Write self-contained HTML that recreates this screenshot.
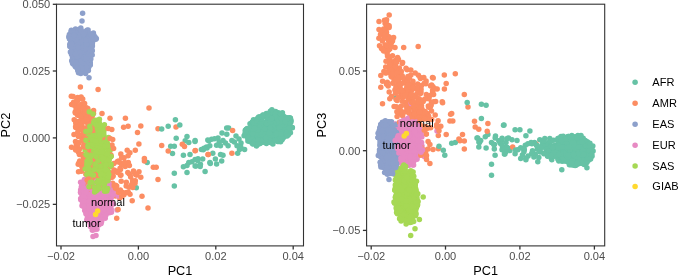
<!DOCTYPE html>
<html><head><meta charset="utf-8"><title>PCA</title>
<style>html,body{margin:0;padding:0;background:#fff}svg{display:block;will-change:transform}</style></head>
<body>
<svg width="685" height="276" viewBox="0 0 685 276">
<style>text{font-family:"Liberation Sans",Arial,sans-serif}.tk{font-size:10.5px;fill:#4d4d4d}.ti{font-size:12.7px;fill:#000}.an{font-size:10.5px;fill:#000}.lg{font-size:10.5px;fill:#000}circle{r:2.75px}.AFR{fill:#66C2A5}.AMR{fill:#FC8D62}.EAS{fill:#8DA0CB}.EUR{fill:#E78AC3}.SAS{fill:#A6D854}.GIAB{fill:#FFD92F}</style>
<rect width="685" height="276" fill="#fff"/>
<g>
<circle class="AFR" cx="257.8" cy="121.3"/>
<circle class="AFR" cx="172.5" cy="153.4"/>
<circle class="AFR" cx="284.9" cy="123.7"/>
<circle class="AFR" cx="287.0" cy="126.0"/>
<circle class="AFR" cx="250.3" cy="138.4"/>
<circle class="AFR" cx="174.3" cy="146.2"/>
<circle class="AFR" cx="275.8" cy="128.7"/>
<circle class="AFR" cx="247.4" cy="134.4"/>
<circle class="AFR" cx="252.8" cy="141.0"/>
<circle class="AFR" cx="271.1" cy="118.8"/>
<circle class="AFR" cx="282.6" cy="136.0"/>
<circle class="AFR" cx="270.1" cy="125.7"/>
<circle class="AFR" cx="265.4" cy="127.7"/>
<circle class="AFR" cx="268.1" cy="137.5"/>
<circle class="AFR" cx="281.2" cy="119.9"/>
<circle class="AFR" cx="268.1" cy="126.4"/>
<circle class="AFR" cx="275.5" cy="136.1"/>
<circle class="AFR" cx="265.4" cy="139.1"/>
<circle class="AFR" cx="278.7" cy="123.9"/>
<circle class="AFR" cx="256.4" cy="145.9"/>
<circle class="AFR" cx="265.8" cy="127.0"/>
<circle class="AFR" cx="212.8" cy="153.3"/>
<circle class="AFR" cx="192.0" cy="161.7"/>
<circle class="AFR" cx="274.1" cy="130.7"/>
<circle class="AFR" cx="276.3" cy="127.1"/>
<circle class="AFR" cx="274.9" cy="137.5"/>
<circle class="AFR" cx="256.6" cy="131.1"/>
<circle class="AFR" cx="256.5" cy="141.6"/>
<circle class="AFR" cx="253.9" cy="129.5"/>
<circle class="AFR" cx="263.9" cy="127.8"/>
<circle class="AFR" cx="257.7" cy="131.3"/>
<circle class="AFR" cx="279.6" cy="133.8"/>
<circle class="AFR" cx="202.7" cy="158.9"/>
<circle class="AFR" cx="260.3" cy="117.8"/>
<circle class="AFR" cx="268.8" cy="132.3"/>
<circle class="AFR" cx="258.9" cy="142.2"/>
<circle class="AFR" cx="250.7" cy="130.1"/>
<circle class="AFR" cx="285.6" cy="124.0"/>
<circle class="AFR" cx="272.7" cy="117.4"/>
<circle class="AFR" cx="282.5" cy="128.7"/>
<circle class="AFR" cx="286.8" cy="132.0"/>
<circle class="AFR" cx="185.2" cy="140.7"/>
<circle class="AFR" cx="255.4" cy="142.3"/>
<circle class="AFR" cx="250.7" cy="138.8"/>
<circle class="AFR" cx="284.7" cy="117.8"/>
<circle class="AFR" cx="252.6" cy="139.9"/>
<circle class="AFR" cx="283.4" cy="137.6"/>
<circle class="AFR" cx="246.6" cy="131.3"/>
<circle class="AFR" cx="269.7" cy="125.1"/>
<circle class="AFR" cx="256.9" cy="128.8"/>
<circle class="AFR" cx="261.5" cy="124.1"/>
<circle class="AFR" cx="245.3" cy="130.2"/>
<circle class="AFR" cx="250.0" cy="123.8"/>
<circle class="AFR" cx="275.0" cy="119.2"/>
<circle class="AFR" cx="271.8" cy="124.5"/>
<circle class="AFR" cx="195.0" cy="141.4"/>
<circle class="AFR" cx="261.1" cy="127.0"/>
<circle class="AFR" cx="287.4" cy="126.6"/>
<circle class="AFR" cx="283.5" cy="117.2"/>
<circle class="AFR" cx="200.4" cy="164.3"/>
<circle class="AFR" cx="266.3" cy="114.6"/>
<circle class="AFR" cx="269.1" cy="122.3"/>
<circle class="AFR" cx="290.8" cy="122.2"/>
<circle class="AFR" cx="136.3" cy="187.8"/>
<circle class="AFR" cx="239.0" cy="139.0"/>
<circle class="AFR" cx="253.5" cy="134.6"/>
<circle class="AFR" cx="190.0" cy="154.5"/>
<circle class="AFR" cx="276.7" cy="135.9"/>
<circle class="AFR" cx="268.9" cy="121.3"/>
<circle class="AFR" cx="284.6" cy="135.2"/>
<circle class="AFR" cx="256.7" cy="135.6"/>
<circle class="AFR" cx="290.4" cy="118.3"/>
<circle class="AFR" cx="273.2" cy="114.3"/>
<circle class="AFR" cx="249.8" cy="141.2"/>
<circle class="AFR" cx="252.0" cy="142.8"/>
<circle class="AFR" cx="260.7" cy="132.8"/>
<circle class="AFR" cx="256.1" cy="132.4"/>
<circle class="AFR" cx="251.6" cy="133.1"/>
<circle class="AFR" cx="267.6" cy="137.5"/>
<circle class="AFR" cx="260.9" cy="138.8"/>
<circle class="AFR" cx="258.5" cy="131.5"/>
<circle class="AFR" cx="215.4" cy="158.9"/>
<circle class="AFR" cx="263.0" cy="115.0"/>
<circle class="AFR" cx="268.3" cy="133.5"/>
<circle class="AFR" cx="266.3" cy="113.6"/>
<circle class="AFR" cx="280.6" cy="141.8"/>
<circle class="AFR" cx="277.7" cy="141.6"/>
<circle class="AFR" cx="263.1" cy="135.0"/>
<circle class="AFR" cx="283.4" cy="129.7"/>
<circle class="AFR" cx="264.5" cy="130.0"/>
<circle class="AFR" cx="290.8" cy="120.8"/>
<circle class="AFR" cx="285.0" cy="124.6"/>
<circle class="AFR" cx="218.0" cy="138.0"/>
<circle class="AFR" cx="262.0" cy="129.4"/>
<circle class="AFR" cx="259.1" cy="130.5"/>
<circle class="AFR" cx="281.3" cy="134.3"/>
<circle class="AFR" cx="279.3" cy="139.0"/>
<circle class="AFR" cx="255.5" cy="134.8"/>
<circle class="AFR" cx="272.1" cy="128.7"/>
<circle class="AFR" cx="272.0" cy="129.2"/>
<circle class="AFR" cx="261.0" cy="129.4"/>
<circle class="AFR" cx="268.2" cy="124.6"/>
<circle class="AFR" cx="216.6" cy="145.2"/>
<circle class="AFR" cx="195.1" cy="159.6"/>
<circle class="AFR" cx="287.6" cy="123.2"/>
<circle class="AFR" cx="187.0" cy="172.6"/>
<circle class="AFR" cx="258.9" cy="135.1"/>
<circle class="AFR" cx="270.9" cy="122.4"/>
<circle class="AFR" cx="260.4" cy="143.0"/>
<circle class="AFR" cx="268.8" cy="138.4"/>
<circle class="AFR" cx="275.6" cy="111.4"/>
<circle class="AFR" cx="255.3" cy="139.3"/>
<circle class="AFR" cx="288.0" cy="127.2"/>
<circle class="AFR" cx="263.8" cy="123.7"/>
<circle class="AFR" cx="256.1" cy="144.5"/>
<circle class="AFR" cx="253.1" cy="124.2"/>
<circle class="AFR" cx="259.1" cy="124.4"/>
<circle class="AFR" cx="286.0" cy="125.8"/>
<circle class="AFR" cx="285.5" cy="130.9"/>
<circle class="AFR" cx="271.1" cy="111.8"/>
<circle class="AFR" cx="266.6" cy="139.8"/>
<circle class="AFR" cx="256.3" cy="132.7"/>
<circle class="AFR" cx="267.6" cy="115.7"/>
<circle class="AFR" cx="278.3" cy="127.5"/>
<circle class="AFR" cx="256.9" cy="142.6"/>
<circle class="AFR" cx="273.1" cy="136.5"/>
<circle class="AFR" cx="286.8" cy="133.2"/>
<circle class="AFR" cx="275.8" cy="128.6"/>
<circle class="AFR" cx="280.2" cy="129.8"/>
<circle class="AFR" cx="277.8" cy="118.0"/>
<circle class="AFR" cx="209.9" cy="162.5"/>
<circle class="AFR" cx="284.7" cy="130.5"/>
<circle class="AFR" cx="255.7" cy="137.8"/>
<circle class="AFR" cx="284.5" cy="126.3"/>
<circle class="AFR" cx="250.8" cy="138.2"/>
<circle class="AFR" cx="228.1" cy="145.7"/>
<circle class="AFR" cx="147.2" cy="162.5"/>
<circle class="AFR" cx="256.7" cy="120.8"/>
<circle class="AFR" cx="288.2" cy="123.0"/>
<circle class="AFR" cx="282.0" cy="139.8"/>
<circle class="AFR" cx="260.9" cy="118.2"/>
<circle class="AFR" cx="255.1" cy="124.4"/>
<circle class="AFR" cx="275.0" cy="138.5"/>
<circle class="AFR" cx="270.7" cy="113.7"/>
<circle class="AFR" cx="247.9" cy="140.9"/>
<circle class="AFR" cx="272.0" cy="124.6"/>
<circle class="AFR" cx="289.6" cy="123.0"/>
<circle class="AFR" cx="195.1" cy="166.0"/>
<circle class="AFR" cx="279.9" cy="133.2"/>
<circle class="AFR" cx="246.3" cy="129.2"/>
<circle class="AFR" cx="288.9" cy="121.2"/>
<circle class="AFR" cx="285.6" cy="127.7"/>
<circle class="AFR" cx="264.3" cy="127.8"/>
<circle class="AFR" cx="281.4" cy="126.5"/>
<circle class="AFR" cx="260.9" cy="124.9"/>
<circle class="AFR" cx="282.1" cy="139.2"/>
<circle class="SAS" cx="93.0" cy="143.1"/>
<circle class="SAS" cx="105.2" cy="153.5"/>
<circle class="SAS" cx="92.3" cy="174.6"/>
<circle class="SAS" cx="108.9" cy="166.7"/>
<circle class="SAS" cx="100.7" cy="153.4"/>
<circle class="SAS" cx="98.0" cy="177.3"/>
<circle class="SAS" cx="105.5" cy="154.2"/>
<circle class="SAS" cx="100.4" cy="146.8"/>
<circle class="SAS" cx="86.3" cy="132.6"/>
<circle class="SAS" cx="90.1" cy="141.4"/>
<circle class="SAS" cx="90.3" cy="161.7"/>
<circle class="SAS" cx="100.9" cy="167.3"/>
<circle class="SAS" cx="88.9" cy="165.0"/>
<circle class="SAS" cx="100.2" cy="171.7"/>
<circle class="SAS" cx="88.6" cy="162.9"/>
<circle class="SAS" cx="104.1" cy="188.7"/>
<circle class="SAS" cx="93.0" cy="134.2"/>
<circle class="SAS" cx="88.5" cy="151.5"/>
<circle class="SAS" cx="107.2" cy="145.4"/>
<circle class="SAS" cx="90.7" cy="146.2"/>
<circle class="SAS" cx="85.3" cy="148.5"/>
<circle class="SAS" cx="92.7" cy="192.3"/>
<circle class="SAS" cx="104.1" cy="169.2"/>
<circle class="SAS" cx="104.7" cy="168.7"/>
<circle class="SAS" cx="107.4" cy="171.0"/>
<circle class="SAS" cx="100.7" cy="156.8"/>
<circle class="SAS" cx="88.0" cy="135.2"/>
<circle class="SAS" cx="108.6" cy="157.2"/>
<circle class="SAS" cx="86.4" cy="158.2"/>
<circle class="SAS" cx="86.7" cy="167.3"/>
<circle class="SAS" cx="90.3" cy="172.2"/>
<circle class="SAS" cx="94.8" cy="147.0"/>
<circle class="SAS" cx="101.5" cy="165.0"/>
<circle class="SAS" cx="97.4" cy="165.2"/>
<circle class="SAS" cx="106.2" cy="137.9"/>
<circle class="SAS" cx="87.8" cy="140.6"/>
<circle class="SAS" cx="85.1" cy="158.2"/>
<circle class="SAS" cx="85.7" cy="133.8"/>
<circle class="SAS" cx="91.2" cy="170.6"/>
<circle class="SAS" cx="88.0" cy="173.2"/>
<circle class="SAS" cx="93.0" cy="175.6"/>
<circle class="SAS" cx="103.8" cy="134.6"/>
<circle class="SAS" cx="97.9" cy="152.1"/>
<circle class="SAS" cx="101.8" cy="169.6"/>
<circle class="SAS" cx="101.4" cy="126.6"/>
<circle class="SAS" cx="108.9" cy="163.6"/>
<circle class="SAS" cx="108.4" cy="164.0"/>
<circle class="SAS" cx="107.2" cy="142.7"/>
<circle class="SAS" cx="100.1" cy="170.5"/>
<circle class="SAS" cx="95.3" cy="151.2"/>
<circle class="SAS" cx="99.1" cy="144.6"/>
<circle class="SAS" cx="96.6" cy="139.6"/>
<circle class="SAS" cx="109.0" cy="159.9"/>
<circle class="SAS" cx="93.7" cy="163.4"/>
<circle class="SAS" cx="98.2" cy="172.8"/>
<circle class="SAS" cx="93.8" cy="178.0"/>
<circle class="SAS" cx="108.9" cy="159.4"/>
<circle class="SAS" cx="91.9" cy="155.1"/>
<circle class="SAS" cx="90.0" cy="172.9"/>
<circle class="SAS" cx="106.7" cy="177.5"/>
<circle class="SAS" cx="96.5" cy="155.6"/>
<circle class="SAS" cx="89.6" cy="166.4"/>
<circle class="SAS" cx="90.4" cy="182.2"/>
<circle class="SAS" cx="102.3" cy="148.6"/>
<circle class="SAS" cx="96.8" cy="176.7"/>
<circle class="SAS" cx="101.4" cy="140.5"/>
<circle class="SAS" cx="102.0" cy="152.4"/>
<circle class="SAS" cx="98.1" cy="158.6"/>
<circle class="SAS" cx="104.6" cy="147.5"/>
<circle class="SAS" cx="105.3" cy="139.8"/>
<circle class="SAS" cx="85.1" cy="132.6"/>
<circle class="SAS" cx="108.7" cy="156.7"/>
<circle class="SAS" cx="108.5" cy="145.6"/>
<circle class="SAS" cx="88.0" cy="179.5"/>
<circle class="SAS" cx="89.0" cy="137.7"/>
<circle class="SAS" cx="88.3" cy="163.0"/>
<circle class="EAS" cx="86.8" cy="39.7"/>
<circle class="EAS" cx="83.3" cy="69.1"/>
<circle class="EAS" cx="85.6" cy="73.5"/>
<circle class="EAS" cx="88.8" cy="39.9"/>
<circle class="EAS" cx="89.0" cy="40.5"/>
<circle class="EAS" cx="91.6" cy="38.6"/>
<circle class="EAS" cx="85.3" cy="71.6"/>
<circle class="EAS" cx="69.4" cy="34.4"/>
<circle class="EAS" cx="76.7" cy="44.9"/>
<circle class="EAS" cx="78.8" cy="59.3"/>
<circle class="EAS" cx="73.1" cy="64.0"/>
<circle class="EAS" cx="83.8" cy="69.0"/>
<circle class="EAS" cx="86.5" cy="35.4"/>
<circle class="EAS" cx="81.8" cy="69.4"/>
<circle class="EAS" cx="85.3" cy="34.9"/>
<circle class="EAS" cx="80.6" cy="30.8"/>
<circle class="EAS" cx="75.5" cy="45.1"/>
<circle class="EAS" cx="73.3" cy="50.4"/>
<circle class="EAS" cx="71.2" cy="31.8"/>
<circle class="EAS" cx="76.8" cy="45.5"/>
<circle class="EAS" cx="81.3" cy="68.1"/>
<circle class="EAS" cx="75.3" cy="46.7"/>
<circle class="EAS" cx="88.4" cy="51.7"/>
<circle class="EAS" cx="86.7" cy="69.2"/>
<circle class="EAS" cx="84.1" cy="60.2"/>
<circle class="EAS" cx="81.7" cy="71.8"/>
<circle class="EAS" cx="81.8" cy="43.9"/>
<circle class="EAS" cx="78.9" cy="52.2"/>
<circle class="EAS" cx="80.3" cy="54.5"/>
<circle class="EAS" cx="79.4" cy="64.3"/>
<circle class="EAS" cx="85.6" cy="51.3"/>
<circle class="EAS" cx="88.7" cy="67.3"/>
<circle class="EAS" cx="72.5" cy="42.9"/>
<circle class="EAS" cx="75.6" cy="56.2"/>
<circle class="EAS" cx="87.4" cy="34.8"/>
<circle class="EAS" cx="89.0" cy="62.0"/>
<circle class="EAS" cx="86.1" cy="31.2"/>
<circle class="EAS" cx="77.9" cy="49.2"/>
<circle class="EAS" cx="79.6" cy="54.1"/>
<circle class="EAS" cx="87.3" cy="60.4"/>
<circle class="EAS" cx="85.3" cy="50.5"/>
<circle class="EAS" cx="75.2" cy="55.0"/>
<circle class="EAS" cx="89.4" cy="37.5"/>
<circle class="EAS" cx="80.3" cy="58.9"/>
<circle class="EAS" cx="72.5" cy="63.1"/>
<circle class="EAS" cx="87.4" cy="36.6"/>
<circle class="EAS" cx="81.9" cy="71.7"/>
<circle class="EAS" cx="76.4" cy="31.1"/>
<circle class="EAS" cx="70.2" cy="37.0"/>
<circle class="EAS" cx="93.7" cy="39.5"/>
<circle class="EAS" cx="86.2" cy="48.7"/>
<circle class="EAS" cx="88.4" cy="46.9"/>
<circle class="EAS" cx="82.5" cy="36.1"/>
<circle class="EAS" cx="69.6" cy="38.3"/>
<circle class="EAS" cx="80.2" cy="67.0"/>
<circle class="EAS" cx="83.2" cy="43.6"/>
<circle class="EAS" cx="84.9" cy="33.7"/>
<circle class="EAS" cx="75.2" cy="50.7"/>
<circle class="EAS" cx="75.5" cy="62.9"/>
<circle class="EAS" cx="87.0" cy="47.2"/>
<circle class="EAS" cx="72.0" cy="36.5"/>
<circle class="EAS" cx="83.7" cy="58.6"/>
<circle class="EAS" cx="72.0" cy="49.0"/>
<circle class="EUR" cx="94.1" cy="211.9"/>
<circle class="EUR" cx="90.8" cy="222.2"/>
<circle class="EUR" cx="99.9" cy="213.6"/>
<circle class="EUR" cx="89.5" cy="204.7"/>
<circle class="EUR" cx="106.7" cy="188.1"/>
<circle class="EUR" cx="92.9" cy="217.4"/>
<circle class="EUR" cx="102.4" cy="217.6"/>
<circle class="EUR" cx="105.2" cy="199.7"/>
<circle class="EUR" cx="103.5" cy="200.7"/>
<circle class="EUR" cx="106.6" cy="200.9"/>
<circle class="EUR" cx="83.6" cy="197.9"/>
<circle class="EUR" cx="90.4" cy="220.0"/>
<circle class="EUR" cx="101.7" cy="196.2"/>
<circle class="EUR" cx="104.1" cy="191.0"/>
<circle class="EUR" cx="101.6" cy="183.3"/>
<circle class="EUR" cx="105.3" cy="185.4"/>
<circle class="EUR" cx="85.4" cy="210.4"/>
<circle class="EUR" cx="101.1" cy="192.5"/>
<circle class="EUR" cx="92.0" cy="198.5"/>
<circle class="EUR" cx="99.1" cy="223.5"/>
<circle class="EUR" cx="98.9" cy="223.0"/>
<circle class="EUR" cx="105.5" cy="196.7"/>
<circle class="EUR" cx="102.9" cy="198.1"/>
<circle class="EUR" cx="102.4" cy="196.5"/>
<circle class="EUR" cx="93.4" cy="187.0"/>
<circle class="EUR" cx="96.8" cy="218.4"/>
<circle class="EUR" cx="101.8" cy="190.4"/>
<circle class="EUR" cx="91.5" cy="198.4"/>
<circle class="EUR" cx="103.7" cy="209.7"/>
<circle class="EUR" cx="104.5" cy="216.4"/>
<circle class="EUR" cx="95.1" cy="227.1"/>
<circle class="EUR" cx="85.3" cy="188.7"/>
<circle class="EUR" cx="93.8" cy="212.4"/>
<circle class="EUR" cx="93.9" cy="229.7"/>
<circle class="EUR" cx="96.1" cy="213.9"/>
<circle class="EUR" cx="94.5" cy="219.9"/>
<circle class="EUR" cx="109.9" cy="195.3"/>
<circle class="EUR" cx="93.5" cy="224.6"/>
<circle class="EUR" cx="84.7" cy="210.4"/>
<circle class="EUR" cx="83.1" cy="206.1"/>
<circle class="EUR" cx="92.2" cy="198.9"/>
<circle class="EUR" cx="92.6" cy="201.0"/>
<circle class="EUR" cx="93.6" cy="208.6"/>
<circle class="EUR" cx="94.3" cy="214.1"/>
<circle class="EUR" cx="88.7" cy="218.4"/>
<circle class="EUR" cx="111.2" cy="209.0"/>
<circle class="EUR" cx="85.3" cy="194.5"/>
<circle class="EUR" cx="92.5" cy="184.9"/>
<circle class="EUR" cx="87.8" cy="204.6"/>
<circle class="EUR" cx="102.2" cy="218.2"/>
<circle class="EUR" cx="96.9" cy="229.2"/>
<circle class="EUR" cx="87.8" cy="204.0"/>
<circle class="EUR" cx="108.2" cy="189.7"/>
<circle class="EUR" cx="89.8" cy="207.9"/>
<circle class="EUR" cx="94.3" cy="214.1"/>
<circle class="EUR" cx="105.7" cy="212.0"/>
<circle class="EUR" cx="93.0" cy="213.0"/>
<circle class="EUR" cx="103.6" cy="182.4"/>
<circle class="EUR" cx="86.8" cy="196.5"/>
<circle class="EUR" cx="86.6" cy="204.7"/>
<circle class="EUR" cx="93.8" cy="182.7"/>
<circle class="EUR" cx="106.9" cy="204.5"/>
<circle class="EUR" cx="100.2" cy="207.2"/>
<circle class="EUR" cx="102.2" cy="197.5"/>
<circle class="EUR" cx="89.0" cy="198.6"/>
<circle class="EUR" cx="99.2" cy="183.6"/>
<circle class="EUR" cx="86.3" cy="195.6"/>
<circle class="EUR" cx="107.2" cy="186.5"/>
<circle class="EUR" cx="99.1" cy="203.1"/>
<circle class="EUR" cx="87.5" cy="181.9"/>
<circle class="EUR" cx="86.1" cy="192.8"/>
<circle class="EUR" cx="90.2" cy="207.1"/>
<circle class="EUR" cx="99.5" cy="217.3"/>
<circle class="EUR" cx="110.3" cy="185.8"/>
<circle class="EUR" cx="103.7" cy="202.2"/>
<circle class="EUR" cx="88.3" cy="199.2"/>
<circle class="EUR" cx="103.5" cy="204.5"/>
<circle class="EUR" cx="98.3" cy="222.5"/>
<circle class="EUR" cx="89.9" cy="186.1"/>
<circle class="EUR" cx="84.4" cy="179.4"/>
<circle class="EUR" cx="90.8" cy="207.6"/>
<circle class="EUR" cx="89.0" cy="208.6"/>
<circle class="EUR" cx="94.8" cy="221.3"/>
<circle class="EUR" cx="91.7" cy="189.6"/>
<circle class="EUR" cx="95.6" cy="214.7"/>
<circle class="EUR" cx="102.8" cy="185.1"/>
<circle class="EUR" cx="92.0" cy="207.0"/>
<circle class="EUR" cx="111.0" cy="204.3"/>
<circle class="EUR" cx="111.4" cy="212.2"/>
<circle class="EUR" cx="110.8" cy="202.8"/>
<circle class="EUR" cx="103.7" cy="178.2"/>
<circle class="EUR" cx="102.2" cy="211.1"/>
<circle class="EUR" cx="107.6" cy="199.8"/>
<circle class="EUR" cx="81.2" cy="193.3"/>
<circle class="EUR" cx="82.2" cy="188.8"/>
<circle class="EUR" cx="82.0" cy="191.1"/>
<circle class="EUR" cx="108.9" cy="205.8"/>
<circle class="EAS" cx="86.3" cy="56.2"/>
<circle class="EAS" cx="80.2" cy="31.9"/>
<circle class="EAS" cx="93.0" cy="37.0"/>
<circle class="EAS" cx="78.6" cy="63.5"/>
<circle class="EAS" cx="93.4" cy="33.0"/>
<circle class="EAS" cx="94.9" cy="36.8"/>
<circle class="EAS" cx="89.7" cy="36.5"/>
<circle class="EAS" cx="74.6" cy="53.5"/>
<circle class="EAS" cx="71.3" cy="30.3"/>
<circle class="EAS" cx="85.2" cy="44.5"/>
<circle class="EAS" cx="85.5" cy="34.5"/>
<circle class="EAS" cx="80.8" cy="57.1"/>
<circle class="EAS" cx="70.9" cy="40.8"/>
<circle class="EAS" cx="89.1" cy="47.7"/>
<circle class="EAS" cx="92.9" cy="37.3"/>
<circle class="EAS" cx="73.9" cy="34.7"/>
<circle class="EAS" cx="78.2" cy="49.0"/>
<circle class="EAS" cx="80.2" cy="51.7"/>
<circle class="EAS" cx="89.9" cy="34.3"/>
<circle class="EAS" cx="89.8" cy="47.9"/>
<circle class="EAS" cx="87.6" cy="65.4"/>
<circle class="EAS" cx="72.9" cy="35.6"/>
<circle class="EAS" cx="74.1" cy="45.6"/>
<circle class="EAS" cx="71.5" cy="54.6"/>
<circle class="EAS" cx="78.3" cy="38.4"/>
<circle class="EAS" cx="80.8" cy="34.4"/>
<circle class="EAS" cx="75.1" cy="66.2"/>
<circle class="EAS" cx="72.5" cy="57.4"/>
<circle class="EAS" cx="80.1" cy="38.5"/>
<circle class="EAS" cx="89.4" cy="57.3"/>
<circle class="EAS" cx="78.7" cy="46.0"/>
<circle class="EAS" cx="92.3" cy="50.8"/>
<circle class="EAS" cx="77.0" cy="34.6"/>
<circle class="EAS" cx="88.5" cy="36.0"/>
<circle class="EAS" cx="79.7" cy="41.4"/>
<circle class="EAS" cx="77.3" cy="50.0"/>
<circle class="EAS" cx="80.3" cy="56.4"/>
<circle class="EAS" cx="84.6" cy="69.1"/>
<circle class="EAS" cx="89.7" cy="39.3"/>
<circle class="EAS" cx="88.3" cy="65.4"/>
<circle class="EAS" cx="87.0" cy="40.4"/>
<circle class="EAS" cx="89.2" cy="35.7"/>
<circle class="EAS" cx="80.3" cy="40.9"/>
<circle class="EAS" cx="90.2" cy="63.2"/>
<circle class="EAS" cx="75.3" cy="42.1"/>
<circle class="EAS" cx="69.8" cy="44.2"/>
<circle class="EAS" cx="83.8" cy="46.0"/>
<circle class="EAS" cx="76.2" cy="40.9"/>
<circle class="EAS" cx="86.8" cy="59.9"/>
<circle class="EAS" cx="86.5" cy="56.3"/>
<circle class="EAS" cx="77.0" cy="30.8"/>
<circle class="EAS" cx="76.4" cy="41.1"/>
<circle class="EAS" cx="85.4" cy="64.3"/>
<circle class="EAS" cx="77.8" cy="70.6"/>
<circle class="EAS" cx="87.1" cy="32.4"/>
<circle class="EAS" cx="88.4" cy="70.6"/>
<circle class="EAS" cx="74.6" cy="64.1"/>
<circle class="EAS" cx="75.3" cy="39.7"/>
<circle class="EAS" cx="75.5" cy="28.9"/>
<circle class="EAS" cx="91.8" cy="36.1"/>
<circle class="EAS" cx="87.8" cy="32.3"/>
<circle class="EAS" cx="71.3" cy="43.3"/>
<circle class="EAS" cx="80.8" cy="73.4"/>
<circle class="EAS" cx="74.1" cy="46.9"/>
<circle class="EAS" cx="76.8" cy="61.8"/>
<circle class="EAS" cx="76.3" cy="34.2"/>
<circle class="EAS" cx="85.8" cy="66.3"/>
<circle class="EAS" cx="87.7" cy="45.7"/>
<circle class="EAS" cx="86.3" cy="64.3"/>
<circle class="EAS" cx="71.6" cy="31.1"/>
<circle class="EAS" cx="80.4" cy="53.0"/>
<circle class="EAS" cx="80.1" cy="64.3"/>
<circle class="EAS" cx="88.7" cy="35.6"/>
<circle class="EAS" cx="71.7" cy="60.7"/>
<circle class="EAS" cx="76.1" cy="57.4"/>
<circle class="EAS" cx="88.6" cy="47.3"/>
<circle class="EAS" cx="77.0" cy="32.0"/>
<circle class="EAS" cx="75.4" cy="63.8"/>
<circle class="EAS" cx="90.2" cy="62.8"/>
<circle class="EAS" cx="75.1" cy="52.8"/>
<circle class="EAS" cx="78.5" cy="29.6"/>
<circle class="EAS" cx="87.0" cy="69.9"/>
<circle class="EAS" cx="83.2" cy="61.6"/>
<circle class="EAS" cx="84.0" cy="66.9"/>
<circle class="EAS" cx="83.5" cy="46.5"/>
<circle class="EAS" cx="79.9" cy="57.0"/>
<circle class="EAS" cx="75.1" cy="59.4"/>
<circle class="EAS" cx="69.8" cy="46.4"/>
<circle class="EAS" cx="86.7" cy="67.0"/>
<circle class="EAS" cx="71.2" cy="35.8"/>
<circle class="EAS" cx="76.5" cy="52.8"/>
<circle class="EAS" cx="88.9" cy="63.1"/>
<circle class="EAS" cx="72.3" cy="40.1"/>
<circle class="EAS" cx="81.7" cy="62.7"/>
<circle class="EAS" cx="81.6" cy="36.6"/>
<circle class="EAS" cx="86.1" cy="51.5"/>
<circle class="EAS" cx="87.5" cy="44.6"/>
<circle class="EAS" cx="78.5" cy="72.7"/>
<circle class="EAS" cx="75.6" cy="32.0"/>
<circle class="EAS" cx="79.0" cy="45.4"/>
<circle class="EAS" cx="75.0" cy="40.2"/>
<circle class="EAS" cx="76.5" cy="49.8"/>
<circle class="EAS" cx="87.8" cy="44.1"/>
<circle class="EAS" cx="79.1" cy="58.7"/>
<circle class="EAS" cx="79.0" cy="53.2"/>
<circle class="EAS" cx="85.2" cy="42.6"/>
<circle class="EAS" cx="85.8" cy="56.1"/>
<circle class="EAS" cx="83.1" cy="50.1"/>
<circle class="EAS" cx="75.6" cy="45.7"/>
<circle class="EAS" cx="85.0" cy="55.7"/>
<circle class="EAS" cx="87.7" cy="41.1"/>
<circle class="EAS" cx="83.1" cy="60.4"/>
<circle class="EAS" cx="81.8" cy="62.4"/>
<circle class="EAS" cx="83.8" cy="43.4"/>
<circle class="EAS" cx="82.8" cy="64.7"/>
<circle class="EAS" cx="79.3" cy="30.2"/>
<circle class="EAS" cx="78.8" cy="64.2"/>
<circle class="EAS" cx="89.0" cy="77.7"/>
<circle class="EAS" cx="93.6" cy="34.8"/>
<circle class="EAS" cx="81.8" cy="40.2"/>
<circle class="EAS" cx="75.6" cy="36.8"/>
<circle class="EAS" cx="72.5" cy="31.8"/>
<circle class="EAS" cx="87.0" cy="30.2"/>
<circle class="EAS" cx="74.4" cy="39.4"/>
<circle class="EAS" cx="69.2" cy="36.5"/>
<circle class="EAS" cx="86.5" cy="66.1"/>
<circle class="EAS" cx="86.7" cy="51.7"/>
<circle class="EAS" cx="91.6" cy="34.8"/>
<circle class="EAS" cx="83.2" cy="39.2"/>
<circle class="EAS" cx="74.6" cy="62.0"/>
<circle class="EAS" cx="79.2" cy="41.6"/>
<circle class="EAS" cx="90.8" cy="59.0"/>
<circle class="AMR" cx="78.4" cy="152.1"/>
<circle class="AMR" cx="81.7" cy="128.2"/>
<circle class="AMR" cx="81.3" cy="104.3"/>
<circle class="AMR" cx="98.0" cy="171.9"/>
<circle class="AMR" cx="84.2" cy="113.0"/>
<circle class="AMR" cx="93.9" cy="171.7"/>
<circle class="AMR" cx="94.5" cy="150.8"/>
<circle class="AMR" cx="89.0" cy="153.0"/>
<circle class="AMR" cx="148.0" cy="208.0"/>
<circle class="AMR" cx="71.3" cy="96.2"/>
<circle class="AMR" cx="85.9" cy="120.5"/>
<circle class="AMR" cx="115.8" cy="171.1"/>
<circle class="AMR" cx="88.2" cy="173.0"/>
<circle class="AMR" cx="129.3" cy="174.0"/>
<circle class="AMR" cx="115.4" cy="196.1"/>
<circle class="AMR" cx="136.8" cy="174.8"/>
<circle class="AMR" cx="118.4" cy="161.0"/>
<circle class="AMR" cx="168.2" cy="150.9"/>
<circle class="AMR" cx="111.6" cy="164.7"/>
<circle class="AMR" cx="126.6" cy="192.5"/>
<circle class="AMR" cx="119.6" cy="198.1"/>
<circle class="AMR" cx="79.1" cy="162.4"/>
<circle class="AMR" cx="120.8" cy="154.0"/>
<circle class="AMR" cx="78.3" cy="121.5"/>
<circle class="AMR" cx="85.1" cy="159.0"/>
<circle class="AMR" cx="90.6" cy="135.2"/>
<circle class="AMR" cx="95.7" cy="158.4"/>
<circle class="AMR" cx="78.3" cy="142.8"/>
<circle class="AMR" cx="74.2" cy="119.7"/>
<circle class="AMR" cx="80.6" cy="97.7"/>
<circle class="AMR" cx="89.4" cy="114.8"/>
<circle class="AMR" cx="88.7" cy="164.0"/>
<circle class="AMR" cx="87.6" cy="132.0"/>
<circle class="AMR" cx="87.4" cy="135.5"/>
<circle class="AMR" cx="91.8" cy="179.7"/>
<circle class="AMR" cx="90.7" cy="171.1"/>
<circle class="AMR" cx="116.3" cy="189.6"/>
<circle class="AMR" cx="82.1" cy="126.3"/>
<circle class="AMR" cx="95.1" cy="141.5"/>
<circle class="AMR" cx="135.3" cy="180.8"/>
<circle class="AMR" cx="85.9" cy="174.2"/>
<circle class="AMR" cx="87.8" cy="174.9"/>
<circle class="AMR" cx="82.2" cy="140.4"/>
<circle class="AMR" cx="86.1" cy="162.1"/>
<circle class="AMR" cx="96.3" cy="150.8"/>
<circle class="AMR" cx="79.3" cy="111.7"/>
<circle class="AMR" cx="112.7" cy="139.5"/>
<circle class="AMR" cx="87.8" cy="119.3"/>
<circle class="AMR" cx="208.0" cy="154.5"/>
<circle class="AMR" cx="94.7" cy="123.3"/>
<circle class="AMR" cx="81.5" cy="171.3"/>
<circle class="AMR" cx="88.4" cy="120.8"/>
<circle class="AMR" cx="129.9" cy="152.7"/>
<circle class="AMR" cx="153.3" cy="167.2"/>
<circle class="AMR" cx="75.2" cy="111.9"/>
<circle class="AMR" cx="73.1" cy="96.5"/>
<circle class="AMR" cx="112.0" cy="204.0"/>
<circle class="AMR" cx="75.0" cy="104.0"/>
<circle class="AMR" cx="119.9" cy="162.5"/>
<circle class="AMR" cx="158.0" cy="128.8"/>
<circle class="AMR" cx="97.4" cy="152.6"/>
<circle class="AMR" cx="89.0" cy="166.4"/>
<circle class="AMR" cx="76.1" cy="108.8"/>
<circle class="AMR" cx="82.7" cy="113.7"/>
<circle class="AMR" cx="121.2" cy="181.3"/>
<circle class="AMR" cx="128.0" cy="163.1"/>
<circle class="AMR" cx="156.2" cy="167.2"/>
<circle class="AMR" cx="90.8" cy="136.2"/>
<circle class="AMR" cx="113.0" cy="186.0"/>
<circle class="AMR" cx="82.7" cy="98.9"/>
<circle class="AMR" cx="130.0" cy="194.2"/>
<circle class="AMR" cx="89.1" cy="168.1"/>
<circle class="AMR" cx="158.0" cy="179.5"/>
<circle class="AMR" cx="75.4" cy="112.9"/>
<circle class="AMR" cx="90.4" cy="170.8"/>
<circle class="AMR" cx="93.6" cy="110.5"/>
<circle class="AMR" cx="111.8" cy="129.5"/>
<circle class="AFR" cx="286.8" cy="122.3"/>
<circle class="AFR" cx="271.8" cy="134.1"/>
<circle class="AFR" cx="259.2" cy="122.5"/>
<circle class="AFR" cx="279.4" cy="124.7"/>
<circle class="AFR" cx="276.4" cy="118.2"/>
<circle class="AFR" cx="257.6" cy="143.3"/>
<circle class="AFR" cx="259.9" cy="130.9"/>
<circle class="AFR" cx="228.6" cy="127.9"/>
<circle class="AFR" cx="275.2" cy="131.6"/>
<circle class="AFR" cx="255.6" cy="125.9"/>
<circle class="AFR" cx="286.6" cy="127.8"/>
<circle class="AFR" cx="258.9" cy="133.1"/>
<circle class="AFR" cx="269.3" cy="135.5"/>
<circle class="AFR" cx="263.2" cy="142.2"/>
<circle class="AFR" cx="287.9" cy="126.6"/>
<circle class="AFR" cx="255.1" cy="121.4"/>
<circle class="AFR" cx="278.1" cy="131.5"/>
<circle class="AFR" cx="259.4" cy="123.5"/>
<circle class="AFR" cx="270.3" cy="140.5"/>
<circle class="AFR" cx="245.9" cy="132.1"/>
<circle class="AFR" cx="276.5" cy="122.6"/>
<circle class="AFR" cx="255.8" cy="125.2"/>
<circle class="AFR" cx="280.3" cy="126.3"/>
<circle class="AFR" cx="289.0" cy="131.2"/>
<circle class="AFR" cx="206.5" cy="147.0"/>
<circle class="AFR" cx="258.5" cy="122.3"/>
<circle class="AFR" cx="234.4" cy="141.9"/>
<circle class="AFR" cx="251.6" cy="122.9"/>
<circle class="AFR" cx="239.5" cy="149.5"/>
<circle class="AFR" cx="278.5" cy="141.5"/>
<circle class="AFR" cx="250.8" cy="127.4"/>
<circle class="AFR" cx="269.9" cy="125.8"/>
<circle class="AFR" cx="288.6" cy="129.4"/>
<circle class="AFR" cx="246.1" cy="130.7"/>
<circle class="AFR" cx="285.1" cy="120.6"/>
<circle class="AFR" cx="273.7" cy="136.1"/>
<circle class="AFR" cx="277.1" cy="126.8"/>
<circle class="AFR" cx="263.5" cy="140.1"/>
<circle class="AFR" cx="259.8" cy="125.7"/>
<circle class="AFR" cx="267.3" cy="118.0"/>
<circle class="AFR" cx="253.1" cy="137.3"/>
<circle class="AFR" cx="254.3" cy="132.9"/>
<circle class="AFR" cx="274.0" cy="125.2"/>
<circle class="AFR" cx="183.4" cy="155.2"/>
<circle class="AFR" cx="269.6" cy="115.9"/>
<circle class="AFR" cx="196.0" cy="166.0"/>
<circle class="AFR" cx="257.1" cy="138.0"/>
<circle class="AFR" cx="290.4" cy="132.7"/>
<circle class="AFR" cx="278.8" cy="135.2"/>
<circle class="AFR" cx="280.0" cy="130.3"/>
<circle class="AFR" cx="208.8" cy="140.7"/>
<circle class="AFR" cx="282.4" cy="112.8"/>
<circle class="AFR" cx="266.8" cy="124.4"/>
<circle class="AFR" cx="272.8" cy="132.9"/>
<circle class="AFR" cx="253.1" cy="124.0"/>
<circle class="AFR" cx="253.5" cy="119.8"/>
<circle class="AFR" cx="247.3" cy="133.6"/>
<circle class="AFR" cx="268.9" cy="122.7"/>
<circle class="AFR" cx="273.3" cy="138.9"/>
<circle class="AFR" cx="278.5" cy="112.8"/>
<circle class="AFR" cx="253.3" cy="136.5"/>
<circle class="AFR" cx="284.5" cy="133.1"/>
<circle class="AFR" cx="250.2" cy="134.7"/>
<circle class="AFR" cx="269.6" cy="113.0"/>
<circle class="AFR" cx="266.4" cy="132.2"/>
<circle class="AFR" cx="275.2" cy="127.4"/>
<circle class="AFR" cx="268.1" cy="133.3"/>
<circle class="AFR" cx="257.9" cy="124.1"/>
<circle class="AFR" cx="244.1" cy="135.7"/>
<circle class="AFR" cx="284.5" cy="128.5"/>
<circle class="AFR" cx="279.6" cy="119.3"/>
<circle class="AFR" cx="276.1" cy="138.4"/>
<circle class="AFR" cx="241.0" cy="143.0"/>
<circle class="EUR" cx="86.7" cy="183.0"/>
<circle class="EUR" cx="110.4" cy="208.7"/>
<circle class="EUR" cx="86.9" cy="211.5"/>
<circle class="EUR" cx="107.4" cy="200.9"/>
<circle class="EUR" cx="104.9" cy="191.0"/>
<circle class="EUR" cx="105.6" cy="202.4"/>
<circle class="EUR" cx="81.3" cy="186.9"/>
<circle class="EUR" cx="97.0" cy="209.1"/>
<circle class="EUR" cx="97.3" cy="204.6"/>
<circle class="EUR" cx="93.1" cy="222.2"/>
<circle class="EUR" cx="98.7" cy="224.9"/>
<circle class="EUR" cx="86.9" cy="210.5"/>
<circle class="EUR" cx="94.1" cy="220.3"/>
<circle class="EUR" cx="103.4" cy="205.8"/>
<circle class="EUR" cx="92.6" cy="207.9"/>
<circle class="EUR" cx="86.2" cy="212.4"/>
<circle class="EUR" cx="81.3" cy="193.6"/>
<circle class="EUR" cx="107.6" cy="187.9"/>
<circle class="EUR" cx="91.8" cy="182.0"/>
<circle class="EUR" cx="82.5" cy="198.7"/>
<circle class="EUR" cx="99.1" cy="177.6"/>
<circle class="EUR" cx="109.7" cy="200.6"/>
<circle class="EUR" cx="90.3" cy="187.8"/>
<circle class="EUR" cx="100.2" cy="223.8"/>
<circle class="EUR" cx="108.1" cy="184.8"/>
<circle class="EUR" cx="85.1" cy="183.4"/>
<circle class="EUR" cx="93.2" cy="185.6"/>
<circle class="EUR" cx="93.3" cy="206.7"/>
<circle class="EUR" cx="106.6" cy="210.1"/>
<circle class="EUR" cx="87.4" cy="217.0"/>
<circle class="EUR" cx="83.3" cy="186.7"/>
<circle class="EUR" cx="97.2" cy="187.9"/>
<circle class="EUR" cx="103.5" cy="194.5"/>
<circle class="EUR" cx="103.4" cy="199.5"/>
<circle class="EUR" cx="101.6" cy="219.6"/>
<circle class="EUR" cx="117.0" cy="210.0"/>
<circle class="EUR" cx="98.0" cy="194.2"/>
<circle class="EUR" cx="100.2" cy="198.6"/>
<circle class="EUR" cx="94.1" cy="203.8"/>
<circle class="EUR" cx="84.9" cy="203.3"/>
<circle class="EUR" cx="107.5" cy="190.3"/>
<circle class="EUR" cx="86.8" cy="203.9"/>
<circle class="EUR" cx="89.9" cy="176.9"/>
<circle class="EUR" cx="100.8" cy="217.5"/>
<circle class="EUR" cx="93.2" cy="184.0"/>
<circle class="EUR" cx="88.4" cy="181.2"/>
<circle class="EUR" cx="98.2" cy="220.3"/>
<circle class="EUR" cx="96.1" cy="217.1"/>
<circle class="EUR" cx="88.9" cy="199.3"/>
<circle class="EUR" cx="102.5" cy="198.2"/>
<circle class="EUR" cx="87.2" cy="206.8"/>
<circle class="EUR" cx="96.5" cy="206.3"/>
<circle class="EUR" cx="99.7" cy="211.4"/>
<circle class="EUR" cx="97.2" cy="189.9"/>
<circle class="EUR" cx="93.1" cy="183.6"/>
<circle class="EUR" cx="94.6" cy="211.7"/>
<circle class="EUR" cx="84.2" cy="196.9"/>
<circle class="EUR" cx="85.8" cy="187.7"/>
<circle class="EUR" cx="81.8" cy="184.4"/>
<circle class="EUR" cx="95.7" cy="180.9"/>
<circle class="EUR" cx="98.6" cy="197.9"/>
<circle class="EUR" cx="95.9" cy="200.5"/>
<circle class="EUR" cx="96.8" cy="212.2"/>
<circle class="EUR" cx="94.6" cy="199.3"/>
<circle class="EUR" cx="108.5" cy="198.6"/>
<circle class="EUR" cx="90.0" cy="216.0"/>
<circle class="EUR" cx="86.7" cy="204.3"/>
<circle class="EUR" cx="101.6" cy="221.5"/>
<circle class="EUR" cx="81.0" cy="199.9"/>
<circle class="EUR" cx="96.3" cy="209.4"/>
<circle class="EUR" cx="90.0" cy="223.1"/>
<circle class="EUR" cx="102.4" cy="195.3"/>
<circle class="EUR" cx="92.9" cy="226.6"/>
<circle class="EUR" cx="93.5" cy="183.6"/>
<circle class="EUR" cx="108.3" cy="193.3"/>
<circle class="EUR" cx="93.1" cy="192.9"/>
<circle class="EUR" cx="99.3" cy="207.5"/>
<circle class="EUR" cx="89.1" cy="220.5"/>
<circle class="EUR" cx="98.4" cy="214.4"/>
<circle class="EUR" cx="86.3" cy="187.6"/>
<circle class="EUR" cx="104.3" cy="212.8"/>
<circle class="EUR" cx="101.2" cy="214.3"/>
<circle class="EUR" cx="83.0" cy="192.2"/>
<circle class="EUR" cx="92.5" cy="211.2"/>
<circle class="EUR" cx="89.5" cy="177.4"/>
<circle class="EUR" cx="95.1" cy="212.4"/>
<circle class="EUR" cx="91.4" cy="194.3"/>
<circle class="EUR" cx="102.9" cy="193.8"/>
<circle class="EUR" cx="106.8" cy="198.7"/>
<circle class="EUR" cx="92.7" cy="214.7"/>
<circle class="EUR" cx="96.1" cy="216.3"/>
<circle class="EUR" cx="89.5" cy="196.1"/>
<circle class="EUR" cx="101.6" cy="212.0"/>
<circle class="EUR" cx="98.4" cy="216.9"/>
<circle class="EUR" cx="87.8" cy="200.8"/>
<circle class="EUR" cx="103.8" cy="209.7"/>
<circle class="EUR" cx="107.7" cy="189.7"/>
<circle class="EUR" cx="111.4" cy="197.2"/>
<circle class="EUR" cx="89.4" cy="211.5"/>
<circle class="EUR" cx="94.9" cy="186.7"/>
<circle class="EUR" cx="82.7" cy="196.7"/>
<circle class="EUR" cx="89.7" cy="206.8"/>
<circle class="EUR" cx="104.1" cy="201.0"/>
<circle class="EUR" cx="85.5" cy="196.1"/>
<circle class="EUR" cx="83.8" cy="194.1"/>
<circle class="EUR" cx="93.3" cy="191.1"/>
<circle class="EUR" cx="91.4" cy="221.6"/>
<circle class="EUR" cx="106.0" cy="214.3"/>
<circle class="EUR" cx="94.1" cy="195.0"/>
<circle class="EUR" cx="90.2" cy="188.2"/>
<circle class="EUR" cx="96.6" cy="204.4"/>
<circle class="EUR" cx="89.3" cy="183.2"/>
<circle class="EUR" cx="103.5" cy="208.2"/>
<circle class="EUR" cx="113.2" cy="204.0"/>
<circle class="EUR" cx="103.7" cy="186.5"/>
<circle class="EUR" cx="96.3" cy="201.0"/>
<circle class="EUR" cx="99.8" cy="216.1"/>
<circle class="EUR" cx="90.9" cy="212.0"/>
<circle class="EUR" cx="96.7" cy="197.9"/>
<circle class="EUR" cx="101.4" cy="194.3"/>
<circle class="EUR" cx="95.0" cy="196.1"/>
<circle class="EUR" cx="87.2" cy="200.3"/>
<circle class="EUR" cx="100.2" cy="213.7"/>
<circle class="EUR" cx="95.8" cy="186.1"/>
<circle class="EUR" cx="112.2" cy="194.1"/>
<circle class="EUR" cx="91.1" cy="213.5"/>
<circle class="EUR" cx="102.8" cy="201.4"/>
<circle class="EUR" cx="95.6" cy="195.1"/>
<circle class="EUR" cx="94.9" cy="192.2"/>
<circle class="EUR" cx="82.9" cy="191.7"/>
<circle class="EUR" cx="109.4" cy="212.8"/>
<circle class="EUR" cx="111.9" cy="193.2"/>
<circle class="EUR" cx="99.8" cy="192.0"/>
<circle class="EUR" cx="95.0" cy="200.2"/>
<circle class="EUR" cx="90.7" cy="184.6"/>
<circle class="EUR" cx="96.5" cy="193.3"/>
<circle class="EUR" cx="85.7" cy="207.9"/>
<circle class="EUR" cx="93.1" cy="217.9"/>
<circle class="EUR" cx="89.0" cy="192.7"/>
<circle class="EUR" cx="84.8" cy="199.2"/>
<circle class="EUR" cx="96.0" cy="235.5"/>
<circle class="EUR" cx="107.9" cy="212.2"/>
<circle class="EUR" cx="92.7" cy="209.7"/>
<circle class="EUR" cx="85.9" cy="197.6"/>
<circle class="EUR" cx="105.3" cy="208.6"/>
<circle class="EUR" cx="89.6" cy="186.4"/>
<circle class="EUR" cx="96.2" cy="209.1"/>
<circle class="EUR" cx="86.8" cy="219.7"/>
<circle class="EUR" cx="95.8" cy="217.0"/>
<circle class="EUR" cx="99.9" cy="189.4"/>
<circle class="EUR" cx="85.0" cy="183.1"/>
<circle class="EUR" cx="82.0" cy="205.8"/>
<circle class="EUR" cx="103.0" cy="195.6"/>
<circle class="EUR" cx="94.0" cy="207.9"/>
<circle class="EUR" cx="93.4" cy="189.6"/>
<circle class="EUR" cx="88.9" cy="186.8"/>
<circle class="EUR" cx="80.5" cy="192.2"/>
<circle class="EUR" cx="107.6" cy="193.6"/>
<circle class="EUR" cx="93.9" cy="209.0"/>
<circle class="EUR" cx="106.1" cy="181.3"/>
<circle class="EUR" cx="92.8" cy="207.9"/>
<circle class="EUR" cx="92.9" cy="228.1"/>
<circle class="EUR" cx="95.9" cy="212.6"/>
<circle class="EUR" cx="104.8" cy="179.1"/>
<circle class="EUR" cx="107.5" cy="187.7"/>
<circle class="EUR" cx="93.2" cy="210.8"/>
<circle class="EUR" cx="95.1" cy="182.9"/>
<circle class="EUR" cx="102.9" cy="192.3"/>
<circle class="EUR" cx="94.8" cy="205.4"/>
<circle class="EUR" cx="103.9" cy="188.3"/>
<circle class="EUR" cx="88.1" cy="199.4"/>
<circle class="EUR" cx="93.8" cy="193.9"/>
<circle class="EUR" cx="93.8" cy="210.9"/>
<circle class="EUR" cx="98.2" cy="182.1"/>
<circle class="EUR" cx="92.0" cy="178.8"/>
<circle class="EUR" cx="108.3" cy="200.9"/>
<circle class="EUR" cx="111.1" cy="200.9"/>
<circle class="EUR" cx="103.1" cy="200.7"/>
<circle class="EUR" cx="92.1" cy="209.8"/>
<circle class="SAS" cx="92.7" cy="133.5"/>
<circle class="SAS" cx="94.1" cy="182.8"/>
<circle class="SAS" cx="92.2" cy="189.6"/>
<circle class="SAS" cx="99.0" cy="151.0"/>
<circle class="SAS" cx="89.4" cy="167.6"/>
<circle class="SAS" cx="108.5" cy="185.1"/>
<circle class="SAS" cx="109.7" cy="150.3"/>
<circle class="SAS" cx="86.4" cy="129.0"/>
<circle class="SAS" cx="94.6" cy="133.0"/>
<circle class="SAS" cx="96.0" cy="141.0"/>
<circle class="SAS" cx="105.7" cy="154.4"/>
<circle class="SAS" cx="88.1" cy="169.4"/>
<circle class="SAS" cx="92.8" cy="180.9"/>
<circle class="SAS" cx="90.6" cy="138.3"/>
<circle class="SAS" cx="108.6" cy="137.4"/>
<circle class="SAS" cx="103.4" cy="176.7"/>
<circle class="SAS" cx="93.5" cy="184.2"/>
<circle class="SAS" cx="101.4" cy="180.5"/>
<circle class="SAS" cx="97.3" cy="161.6"/>
<circle class="SAS" cx="88.0" cy="146.5"/>
<circle class="SAS" cx="92.3" cy="189.9"/>
<circle class="SAS" cx="94.9" cy="125.8"/>
<circle class="SAS" cx="96.5" cy="149.0"/>
<circle class="SAS" cx="107.7" cy="174.3"/>
<circle class="SAS" cx="105.0" cy="162.8"/>
<circle class="SAS" cx="93.5" cy="127.1"/>
<circle class="SAS" cx="104.2" cy="128.9"/>
<circle class="SAS" cx="100.4" cy="137.1"/>
<circle class="SAS" cx="103.5" cy="144.5"/>
<circle class="SAS" cx="95.9" cy="176.9"/>
<circle class="SAS" cx="92.2" cy="151.5"/>
<circle class="SAS" cx="88.8" cy="175.7"/>
<circle class="SAS" cx="95.7" cy="120.5"/>
<circle class="SAS" cx="96.9" cy="125.4"/>
<circle class="SAS" cx="93.7" cy="122.0"/>
<circle class="SAS" cx="89.6" cy="159.0"/>
<circle class="SAS" cx="106.6" cy="168.2"/>
<circle class="SAS" cx="96.6" cy="151.9"/>
<circle class="SAS" cx="91.7" cy="160.4"/>
<circle class="SAS" cx="110.6" cy="157.1"/>
<circle class="SAS" cx="86.6" cy="162.8"/>
<circle class="SAS" cx="93.5" cy="178.7"/>
<circle class="SAS" cx="96.0" cy="158.8"/>
<circle class="SAS" cx="91.9" cy="186.3"/>
<circle class="SAS" cx="107.7" cy="162.3"/>
<circle class="SAS" cx="97.1" cy="191.5"/>
<circle class="SAS" cx="89.1" cy="125.6"/>
<circle class="SAS" cx="106.1" cy="142.0"/>
<circle class="SAS" cx="102.2" cy="170.0"/>
<circle class="SAS" cx="93.2" cy="160.0"/>
<circle class="SAS" cx="92.8" cy="186.8"/>
<circle class="SAS" cx="99.5" cy="129.3"/>
<circle class="SAS" cx="92.9" cy="155.9"/>
<circle class="SAS" cx="109.1" cy="148.0"/>
<circle class="SAS" cx="106.2" cy="141.8"/>
<circle class="SAS" cx="95.6" cy="133.6"/>
<circle class="SAS" cx="94.1" cy="136.2"/>
<circle class="SAS" cx="92.5" cy="174.2"/>
<circle class="SAS" cx="98.1" cy="127.1"/>
<circle class="SAS" cx="105.7" cy="159.6"/>
<circle class="SAS" cx="92.4" cy="171.8"/>
<circle class="SAS" cx="105.1" cy="176.4"/>
<circle class="SAS" cx="103.3" cy="183.2"/>
<circle class="SAS" cx="92.1" cy="129.5"/>
<circle class="SAS" cx="93.8" cy="149.2"/>
<circle class="SAS" cx="88.2" cy="133.0"/>
<circle class="SAS" cx="95.8" cy="164.1"/>
<circle class="SAS" cx="107.4" cy="169.8"/>
<circle class="SAS" cx="94.2" cy="177.7"/>
<circle class="SAS" cx="86.8" cy="165.7"/>
<circle class="SAS" cx="102.1" cy="164.9"/>
<circle class="SAS" cx="99.3" cy="122.7"/>
<circle class="SAS" cx="105.5" cy="178.1"/>
<circle class="SAS" cx="96.2" cy="185.4"/>
<circle class="SAS" cx="86.3" cy="134.6"/>
<circle class="SAS" cx="101.8" cy="147.5"/>
<circle class="SAS" cx="101.4" cy="171.1"/>
<circle class="SAS" cx="91.6" cy="146.2"/>
<circle class="AFR" cx="249.3" cy="135.1"/>
<circle class="AFR" cx="198.0" cy="158.8"/>
<circle class="AFR" cx="277.7" cy="140.9"/>
<circle class="AFR" cx="256.7" cy="138.6"/>
<circle class="AFR" cx="275.8" cy="126.9"/>
<circle class="AFR" cx="270.1" cy="136.5"/>
<circle class="AFR" cx="205.1" cy="171.5"/>
<circle class="AFR" cx="211.6" cy="139.3"/>
<circle class="AFR" cx="254.4" cy="143.5"/>
<circle class="AFR" cx="282.7" cy="131.7"/>
<circle class="AFR" cx="161.7" cy="129.1"/>
<circle class="AFR" cx="279.3" cy="139.7"/>
<circle class="AFR" cx="260.0" cy="130.4"/>
<circle class="AFR" cx="275.2" cy="130.6"/>
<circle class="AFR" cx="276.3" cy="128.2"/>
<circle class="AFR" cx="286.5" cy="132.8"/>
<circle class="AFR" cx="269.0" cy="124.8"/>
<circle class="AFR" cx="250.3" cy="139.5"/>
<circle class="AFR" cx="290.2" cy="126.2"/>
<circle class="AFR" cx="288.3" cy="120.2"/>
<circle class="AFR" cx="289.6" cy="123.5"/>
<circle class="AFR" cx="275.7" cy="139.9"/>
<circle class="AFR" cx="277.7" cy="138.5"/>
<circle class="AFR" cx="281.2" cy="132.5"/>
<circle class="AFR" cx="253.4" cy="131.5"/>
<circle class="AFR" cx="252.4" cy="122.0"/>
<circle class="AFR" cx="266.5" cy="116.5"/>
<circle class="AFR" cx="283.1" cy="115.7"/>
<circle class="AFR" cx="277.0" cy="124.9"/>
<circle class="AFR" cx="270.7" cy="122.9"/>
<circle class="AFR" cx="273.5" cy="123.1"/>
<circle class="AFR" cx="267.4" cy="133.4"/>
<circle class="AFR" cx="275.0" cy="115.9"/>
<circle class="AFR" cx="288.3" cy="120.6"/>
<circle class="AFR" cx="283.5" cy="132.6"/>
<circle class="AFR" cx="282.3" cy="120.0"/>
<circle class="AFR" cx="272.3" cy="123.4"/>
<circle class="AFR" cx="265.1" cy="124.4"/>
<circle class="AFR" cx="274.4" cy="140.4"/>
<circle class="AFR" cx="240.8" cy="147.0"/>
<circle class="AFR" cx="257.5" cy="135.5"/>
<circle class="AFR" cx="286.4" cy="135.3"/>
<circle class="AFR" cx="207.0" cy="148.0"/>
<circle class="AFR" cx="285.7" cy="133.6"/>
<circle class="AFR" cx="237.7" cy="153.3"/>
<circle class="AFR" cx="286.9" cy="118.5"/>
<circle class="AFR" cx="275.8" cy="126.0"/>
<circle class="AFR" cx="269.5" cy="122.1"/>
<circle class="AFR" cx="263.6" cy="131.4"/>
<circle class="AFR" cx="269.6" cy="123.4"/>
<circle class="AFR" cx="278.0" cy="128.5"/>
<circle class="AFR" cx="278.0" cy="127.4"/>
<circle class="AFR" cx="250.4" cy="132.5"/>
<circle class="AFR" cx="263.3" cy="134.5"/>
<circle class="AFR" cx="266.7" cy="139.4"/>
<circle class="AFR" cx="176.2" cy="138.2"/>
<circle class="AFR" cx="247.2" cy="128.5"/>
<circle class="AFR" cx="237.0" cy="145.7"/>
<circle class="AFR" cx="276.3" cy="126.5"/>
<circle class="AFR" cx="278.3" cy="126.0"/>
<circle class="AFR" cx="270.6" cy="142.4"/>
<circle class="AFR" cx="264.1" cy="131.6"/>
<circle class="AFR" cx="290.9" cy="120.6"/>
<circle class="AFR" cx="270.5" cy="133.7"/>
<circle class="AFR" cx="266.4" cy="143.4"/>
<circle class="AFR" cx="276.9" cy="113.7"/>
<circle class="AFR" cx="265.5" cy="138.2"/>
<circle class="AFR" cx="236.0" cy="136.0"/>
<circle class="AFR" cx="287.9" cy="117.8"/>
<circle class="EUR" cx="113.7" cy="190.3"/>
<circle class="EUR" cx="93.9" cy="196.9"/>
<circle class="EUR" cx="95.2" cy="202.9"/>
<circle class="EUR" cx="100.0" cy="203.6"/>
<circle class="EUR" cx="80.7" cy="198.5"/>
<circle class="EUR" cx="94.9" cy="216.9"/>
<circle class="EUR" cx="83.6" cy="184.1"/>
<circle class="EUR" cx="103.0" cy="199.9"/>
<circle class="EUR" cx="104.6" cy="190.4"/>
<circle class="EUR" cx="104.2" cy="191.2"/>
<circle class="EUR" cx="110.1" cy="193.5"/>
<circle class="EUR" cx="93.7" cy="199.5"/>
<circle class="EUR" cx="95.0" cy="218.8"/>
<circle class="EUR" cx="102.2" cy="186.1"/>
<circle class="EUR" cx="109.9" cy="201.4"/>
<circle class="EUR" cx="100.8" cy="199.9"/>
<circle class="EUR" cx="101.1" cy="223.4"/>
<circle class="EUR" cx="92.0" cy="219.0"/>
<circle class="EUR" cx="100.3" cy="200.8"/>
<circle class="EUR" cx="96.4" cy="224.4"/>
<circle class="EUR" cx="88.5" cy="186.1"/>
<circle class="EUR" cx="94.5" cy="221.1"/>
<circle class="EUR" cx="93.5" cy="224.5"/>
<circle class="EUR" cx="93.3" cy="190.9"/>
<circle class="EUR" cx="97.9" cy="214.5"/>
<circle class="EUR" cx="97.4" cy="217.9"/>
<circle class="EUR" cx="95.6" cy="211.3"/>
<circle class="EUR" cx="103.9" cy="195.1"/>
<circle class="EUR" cx="106.3" cy="198.9"/>
<circle class="EUR" cx="87.9" cy="203.4"/>
<circle class="EUR" cx="99.4" cy="218.1"/>
<circle class="EUR" cx="97.1" cy="218.4"/>
<circle class="EUR" cx="104.1" cy="205.7"/>
<circle class="EUR" cx="93.3" cy="220.7"/>
<circle class="EUR" cx="88.1" cy="189.0"/>
<circle class="EUR" cx="99.3" cy="186.3"/>
<circle class="EUR" cx="101.9" cy="212.2"/>
<circle class="EUR" cx="86.8" cy="200.8"/>
<circle class="EUR" cx="96.2" cy="194.1"/>
<circle class="EUR" cx="91.3" cy="224.4"/>
<circle class="EUR" cx="99.3" cy="199.3"/>
<circle class="EUR" cx="104.6" cy="184.5"/>
<circle class="EUR" cx="104.7" cy="215.6"/>
<circle class="EUR" cx="90.0" cy="185.8"/>
<circle class="EUR" cx="101.7" cy="195.4"/>
<circle class="EUR" cx="101.9" cy="192.5"/>
<circle class="EUR" cx="85.4" cy="180.7"/>
<circle class="EUR" cx="98.1" cy="190.5"/>
<circle class="EUR" cx="105.3" cy="214.7"/>
<circle class="EUR" cx="84.9" cy="187.2"/>
<circle class="EUR" cx="92.8" cy="209.9"/>
<circle class="EUR" cx="91.6" cy="227.0"/>
<circle class="EUR" cx="101.4" cy="216.9"/>
<circle class="EUR" cx="88.5" cy="201.5"/>
<circle class="EUR" cx="90.7" cy="218.2"/>
<circle class="EUR" cx="110.0" cy="204.6"/>
<circle class="EUR" cx="92.9" cy="215.2"/>
<circle class="EUR" cx="96.4" cy="177.4"/>
<circle class="EUR" cx="113.1" cy="193.7"/>
<circle class="EUR" cx="98.8" cy="212.8"/>
<circle class="EUR" cx="103.3" cy="186.7"/>
<circle class="EUR" cx="92.8" cy="226.5"/>
<circle class="EUR" cx="100.3" cy="188.8"/>
<circle class="EUR" cx="109.0" cy="194.1"/>
<circle class="EUR" cx="91.2" cy="208.4"/>
<circle class="EUR" cx="91.8" cy="198.3"/>
<circle class="EUR" cx="106.5" cy="180.1"/>
<circle class="EUR" cx="97.1" cy="213.3"/>
<circle class="EUR" cx="108.9" cy="189.8"/>
<circle class="EUR" cx="80.6" cy="189.9"/>
<circle class="EUR" cx="92.5" cy="202.1"/>
<circle class="EUR" cx="85.6" cy="193.2"/>
<circle class="EUR" cx="92.4" cy="196.9"/>
<circle class="EUR" cx="94.7" cy="209.3"/>
<circle class="EUR" cx="80.6" cy="182.3"/>
<circle class="EUR" cx="104.4" cy="201.5"/>
<circle class="EUR" cx="110.4" cy="202.4"/>
<circle class="EUR" cx="107.6" cy="194.3"/>
<circle class="EUR" cx="84.0" cy="193.7"/>
<circle class="EUR" cx="107.0" cy="192.3"/>
<circle class="EUR" cx="109.3" cy="188.9"/>
<circle class="EUR" cx="97.5" cy="184.2"/>
<circle class="EUR" cx="83.0" cy="182.1"/>
<circle class="EUR" cx="86.8" cy="183.3"/>
<circle class="EUR" cx="113.2" cy="194.5"/>
<circle class="EUR" cx="105.2" cy="218.3"/>
<circle class="EUR" cx="88.3" cy="188.3"/>
<circle class="EUR" cx="99.7" cy="207.0"/>
<circle class="EUR" cx="89.8" cy="220.2"/>
<circle class="EUR" cx="118.0" cy="196.0"/>
<circle class="EUR" cx="107.9" cy="203.7"/>
<circle class="EUR" cx="105.3" cy="196.7"/>
<circle class="EUR" cx="103.6" cy="194.3"/>
<circle class="SAS" cx="88.3" cy="162.4"/>
<circle class="SAS" cx="99.1" cy="162.4"/>
<circle class="SAS" cx="102.2" cy="138.1"/>
<circle class="SAS" cx="100.4" cy="168.8"/>
<circle class="SAS" cx="109.1" cy="172.1"/>
<circle class="SAS" cx="108.3" cy="185.8"/>
<circle class="SAS" cx="103.2" cy="184.1"/>
<circle class="SAS" cx="98.8" cy="161.9"/>
<circle class="SAS" cx="91.4" cy="173.6"/>
<circle class="SAS" cx="100.5" cy="181.8"/>
<circle class="SAS" cx="105.4" cy="173.7"/>
<circle class="SAS" cx="96.4" cy="150.3"/>
<circle class="SAS" cx="92.0" cy="125.5"/>
<circle class="SAS" cx="95.5" cy="159.4"/>
<circle class="SAS" cx="111.2" cy="156.3"/>
<circle class="SAS" cx="94.4" cy="161.0"/>
<circle class="SAS" cx="103.3" cy="167.2"/>
<circle class="SAS" cx="96.2" cy="120.3"/>
<circle class="SAS" cx="109.9" cy="150.7"/>
<circle class="SAS" cx="108.0" cy="157.6"/>
<circle class="SAS" cx="100.5" cy="151.1"/>
<circle class="SAS" cx="102.4" cy="130.3"/>
<circle class="SAS" cx="94.0" cy="180.9"/>
<circle class="SAS" cx="97.3" cy="175.8"/>
<circle class="SAS" cx="101.1" cy="130.1"/>
<circle class="SAS" cx="88.2" cy="172.5"/>
<circle class="SAS" cx="96.2" cy="133.5"/>
<circle class="SAS" cx="101.9" cy="132.6"/>
<circle class="SAS" cx="102.8" cy="164.5"/>
<circle class="SAS" cx="98.4" cy="181.8"/>
<circle class="SAS" cx="101.5" cy="139.1"/>
<circle class="SAS" cx="98.8" cy="148.5"/>
<circle class="SAS" cx="85.6" cy="133.0"/>
<circle class="SAS" cx="101.3" cy="140.1"/>
<circle class="SAS" cx="94.7" cy="152.1"/>
<circle class="SAS" cx="95.8" cy="186.2"/>
<circle class="SAS" cx="106.4" cy="187.0"/>
<circle class="SAS" cx="105.4" cy="170.2"/>
<circle class="SAS" cx="103.4" cy="140.6"/>
<circle class="SAS" cx="98.4" cy="137.5"/>
<circle class="SAS" cx="105.0" cy="177.7"/>
<circle class="SAS" cx="88.1" cy="168.0"/>
<circle class="SAS" cx="101.5" cy="127.2"/>
<circle class="SAS" cx="107.1" cy="153.6"/>
<circle class="SAS" cx="97.1" cy="157.9"/>
<circle class="SAS" cx="104.4" cy="124.7"/>
<circle class="SAS" cx="103.5" cy="138.6"/>
<circle class="SAS" cx="94.9" cy="182.0"/>
<circle class="SAS" cx="100.3" cy="180.3"/>
<circle class="SAS" cx="89.4" cy="167.3"/>
<circle class="SAS" cx="87.9" cy="131.0"/>
<circle class="SAS" cx="89.7" cy="174.6"/>
<circle class="SAS" cx="98.2" cy="153.2"/>
<circle class="SAS" cx="100.7" cy="187.7"/>
<circle class="SAS" cx="90.7" cy="145.9"/>
<circle class="SAS" cx="88.4" cy="124.7"/>
<circle class="SAS" cx="104.6" cy="192.6"/>
<circle class="SAS" cx="94.7" cy="124.2"/>
<circle class="SAS" cx="97.0" cy="160.3"/>
<circle class="SAS" cx="100.5" cy="134.2"/>
<circle class="SAS" cx="91.3" cy="126.5"/>
<circle class="SAS" cx="98.5" cy="156.1"/>
<circle class="SAS" cx="99.9" cy="171.8"/>
<circle class="SAS" cx="87.5" cy="158.8"/>
<circle class="SAS" cx="98.7" cy="159.1"/>
<circle class="SAS" cx="93.1" cy="185.6"/>
<circle class="SAS" cx="95.2" cy="179.4"/>
<circle class="SAS" cx="111.2" cy="166.5"/>
<circle class="SAS" cx="85.8" cy="135.2"/>
<circle class="SAS" cx="91.4" cy="130.9"/>
<circle class="SAS" cx="88.6" cy="165.0"/>
<circle class="SAS" cx="87.3" cy="130.7"/>
<circle class="SAS" cx="89.4" cy="163.7"/>
<circle class="SAS" cx="98.2" cy="159.9"/>
<circle class="SAS" cx="104.6" cy="156.8"/>
<circle class="SAS" cx="102.6" cy="179.6"/>
<circle class="SAS" cx="85.1" cy="149.9"/>
<circle class="SAS" cx="86.6" cy="154.6"/>
<circle class="SAS" cx="95.2" cy="125.0"/>
<circle class="SAS" cx="95.2" cy="155.0"/>
<circle class="SAS" cx="108.5" cy="151.1"/>
<circle class="SAS" cx="97.9" cy="150.1"/>
<circle class="SAS" cx="103.9" cy="160.1"/>
<circle class="SAS" cx="91.5" cy="160.3"/>
<circle class="SAS" cx="88.7" cy="181.6"/>
<circle class="SAS" cx="100.6" cy="143.1"/>
<circle class="SAS" cx="105.3" cy="156.0"/>
<circle class="EAS" cx="82.6" cy="13.3"/>
<circle class="EAS" cx="82.9" cy="37.4"/>
<circle class="EAS" cx="75.6" cy="32.7"/>
<circle class="EAS" cx="81.5" cy="40.7"/>
<circle class="EAS" cx="87.5" cy="46.3"/>
<circle class="EAS" cx="73.0" cy="31.6"/>
<circle class="EAS" cx="81.1" cy="64.6"/>
<circle class="EAS" cx="92.5" cy="42.4"/>
<circle class="EAS" cx="88.6" cy="54.6"/>
<circle class="EAS" cx="83.7" cy="49.0"/>
<circle class="EAS" cx="77.5" cy="33.9"/>
<circle class="EAS" cx="80.3" cy="34.2"/>
<circle class="EAS" cx="86.9" cy="39.5"/>
<circle class="EAS" cx="82.9" cy="70.6"/>
<circle class="EAS" cx="96.3" cy="38.5"/>
<circle class="EAS" cx="87.5" cy="53.8"/>
<circle class="EAS" cx="73.2" cy="50.5"/>
<circle class="EAS" cx="75.2" cy="56.5"/>
<circle class="EAS" cx="89.2" cy="44.2"/>
<circle class="EAS" cx="74.5" cy="50.7"/>
<circle class="EAS" cx="91.2" cy="46.8"/>
<circle class="EAS" cx="86.5" cy="51.3"/>
<circle class="EAS" cx="80.8" cy="28.1"/>
<circle class="EAS" cx="73.1" cy="46.4"/>
<circle class="EAS" cx="80.7" cy="65.4"/>
<circle class="EAS" cx="87.7" cy="55.2"/>
<circle class="EAS" cx="70.6" cy="36.8"/>
<circle class="EAS" cx="76.4" cy="45.8"/>
<circle class="EAS" cx="92.4" cy="45.9"/>
<circle class="EAS" cx="90.5" cy="43.4"/>
<circle class="EAS" cx="92.8" cy="38.5"/>
<circle class="EAS" cx="88.4" cy="37.3"/>
<circle class="EAS" cx="87.8" cy="65.3"/>
<circle class="EAS" cx="78.3" cy="58.4"/>
<circle class="EAS" cx="81.6" cy="56.7"/>
<circle class="EAS" cx="85.2" cy="67.8"/>
<circle class="EAS" cx="86.9" cy="54.0"/>
<circle class="EAS" cx="88.1" cy="29.9"/>
<circle class="EAS" cx="73.2" cy="50.8"/>
<circle class="EAS" cx="71.1" cy="32.8"/>
<circle class="EAS" cx="90.3" cy="65.0"/>
<circle class="EAS" cx="85.2" cy="57.4"/>
<circle class="EAS" cx="80.7" cy="56.9"/>
<circle class="EAS" cx="69.2" cy="37.2"/>
<circle class="EAS" cx="74.3" cy="35.0"/>
<circle class="EAS" cx="74.0" cy="49.2"/>
<circle class="EAS" cx="80.7" cy="39.2"/>
<circle class="EAS" cx="86.1" cy="58.1"/>
<circle class="EAS" cx="75.3" cy="59.2"/>
<circle class="EAS" cx="81.5" cy="50.9"/>
<circle class="EAS" cx="77.3" cy="61.7"/>
<circle class="EAS" cx="71.9" cy="46.4"/>
<circle class="EAS" cx="75.7" cy="56.4"/>
<circle class="EAS" cx="85.2" cy="44.0"/>
<circle class="EAS" cx="71.5" cy="52.3"/>
<circle class="EAS" cx="82.0" cy="21.0"/>
<circle class="EAS" cx="85.1" cy="56.5"/>
<circle class="EAS" cx="90.0" cy="60.1"/>
<circle class="EAS" cx="87.8" cy="55.0"/>
<circle class="EAS" cx="84.8" cy="32.4"/>
<circle class="EAS" cx="87.5" cy="60.4"/>
<circle class="EAS" cx="77.1" cy="68.1"/>
<circle class="EAS" cx="81.6" cy="46.1"/>
<circle class="EAS" cx="87.4" cy="54.2"/>
<circle class="EAS" cx="75.2" cy="36.8"/>
<circle class="EAS" cx="69.1" cy="37.1"/>
<circle class="EAS" cx="85.0" cy="51.7"/>
<circle class="EAS" cx="74.5" cy="38.0"/>
<circle class="EAS" cx="83.9" cy="40.9"/>
<circle class="EAS" cx="87.5" cy="64.0"/>
<circle class="EAS" cx="70.1" cy="37.5"/>
<circle class="EAS" cx="82.9" cy="58.5"/>
<circle class="EAS" cx="86.2" cy="48.7"/>
<circle class="EAS" cx="80.4" cy="71.5"/>
<circle class="EAS" cx="88.6" cy="59.8"/>
<circle class="EAS" cx="92.3" cy="45.0"/>
<circle class="EAS" cx="76.0" cy="62.2"/>
<circle class="EAS" cx="79.3" cy="37.8"/>
<circle class="EAS" cx="75.8" cy="66.9"/>
<circle class="EAS" cx="69.6" cy="36.3"/>
<circle class="EAS" cx="78.4" cy="52.6"/>
<circle class="EAS" cx="88.0" cy="39.2"/>
<circle class="EAS" cx="85.5" cy="58.6"/>
<circle class="EAS" cx="76.3" cy="39.9"/>
<circle class="EAS" cx="70.6" cy="42.8"/>
<circle class="EAS" cx="81.3" cy="30.6"/>
<circle class="EAS" cx="81.0" cy="55.0"/>
<circle class="EAS" cx="80.4" cy="47.7"/>
<circle class="EAS" cx="89.2" cy="50.9"/>
<circle class="EAS" cx="84.5" cy="64.5"/>
<circle class="EAS" cx="82.9" cy="45.6"/>
<circle class="EAS" cx="77.1" cy="55.9"/>
<circle class="EAS" cx="69.5" cy="39.1"/>
<circle class="EAS" cx="86.0" cy="49.7"/>
<circle class="EAS" cx="80.9" cy="42.5"/>
<circle class="EAS" cx="91.7" cy="48.7"/>
<circle class="EAS" cx="79.8" cy="49.8"/>
<circle class="EAS" cx="80.5" cy="69.3"/>
<circle class="EAS" cx="72.9" cy="55.8"/>
<circle class="EAS" cx="81.2" cy="61.6"/>
<circle class="EAS" cx="89.6" cy="57.8"/>
<circle class="EAS" cx="76.4" cy="63.8"/>
<circle class="EAS" cx="81.2" cy="48.5"/>
<circle class="EAS" cx="83.7" cy="34.0"/>
<circle class="EAS" cx="88.4" cy="52.9"/>
<circle class="EAS" cx="83.9" cy="57.6"/>
<circle class="EAS" cx="76.9" cy="53.3"/>
<circle class="EAS" cx="90.1" cy="53.4"/>
<circle class="EAS" cx="95.8" cy="39.3"/>
<circle class="EAS" cx="89.4" cy="52.8"/>
<circle class="EAS" cx="79.3" cy="50.9"/>
<circle class="EAS" cx="78.3" cy="44.8"/>
<circle class="EAS" cx="92.2" cy="54.9"/>
<circle class="EAS" cx="71.4" cy="44.1"/>
<circle class="EAS" cx="76.9" cy="56.5"/>
<circle class="EAS" cx="71.8" cy="47.9"/>
<circle class="EAS" cx="90.0" cy="33.9"/>
<circle class="EAS" cx="77.7" cy="47.5"/>
<circle class="EAS" cx="88.7" cy="43.3"/>
<circle class="EAS" cx="86.5" cy="43.9"/>
<circle class="EAS" cx="86.3" cy="56.2"/>
<circle class="EAS" cx="73.4" cy="62.3"/>
<circle class="EAS" cx="73.0" cy="38.0"/>
<circle class="EAS" cx="86.5" cy="67.2"/>
<circle class="EAS" cx="75.0" cy="52.9"/>
<circle class="EAS" cx="88.0" cy="58.2"/>
<circle class="EAS" cx="87.8" cy="56.7"/>
<circle class="EAS" cx="73.7" cy="35.5"/>
<circle class="EAS" cx="86.1" cy="58.7"/>
<circle class="EAS" cx="91.5" cy="34.9"/>
<circle class="EAS" cx="70.4" cy="52.0"/>
<circle class="EAS" cx="75.4" cy="54.3"/>
<circle class="EAS" cx="76.0" cy="63.1"/>
<circle class="EAS" cx="77.2" cy="67.3"/>
<circle class="EAS" cx="82.1" cy="68.6"/>
<circle class="EAS" cx="77.8" cy="69.6"/>
<circle class="EAS" cx="86.1" cy="40.2"/>
<circle class="EAS" cx="89.7" cy="49.7"/>
<circle class="AFR" cx="250.9" cy="137.9"/>
<circle class="AFR" cx="257.2" cy="142.1"/>
<circle class="AFR" cx="266.0" cy="138.3"/>
<circle class="AFR" cx="277.0" cy="122.0"/>
<circle class="AFR" cx="273.4" cy="127.1"/>
<circle class="AFR" cx="281.4" cy="136.1"/>
<circle class="AFR" cx="279.6" cy="116.9"/>
<circle class="AFR" cx="262.2" cy="117.3"/>
<circle class="AFR" cx="282.9" cy="124.6"/>
<circle class="AFR" cx="263.1" cy="138.1"/>
<circle class="AFR" cx="248.2" cy="138.0"/>
<circle class="AFR" cx="266.6" cy="136.7"/>
<circle class="AFR" cx="251.4" cy="127.9"/>
<circle class="AFR" cx="292.3" cy="127.8"/>
<circle class="AFR" cx="273.4" cy="130.3"/>
<circle class="AFR" cx="252.8" cy="144.0"/>
<circle class="AFR" cx="251.7" cy="140.2"/>
<circle class="AFR" cx="255.1" cy="128.8"/>
<circle class="AFR" cx="276.6" cy="127.2"/>
<circle class="AFR" cx="170.7" cy="146.2"/>
<circle class="AFR" cx="268.7" cy="136.9"/>
<circle class="AFR" cx="270.3" cy="111.3"/>
<circle class="AFR" cx="188.8" cy="162.5"/>
<circle class="AFR" cx="277.6" cy="115.8"/>
<circle class="AFR" cx="282.8" cy="124.9"/>
<circle class="AFR" cx="260.1" cy="116.8"/>
<circle class="AFR" cx="249.4" cy="135.5"/>
<circle class="AFR" cx="209.8" cy="145.7"/>
<circle class="AFR" cx="290.3" cy="118.4"/>
<circle class="AFR" cx="289.3" cy="119.3"/>
<circle class="AFR" cx="260.8" cy="123.6"/>
<circle class="AFR" cx="286.4" cy="119.9"/>
<circle class="AFR" cx="261.6" cy="120.7"/>
<circle class="AFR" cx="271.1" cy="142.5"/>
<circle class="AFR" cx="274.7" cy="136.5"/>
<circle class="AFR" cx="231.9" cy="140.6"/>
<circle class="AFR" cx="168.2" cy="126.2"/>
<circle class="AFR" cx="280.1" cy="119.7"/>
<circle class="AFR" cx="285.5" cy="122.5"/>
<circle class="AFR" cx="277.1" cy="132.9"/>
<circle class="AFR" cx="276.8" cy="135.3"/>
<circle class="AFR" cx="188.8" cy="142.5"/>
<circle class="AFR" cx="263.4" cy="122.1"/>
<circle class="AFR" cx="223.0" cy="155.3"/>
<circle class="AFR" cx="252.8" cy="137.2"/>
<circle class="AFR" cx="253.8" cy="125.3"/>
<circle class="AFR" cx="261.4" cy="117.5"/>
<circle class="AFR" cx="256.3" cy="135.8"/>
<circle class="AFR" cx="254.1" cy="121.2"/>
<circle class="AFR" cx="260.7" cy="126.5"/>
<circle class="AFR" cx="251.0" cy="139.0"/>
<circle class="AFR" cx="251.9" cy="134.6"/>
<circle class="AFR" cx="264.7" cy="141.8"/>
<circle class="AFR" cx="263.4" cy="116.8"/>
<circle class="AFR" cx="220.5" cy="154.6"/>
<circle class="AFR" cx="249.7" cy="141.4"/>
<circle class="AFR" cx="272.1" cy="133.3"/>
<circle class="AFR" cx="275.9" cy="118.1"/>
<circle class="AFR" cx="259.1" cy="139.2"/>
<circle class="AFR" cx="261.4" cy="129.7"/>
<circle class="AFR" cx="289.6" cy="129.2"/>
<circle class="AFR" cx="274.4" cy="140.2"/>
<circle class="AFR" cx="252.3" cy="138.5"/>
<circle class="AFR" cx="262.2" cy="128.9"/>
<circle class="AFR" cx="284.9" cy="129.1"/>
<circle class="AFR" cx="275.1" cy="139.0"/>
<circle class="AFR" cx="225.5" cy="143.1"/>
<circle class="AFR" cx="258.0" cy="128.7"/>
<circle class="AFR" cx="274.2" cy="116.9"/>
<circle class="AFR" cx="285.1" cy="120.5"/>
<circle class="AFR" cx="263.1" cy="135.0"/>
<circle class="AFR" cx="282.1" cy="123.6"/>
<circle class="AFR" cx="270.9" cy="140.4"/>
<circle class="AFR" cx="279.7" cy="118.0"/>
<circle class="AFR" cx="264.7" cy="127.4"/>
<circle class="AFR" cx="219.2" cy="141.9"/>
<circle class="AFR" cx="279.0" cy="124.1"/>
<circle class="AFR" cx="284.1" cy="137.1"/>
<circle class="AFR" cx="276.1" cy="130.0"/>
<circle class="AFR" cx="266.2" cy="132.2"/>
<circle class="AFR" cx="245.1" cy="133.5"/>
<circle class="AFR" cx="274.3" cy="139.8"/>
<circle class="AFR" cx="261.5" cy="120.2"/>
<circle class="AFR" cx="226.7" cy="128.0"/>
<circle class="AFR" cx="272.0" cy="142.3"/>
<circle class="AFR" cx="268.1" cy="122.1"/>
<circle class="AFR" cx="279.3" cy="125.6"/>
<circle class="AFR" cx="269.5" cy="132.6"/>
<circle class="AFR" cx="258.6" cy="133.3"/>
<circle class="AFR" cx="276.8" cy="137.1"/>
<circle class="AFR" cx="258.7" cy="127.0"/>
<circle class="AFR" cx="263.0" cy="134.0"/>
<circle class="AFR" cx="259.0" cy="134.3"/>
<circle class="AFR" cx="210.3" cy="163.5"/>
<circle class="AFR" cx="251.3" cy="139.6"/>
<circle class="AFR" cx="279.4" cy="132.4"/>
<circle class="AFR" cx="174.3" cy="186.0"/>
<circle class="AFR" cx="201.4" cy="149.5"/>
<circle class="AFR" cx="279.0" cy="113.9"/>
<circle class="AFR" cx="270.3" cy="139.0"/>
<circle class="AFR" cx="203.3" cy="149.8"/>
<circle class="AFR" cx="277.0" cy="131.7"/>
<circle class="AFR" cx="258.0" cy="120.5"/>
<circle class="AFR" cx="276.1" cy="133.0"/>
<circle class="AFR" cx="254.7" cy="125.5"/>
<circle class="AFR" cx="252.2" cy="139.8"/>
<circle class="AFR" cx="273.9" cy="127.9"/>
<circle class="AFR" cx="281.1" cy="139.3"/>
<circle class="AFR" cx="287.7" cy="127.7"/>
<circle class="AFR" cx="263.9" cy="136.1"/>
<circle class="AFR" cx="195.1" cy="140.6"/>
<circle class="AFR" cx="264.1" cy="127.1"/>
<circle class="AFR" cx="175.4" cy="119.7"/>
<circle class="AFR" cx="187.0" cy="165.4"/>
<circle class="AFR" cx="245.9" cy="132.3"/>
<circle class="AFR" cx="262.0" cy="127.3"/>
<circle class="AFR" cx="253.3" cy="131.6"/>
<circle class="AFR" cx="275.9" cy="124.0"/>
<circle class="AFR" cx="262.9" cy="115.2"/>
<circle class="AFR" cx="280.8" cy="137.2"/>
<circle class="AFR" cx="246.5" cy="129.8"/>
<circle class="AFR" cx="283.9" cy="119.7"/>
<circle class="AFR" cx="252.5" cy="135.4"/>
<circle class="AFR" cx="261.7" cy="134.2"/>
<circle class="AFR" cx="292.3" cy="127.5"/>
<circle class="AFR" cx="257.2" cy="136.7"/>
<circle class="AFR" cx="284.0" cy="121.4"/>
<circle class="AFR" cx="266.5" cy="129.4"/>
<circle class="AFR" cx="275.2" cy="137.8"/>
<circle class="AFR" cx="252.7" cy="122.0"/>
<circle class="AFR" cx="275.1" cy="127.6"/>
<circle class="AFR" cx="289.8" cy="117.7"/>
<circle class="AFR" cx="256.7" cy="121.9"/>
<circle class="AFR" cx="244.6" cy="149.5"/>
<circle class="AFR" cx="254.5" cy="122.9"/>
<circle class="AFR" cx="281.5" cy="122.3"/>
<circle class="AFR" cx="257.0" cy="121.3"/>
<circle class="AFR" cx="260.0" cy="143.6"/>
<circle class="AFR" cx="274.8" cy="117.0"/>
<circle class="AFR" cx="270.8" cy="130.8"/>
<circle class="AFR" cx="266.8" cy="123.8"/>
<circle class="AFR" cx="267.5" cy="137.5"/>
<circle class="AFR" cx="253.9" cy="142.4"/>
<circle class="AFR" cx="276.3" cy="133.9"/>
<circle class="AFR" cx="252.6" cy="139.4"/>
<circle class="AFR" cx="276.4" cy="140.2"/>
<circle class="AFR" cx="272.2" cy="128.9"/>
<circle class="AFR" cx="267.5" cy="120.1"/>
<circle class="AFR" cx="221.7" cy="160.9"/>
<circle class="AFR" cx="284.7" cy="116.9"/>
<circle class="AFR" cx="261.9" cy="121.4"/>
<circle class="AFR" cx="251.8" cy="136.4"/>
<circle class="AFR" cx="260.5" cy="123.8"/>
<circle class="AFR" cx="276.4" cy="117.7"/>
<circle class="AFR" cx="261.7" cy="140.9"/>
<circle class="AFR" cx="214.6" cy="138.8"/>
<circle class="AFR" cx="275.5" cy="117.1"/>
<circle class="AFR" cx="280.0" cy="138.2"/>
<circle class="AFR" cx="259.5" cy="142.1"/>
<circle class="AMR" cx="80.5" cy="108.3"/>
<circle class="AMR" cx="94.4" cy="155.9"/>
<circle class="AMR" cx="79.5" cy="148.9"/>
<circle class="AMR" cx="112.6" cy="183.3"/>
<circle class="AMR" cx="134.7" cy="173.6"/>
<circle class="AMR" cx="232.6" cy="130.5"/>
<circle class="AMR" cx="95.1" cy="146.4"/>
<circle class="AMR" cx="76.1" cy="121.5"/>
<circle class="AMR" cx="98.5" cy="171.1"/>
<circle class="AMR" cx="75.9" cy="123.0"/>
<circle class="AMR" cx="130.7" cy="177.0"/>
<circle class="AMR" cx="128.3" cy="162.5"/>
<circle class="AMR" cx="71.6" cy="104.6"/>
<circle class="AMR" cx="107.0" cy="169.5"/>
<circle class="AMR" cx="76.1" cy="123.6"/>
<circle class="AMR" cx="195.4" cy="150.5"/>
<circle class="AMR" cx="140.8" cy="125.9"/>
<circle class="AMR" cx="77.6" cy="97.4"/>
<circle class="AMR" cx="112.0" cy="145.0"/>
<circle class="AMR" cx="91.4" cy="164.9"/>
<circle class="AMR" cx="94.0" cy="132.9"/>
<circle class="AMR" cx="77.9" cy="150.4"/>
<circle class="AMR" cx="90.0" cy="171.5"/>
<circle class="AMR" cx="93.9" cy="130.9"/>
<circle class="AMR" cx="137.5" cy="132.6"/>
<circle class="AMR" cx="92.2" cy="116.6"/>
<circle class="AMR" cx="83.5" cy="133.7"/>
<circle class="AMR" cx="77.1" cy="98.9"/>
<circle class="AMR" cx="88.7" cy="115.0"/>
<circle class="AMR" cx="75.5" cy="141.4"/>
<circle class="AMR" cx="86.9" cy="110.1"/>
<circle class="AMR" cx="87.9" cy="171.5"/>
<circle class="AMR" cx="125.2" cy="166.4"/>
<circle class="AMR" cx="115.5" cy="188.3"/>
<circle class="AMR" cx="133.0" cy="182.9"/>
<circle class="AMR" cx="83.6" cy="146.8"/>
<circle class="AMR" cx="77.5" cy="114.4"/>
<circle class="AMR" cx="90.8" cy="183.9"/>
<circle class="AMR" cx="95.6" cy="180.0"/>
<circle class="AMR" cx="78.4" cy="148.9"/>
<circle class="AMR" cx="89.1" cy="176.1"/>
<circle class="AMR" cx="80.9" cy="120.8"/>
<circle class="AMR" cx="81.1" cy="96.9"/>
<circle class="AMR" cx="78.9" cy="130.0"/>
<circle class="AMR" cx="87.9" cy="128.1"/>
<circle class="AMR" cx="82.3" cy="103.9"/>
<circle class="AMR" cx="126.2" cy="186.0"/>
<circle class="AMR" cx="91.0" cy="118.2"/>
<circle class="AMR" cx="92.4" cy="165.9"/>
<circle class="AMR" cx="90.7" cy="177.8"/>
<circle class="AMR" cx="81.9" cy="166.8"/>
<circle class="AMR" cx="127.8" cy="172.4"/>
<circle class="AMR" cx="86.7" cy="107.9"/>
<circle class="AMR" cx="80.7" cy="129.1"/>
<circle class="AMR" cx="129.4" cy="165.6"/>
<circle class="AMR" cx="88.4" cy="113.3"/>
<circle class="AMR" cx="78.6" cy="99.0"/>
<circle class="AMR" cx="87.8" cy="108.6"/>
<circle class="AMR" cx="82.3" cy="139.3"/>
<circle class="AMR" cx="87.1" cy="181.3"/>
<circle class="AMR" cx="76.4" cy="144.3"/>
<circle class="AMR" cx="88.1" cy="147.3"/>
<circle class="AMR" cx="92.0" cy="153.2"/>
<circle class="AMR" cx="112.3" cy="172.9"/>
<circle class="AMR" cx="89.9" cy="160.0"/>
<circle class="AMR" cx="94.4" cy="180.7"/>
<circle class="AMR" cx="71.5" cy="147.3"/>
<circle class="AMR" cx="88.6" cy="183.0"/>
<circle class="AMR" cx="129.0" cy="187.2"/>
<circle class="AMR" cx="149.0" cy="108.1"/>
<circle class="AMR" cx="128.1" cy="126.2"/>
<circle class="AMR" cx="93.3" cy="141.2"/>
<circle class="AMR" cx="77.7" cy="115.3"/>
<circle class="AMR" cx="95.4" cy="159.9"/>
<circle class="AMR" cx="124.1" cy="157.8"/>
<circle class="AMR" cx="110.9" cy="154.9"/>
<circle class="AMR" cx="128.1" cy="155.8"/>
<circle class="AMR" cx="79.7" cy="128.4"/>
<circle class="AMR" cx="86.5" cy="121.9"/>
<circle class="AMR" cx="184.5" cy="146.5"/>
<circle class="AMR" cx="84.7" cy="109.4"/>
<circle class="AMR" cx="115.5" cy="185.2"/>
<circle class="AMR" cx="114.0" cy="170.0"/>
<circle class="AMR" cx="92.6" cy="172.0"/>
<circle class="AMR" cx="81.7" cy="118.4"/>
<circle class="AMR" cx="76.5" cy="101.2"/>
<circle class="AMR" cx="98.1" cy="162.2"/>
<circle class="AMR" cx="124.0" cy="194.7"/>
<circle class="AMR" cx="79.4" cy="154.6"/>
<circle class="AMR" cx="81.0" cy="129.5"/>
<circle class="AMR" cx="139.0" cy="171.8"/>
<circle class="AMR" cx="91.2" cy="192.2"/>
<circle class="AMR" cx="74.0" cy="134.6"/>
<circle class="AMR" cx="91.3" cy="188.4"/>
<circle class="AMR" cx="74.0" cy="103.8"/>
<circle class="AMR" cx="121.8" cy="196.4"/>
<circle class="AMR" cx="136.4" cy="174.4"/>
<circle class="AMR" cx="98.1" cy="89.6"/>
<circle class="AMR" cx="73.6" cy="102.3"/>
<circle class="AMR" cx="111.0" cy="176.0"/>
<circle class="AMR" cx="113.9" cy="163.6"/>
<circle class="AMR" cx="85.6" cy="117.3"/>
<circle class="AMR" cx="208.3" cy="154.6"/>
<circle class="AMR" cx="109.4" cy="178.0"/>
<circle class="AMR" cx="138.9" cy="144.0"/>
<circle class="AMR" cx="90.2" cy="151.5"/>
<circle class="AMR" cx="176.0" cy="127.0"/>
<circle class="AMR" cx="125.4" cy="118.3"/>
<circle class="AMR" cx="80.4" cy="87.1"/>
<circle class="AMR" cx="126.3" cy="182.3"/>
<circle class="AMR" cx="118.1" cy="209.5"/>
<circle class="AMR" cx="88.0" cy="185.6"/>
<circle class="AMR" cx="86.8" cy="155.8"/>
<circle class="AMR" cx="92.6" cy="138.8"/>
<circle class="AMR" cx="77.4" cy="145.2"/>
<circle class="AMR" cx="93.0" cy="135.6"/>
<circle class="AMR" cx="133.5" cy="170.9"/>
<circle class="AMR" cx="86.4" cy="117.5"/>
<circle class="AMR" cx="96.3" cy="169.0"/>
<circle class="AMR" cx="127.2" cy="150.3"/>
<circle class="AMR" cx="90.8" cy="172.7"/>
<circle class="AMR" cx="120.7" cy="190.9"/>
<circle class="AMR" cx="96.0" cy="178.3"/>
<circle class="AMR" cx="231.9" cy="153.3"/>
<circle class="AMR" cx="120.1" cy="168.3"/>
<circle class="AMR" cx="92.0" cy="157.1"/>
<circle class="AMR" cx="113.2" cy="176.0"/>
<circle class="AMR" cx="82.4" cy="113.9"/>
<circle class="AMR" cx="109.5" cy="174.0"/>
<circle class="AMR" cx="83.9" cy="163.7"/>
<circle class="AMR" cx="161.7" cy="145.4"/>
<circle class="AMR" cx="93.5" cy="113.4"/>
<circle class="AMR" cx="136.3" cy="175.0"/>
<circle class="AMR" cx="117.6" cy="172.4"/>
<circle class="AMR" cx="118.4" cy="192.3"/>
<circle class="AMR" cx="75.1" cy="148.5"/>
<circle class="AMR" cx="82.0" cy="129.1"/>
<circle class="AMR" cx="85.4" cy="145.6"/>
<circle class="AMR" cx="77.9" cy="112.5"/>
<circle class="AMR" cx="81.9" cy="154.3"/>
<circle class="AMR" cx="95.7" cy="186.6"/>
<circle class="AMR" cx="98.6" cy="170.5"/>
<circle class="AMR" cx="74.1" cy="105.3"/>
<circle class="AMR" cx="182.3" cy="144.3"/>
<circle class="AMR" cx="142.0" cy="196.2"/>
<circle class="AMR" cx="132.2" cy="200.8"/>
<circle class="AMR" cx="79.0" cy="105.8"/>
<circle class="AMR" cx="94.6" cy="146.8"/>
<circle class="AMR" cx="102.0" cy="113.5"/>
<circle class="AMR" cx="86.2" cy="108.1"/>
<circle class="AMR" cx="92.2" cy="190.1"/>
<circle class="AMR" cx="83.9" cy="144.8"/>
<circle class="AMR" cx="89.6" cy="141.0"/>
<circle class="AMR" cx="90.8" cy="153.3"/>
<circle class="AMR" cx="75.7" cy="150.1"/>
<circle class="AMR" cx="84.9" cy="165.4"/>
<circle class="EUR" cx="110.8" cy="210.8"/>
<circle class="EUR" cx="108.7" cy="203.9"/>
<circle class="EUR" cx="106.6" cy="195.0"/>
<circle class="EUR" cx="101.6" cy="205.0"/>
<circle class="EUR" cx="106.6" cy="205.6"/>
<circle class="EUR" cx="105.1" cy="193.1"/>
<circle class="EUR" cx="81.1" cy="199.5"/>
<circle class="EUR" cx="95.7" cy="206.7"/>
<circle class="EUR" cx="93.0" cy="236.5"/>
<circle class="EUR" cx="90.7" cy="206.2"/>
<circle class="EUR" cx="86.4" cy="190.1"/>
<circle class="EUR" cx="105.8" cy="212.4"/>
<circle class="EUR" cx="106.6" cy="191.9"/>
<circle class="EUR" cx="87.6" cy="204.2"/>
<circle class="EUR" cx="107.5" cy="183.0"/>
<circle class="EUR" cx="100.7" cy="211.8"/>
<circle class="EUR" cx="108.9" cy="183.3"/>
<circle class="EUR" cx="90.7" cy="204.1"/>
<circle class="EUR" cx="89.2" cy="185.9"/>
<circle class="EUR" cx="105.4" cy="192.0"/>
<circle class="EUR" cx="107.4" cy="190.7"/>
<circle class="EUR" cx="106.3" cy="203.8"/>
<circle class="EUR" cx="109.3" cy="211.3"/>
<circle class="EUR" cx="93.5" cy="218.9"/>
<circle class="EUR" cx="103.8" cy="212.3"/>
<circle class="EUR" cx="92.3" cy="230.3"/>
<circle class="EUR" cx="82.6" cy="203.4"/>
<circle class="EUR" cx="83.0" cy="182.8"/>
<circle class="EUR" cx="108.8" cy="186.0"/>
<circle class="EUR" cx="98.6" cy="196.2"/>
<circle class="EUR" cx="89.4" cy="201.3"/>
<circle class="EUR" cx="100.9" cy="187.0"/>
<circle class="EUR" cx="92.9" cy="190.5"/>
<circle class="EUR" cx="95.3" cy="209.7"/>
<circle class="EUR" cx="94.4" cy="207.1"/>
<circle class="EUR" cx="107.7" cy="207.7"/>
<circle class="EUR" cx="111.6" cy="202.9"/>
<circle class="EUR" cx="90.4" cy="226.5"/>
<circle class="EUR" cx="91.9" cy="207.7"/>
<circle class="EUR" cx="90.4" cy="196.3"/>
<circle class="EUR" cx="96.6" cy="187.2"/>
<circle class="EUR" cx="83.2" cy="197.3"/>
<circle class="EUR" cx="83.5" cy="195.8"/>
<circle class="EUR" cx="83.0" cy="190.0"/>
<circle class="EUR" cx="88.0" cy="187.0"/>
<circle class="EUR" cx="88.4" cy="205.9"/>
<circle class="EUR" cx="94.9" cy="183.6"/>
<circle class="EUR" cx="92.9" cy="208.7"/>
<circle class="EUR" cx="97.6" cy="216.5"/>
<circle class="EUR" cx="92.0" cy="185.1"/>
<circle class="EUR" cx="98.5" cy="184.6"/>
<circle class="EUR" cx="93.4" cy="216.1"/>
<circle class="EUR" cx="109.9" cy="207.3"/>
<circle class="EUR" cx="108.2" cy="181.9"/>
<circle class="EUR" cx="101.5" cy="190.0"/>
<circle class="EUR" cx="102.6" cy="194.3"/>
<circle class="EUR" cx="84.2" cy="206.5"/>
<circle class="EUR" cx="95.4" cy="195.9"/>
<circle class="EUR" cx="93.8" cy="207.6"/>
<circle class="EUR" cx="92.7" cy="195.7"/>
<circle class="EUR" cx="107.7" cy="194.4"/>
<circle class="EUR" cx="96.4" cy="222.1"/>
<circle class="EUR" cx="109.1" cy="193.0"/>
<circle class="EUR" cx="88.7" cy="208.1"/>
<circle class="EUR" cx="105.7" cy="201.1"/>
<circle class="EUR" cx="106.5" cy="190.4"/>
<circle class="EUR" cx="107.0" cy="190.3"/>
<circle class="EUR" cx="83.6" cy="188.3"/>
<circle class="EUR" cx="103.9" cy="209.8"/>
<circle class="EUR" cx="96.5" cy="194.5"/>
<circle class="EUR" cx="83.5" cy="200.9"/>
<circle class="SAS" cx="84.7" cy="156.1"/>
<circle class="EUR" cx="108.4" cy="183.2"/>
<circle class="SAS" cx="97.7" cy="135.1"/>
<circle class="SAS" cx="93.5" cy="151.8"/>
<circle class="SAS" cx="95.6" cy="124.8"/>
<circle class="EUR" cx="90.1" cy="194.2"/>
<circle class="SAS" cx="90.0" cy="172.1"/>
<circle class="EUR" cx="98.8" cy="191.6"/>
<circle class="EUR" cx="98.9" cy="196.5"/>
<circle class="SAS" cx="86.0" cy="160.3"/>
<circle class="EUR" cx="94.2" cy="193.2"/>
<circle class="EUR" cx="105.7" cy="215.5"/>
<circle class="SAS" cx="94.0" cy="170.7"/>
<circle class="EUR" cx="93.3" cy="207.1"/>
<circle class="SAS" cx="96.0" cy="160.3"/>
<circle class="SAS" cx="88.1" cy="145.2"/>
<circle class="EUR" cx="104.5" cy="189.4"/>
<circle class="SAS" cx="100.8" cy="129.2"/>
<circle class="SAS" cx="99.6" cy="127.1"/>
<circle class="EUR" cx="86.2" cy="192.6"/>
<circle class="SAS" cx="92.7" cy="163.4"/>
<circle class="EUR" cx="85.9" cy="213.8"/>
<circle class="EUR" cx="91.1" cy="189.3"/>
<circle class="EUR" cx="96.2" cy="219.1"/>
<circle class="SAS" cx="90.4" cy="181.9"/>
<circle class="EUR" cx="96.8" cy="181.0"/>
<circle class="SAS" cx="93.4" cy="165.6"/>
<circle class="EUR" cx="108.4" cy="186.3"/>
<circle class="SAS" cx="92.6" cy="186.5"/>
<circle class="SAS" cx="102.9" cy="141.5"/>
<circle class="SAS" cx="90.1" cy="135.3"/>
<circle class="SAS" cx="91.4" cy="171.6"/>
<circle class="SAS" cx="107.8" cy="171.0"/>
<circle class="SAS" cx="107.4" cy="171.6"/>
<circle class="SAS" cx="93.0" cy="125.8"/>
<circle class="SAS" cx="100.0" cy="162.7"/>
<circle class="SAS" cx="89.3" cy="145.0"/>
<circle class="SAS" cx="86.8" cy="174.5"/>
<circle class="SAS" cx="104.0" cy="148.6"/>
<circle class="SAS" cx="92.7" cy="140.7"/>
<circle class="SAS" cx="89.5" cy="164.5"/>
<circle class="SAS" cx="97.2" cy="146.5"/>
<circle class="SAS" cx="104.6" cy="183.6"/>
<circle class="SAS" cx="94.3" cy="155.8"/>
<circle class="SAS" cx="102.7" cy="137.9"/>
<circle class="SAS" cx="100.4" cy="136.3"/>
<circle class="SAS" cx="104.2" cy="182.3"/>
<circle class="SAS" cx="94.0" cy="148.0"/>
<circle class="SAS" cx="88.6" cy="177.2"/>
<circle class="SAS" cx="95.1" cy="135.6"/>
<circle class="SAS" cx="97.3" cy="161.7"/>
<circle class="SAS" cx="106.8" cy="191.0"/>
<circle class="SAS" cx="100.8" cy="150.3"/>
<circle class="SAS" cx="106.7" cy="153.9"/>
<circle class="SAS" cx="93.9" cy="166.7"/>
<circle class="SAS" cx="111.0" cy="164.3"/>
<circle class="SAS" cx="103.3" cy="142.1"/>
<circle class="SAS" cx="103.8" cy="131.7"/>
<circle class="SAS" cx="108.7" cy="159.5"/>
<circle class="SAS" cx="104.1" cy="186.7"/>
<circle class="SAS" cx="94.5" cy="120.8"/>
<circle class="SAS" cx="107.8" cy="180.8"/>
<circle class="SAS" cx="96.4" cy="190.8"/>
<circle class="SAS" cx="94.9" cy="125.9"/>
<circle class="SAS" cx="98.4" cy="178.2"/>
<circle class="SAS" cx="87.9" cy="155.1"/>
<circle class="SAS" cx="103.9" cy="189.0"/>
<circle class="SAS" cx="89.9" cy="127.5"/>
<circle class="SAS" cx="94.2" cy="159.3"/>
<circle class="SAS" cx="96.4" cy="147.0"/>
<circle class="SAS" cx="103.7" cy="155.6"/>
<circle class="SAS" cx="101.2" cy="161.3"/>
<circle class="SAS" cx="93.9" cy="173.8"/>
<circle class="SAS" cx="95.5" cy="188.7"/>
<circle class="SAS" cx="95.0" cy="166.0"/>
<circle class="SAS" cx="105.6" cy="145.4"/>
<circle class="SAS" cx="89.6" cy="180.0"/>
<circle class="SAS" cx="100.0" cy="155.8"/>
<circle class="SAS" cx="106.1" cy="164.8"/>
<circle class="SAS" cx="93.9" cy="163.0"/>
<circle class="SAS" cx="100.1" cy="144.7"/>
<circle class="SAS" cx="85.5" cy="132.8"/>
<circle class="SAS" cx="100.0" cy="125.5"/>
<circle class="SAS" cx="105.5" cy="147.1"/>
<circle class="SAS" cx="88.2" cy="158.5"/>
<circle class="SAS" cx="90.2" cy="161.6"/>
<circle class="SAS" cx="88.7" cy="159.0"/>
<circle class="SAS" cx="106.0" cy="146.7"/>
<circle class="SAS" cx="101.4" cy="140.9"/>
<circle class="SAS" cx="90.1" cy="135.0"/>
<circle class="SAS" cx="85.7" cy="133.7"/>
<circle class="SAS" cx="95.0" cy="148.8"/>
<circle class="SAS" cx="88.7" cy="128.4"/>
<circle class="SAS" cx="94.1" cy="147.6"/>
<circle class="SAS" cx="96.0" cy="154.2"/>
<circle class="SAS" cx="98.2" cy="134.8"/>
<circle class="SAS" cx="94.6" cy="192.1"/>
<circle class="SAS" cx="96.2" cy="159.2"/>
<circle class="SAS" cx="90.6" cy="136.9"/>
<circle class="SAS" cx="96.2" cy="156.7"/>
<circle class="SAS" cx="103.5" cy="130.5"/>
<circle class="SAS" cx="105.4" cy="167.3"/>
<circle class="AMR" cx="75.8" cy="127.6"/>
<circle class="AMR" cx="96.3" cy="157.7"/>
<circle class="AMR" cx="84.6" cy="103.4"/>
<circle class="AMR" cx="85.7" cy="128.5"/>
<circle class="AMR" cx="83.3" cy="157.2"/>
<circle class="AMR" cx="78.2" cy="164.2"/>
<circle class="AMR" cx="94.3" cy="165.3"/>
<circle class="AMR" cx="78.5" cy="171.7"/>
<circle class="AMR" cx="110.0" cy="118.3"/>
<circle class="AMR" cx="96.8" cy="187.5"/>
<circle class="AMR" cx="83.1" cy="108.2"/>
<circle class="AMR" cx="79.4" cy="115.4"/>
<circle class="AMR" cx="135.3" cy="150.3"/>
<circle class="AMR" cx="83.2" cy="122.1"/>
<circle class="AMR" cx="132.8" cy="187.6"/>
<circle class="AMR" cx="116.7" cy="218.2"/>
<circle class="AMR" cx="92.1" cy="172.2"/>
<circle class="AMR" cx="84.2" cy="161.8"/>
<circle class="AMR" cx="135.0" cy="183.2"/>
<circle class="AMR" cx="102.7" cy="137.6"/>
<circle class="AMR" cx="94.8" cy="126.2"/>
<circle class="AMR" cx="132.6" cy="180.8"/>
<circle class="AMR" cx="86.5" cy="119.8"/>
<circle class="AMR" cx="144.4" cy="161.0"/>
<circle class="AMR" cx="122.8" cy="192.6"/>
<circle class="AMR" cx="75.5" cy="102.6"/>
<circle class="AMR" cx="85.0" cy="111.0"/>
<circle class="AMR" cx="92.5" cy="166.0"/>
<circle class="AMR" cx="121.7" cy="164.7"/>
<circle class="AMR" cx="82.3" cy="135.2"/>
<circle class="AMR" cx="87.2" cy="180.0"/>
<circle class="AMR" cx="80.0" cy="125.1"/>
<circle class="AMR" cx="117.2" cy="161.7"/>
<circle class="AMR" cx="140.8" cy="177.2"/>
<circle class="AMR" cx="78.4" cy="136.5"/>
<circle class="AMR" cx="81.2" cy="128.9"/>
<circle class="AMR" cx="77.4" cy="100.8"/>
<circle class="AMR" cx="120.5" cy="175.2"/>
<circle class="AMR" cx="95.0" cy="160.1"/>
<circle class="AMR" cx="85.1" cy="138.2"/>
<circle class="AMR" cx="144.4" cy="158.5"/>
<circle class="AMR" cx="86.7" cy="158.1"/>
<circle class="AMR" cx="79.0" cy="143.0"/>
<circle class="AMR" cx="195.1" cy="150.8"/>
<circle class="AMR" cx="120.3" cy="190.0"/>
<circle class="AMR" cx="79.4" cy="135.0"/>
<circle class="AMR" cx="120.5" cy="169.4"/>
<circle class="AMR" cx="91.8" cy="160.5"/>
<circle class="AMR" cx="96.2" cy="173.0"/>
<circle class="AMR" cx="84.1" cy="132.9"/>
<circle class="AMR" cx="92.7" cy="173.0"/>
<circle class="AMR" cx="82.1" cy="162.8"/>
<circle class="AMR" cx="88.4" cy="131.6"/>
<circle class="AMR" cx="88.6" cy="179.0"/>
<circle class="AMR" cx="112.1" cy="177.3"/>
<circle class="AMR" cx="91.4" cy="154.4"/>
<circle class="AMR" cx="131.7" cy="184.5"/>
<circle class="AMR" cx="93.0" cy="111.7"/>
<circle class="AMR" cx="128.3" cy="192.3"/>
<circle class="AMR" cx="113.6" cy="148.5"/>
<circle class="AMR" cx="108.2" cy="128.6"/>
<circle class="AMR" cx="98.5" cy="163.3"/>
<circle class="AMR" cx="90.5" cy="186.8"/>
<circle class="AMR" cx="77.8" cy="132.1"/>
<circle class="AMR" cx="84.1" cy="157.9"/>
<circle class="AMR" cx="124.5" cy="162.5"/>
<circle class="AMR" cx="88.1" cy="125.2"/>
<circle class="AMR" cx="98.1" cy="175.4"/>
<circle class="AMR" cx="91.1" cy="124.3"/>
<circle class="AMR" cx="98.7" cy="186.2"/>
<circle class="AMR" cx="121.7" cy="157.6"/>
<circle class="AMR" cx="75.6" cy="126.8"/>
<circle class="AMR" cx="116.7" cy="186.0"/>
<circle class="AMR" cx="120.9" cy="174.9"/>
<circle class="AMR" cx="98.9" cy="173.0"/>
<circle class="AMR" cx="93.7" cy="164.1"/>
<circle class="AMR" cx="110.0" cy="138.6"/>
<circle class="AMR" cx="123.6" cy="127.3"/>
<circle class="AMR" cx="80.4" cy="116.2"/>
<circle class="AMR" cx="86.8" cy="147.5"/>
<circle class="AMR" cx="79.7" cy="161.0"/>
<circle class="SAS" cx="95.3" cy="153.2"/>
<circle class="SAS" cx="102.1" cy="156.9"/>
<circle class="SAS" cx="92.3" cy="182.5"/>
<circle class="SAS" cx="86.0" cy="140.3"/>
<circle class="SAS" cx="94.5" cy="187.3"/>
<circle class="SAS" cx="108.3" cy="177.0"/>
<circle class="SAS" cx="85.9" cy="131.6"/>
<circle class="SAS" cx="90.3" cy="161.4"/>
<circle class="SAS" cx="96.1" cy="156.7"/>
<circle class="SAS" cx="90.1" cy="146.2"/>
<circle class="SAS" cx="103.7" cy="169.8"/>
<circle class="SAS" cx="100.2" cy="165.9"/>
<circle class="SAS" cx="95.8" cy="136.4"/>
<circle class="SAS" cx="97.4" cy="128.6"/>
<circle class="SAS" cx="106.1" cy="165.3"/>
<circle class="SAS" cx="102.2" cy="179.0"/>
<circle class="SAS" cx="85.2" cy="169.1"/>
<circle class="SAS" cx="90.0" cy="130.6"/>
<circle class="SAS" cx="102.3" cy="174.9"/>
<circle class="SAS" cx="88.3" cy="145.0"/>
<circle class="SAS" cx="99.0" cy="170.7"/>
<circle class="SAS" cx="110.8" cy="156.2"/>
<circle class="SAS" cx="87.0" cy="161.3"/>
<circle class="SAS" cx="96.5" cy="136.9"/>
<circle class="SAS" cx="89.4" cy="163.4"/>
<circle class="SAS" cx="92.5" cy="142.8"/>
<circle class="SAS" cx="99.3" cy="183.7"/>
<circle class="SAS" cx="89.0" cy="186.8"/>
<circle class="SAS" cx="102.6" cy="182.3"/>
<circle class="SAS" cx="88.5" cy="130.9"/>
<circle class="SAS" cx="100.8" cy="175.1"/>
<circle class="SAS" cx="95.0" cy="188.1"/>
<circle class="SAS" cx="99.4" cy="119.3"/>
<circle class="SAS" cx="97.3" cy="146.1"/>
<circle class="SAS" cx="98.1" cy="160.8"/>
<circle class="SAS" cx="105.3" cy="169.7"/>
<circle class="SAS" cx="88.9" cy="169.8"/>
<circle class="SAS" cx="95.2" cy="165.5"/>
<circle class="SAS" cx="90.3" cy="157.3"/>
<circle class="SAS" cx="106.6" cy="144.6"/>
<circle class="SAS" cx="104.1" cy="152.6"/>
<circle class="SAS" cx="90.2" cy="173.0"/>
<circle class="SAS" cx="93.7" cy="122.7"/>
<circle class="SAS" cx="98.0" cy="128.0"/>
<circle class="SAS" cx="98.1" cy="151.5"/>
<circle class="SAS" cx="89.3" cy="111.7"/>
<circle class="SAS" cx="88.0" cy="146.8"/>
<circle class="SAS" cx="86.8" cy="164.6"/>
<circle class="SAS" cx="86.7" cy="168.6"/>
<circle class="SAS" cx="93.0" cy="114.0"/>
<circle class="SAS" cx="93.1" cy="144.4"/>
<circle class="SAS" cx="101.1" cy="173.7"/>
<circle class="SAS" cx="105.1" cy="146.0"/>
<circle class="SAS" cx="96.0" cy="166.7"/>
<circle class="SAS" cx="100.2" cy="148.8"/>
<circle class="SAS" cx="87.9" cy="156.6"/>
<circle class="SAS" cx="93.4" cy="175.1"/>
<circle class="SAS" cx="98.2" cy="183.7"/>
<circle class="SAS" cx="98.1" cy="131.2"/>
<circle class="SAS" cx="102.7" cy="135.0"/>
<circle class="SAS" cx="101.6" cy="150.7"/>
<circle class="SAS" cx="90.1" cy="173.0"/>
<circle class="SAS" cx="98.6" cy="188.9"/>
<circle class="SAS" cx="99.8" cy="138.9"/>
<circle class="SAS" cx="91.5" cy="154.9"/>
<circle class="SAS" cx="89.0" cy="168.6"/>
<circle class="SAS" cx="107.5" cy="145.4"/>
<circle class="SAS" cx="91.2" cy="138.2"/>
<circle class="SAS" cx="89.8" cy="126.2"/>
<circle class="SAS" cx="94.5" cy="135.6"/>
<circle class="SAS" cx="96.1" cy="143.1"/>
<circle class="SAS" cx="98.4" cy="136.1"/>
<circle class="SAS" cx="107.4" cy="153.8"/>
<circle class="SAS" cx="98.9" cy="187.5"/>
<circle class="SAS" cx="94.3" cy="169.4"/>
<circle class="SAS" cx="107.6" cy="188.4"/>
<circle class="SAS" cx="86.2" cy="154.8"/>
<circle class="SAS" cx="92.2" cy="136.6"/>
<circle class="SAS" cx="98.4" cy="128.0"/>
<circle class="SAS" cx="101.1" cy="183.1"/>
<circle class="SAS" cx="106.3" cy="169.6"/>
<circle class="SAS" cx="103.3" cy="158.5"/>
<circle class="SAS" cx="101.9" cy="151.9"/>
<circle class="SAS" cx="95.4" cy="163.9"/>
<circle class="SAS" cx="97.2" cy="182.0"/>
<circle class="SAS" cx="102.9" cy="133.8"/>
<circle class="SAS" cx="98.6" cy="181.3"/>
<circle class="SAS" cx="96.1" cy="125.1"/>
<circle class="SAS" cx="92.3" cy="140.0"/>
<circle class="SAS" cx="95.5" cy="141.3"/>
<circle class="SAS" cx="108.8" cy="174.4"/>
<circle class="SAS" cx="99.2" cy="134.9"/>
<circle class="SAS" cx="104.6" cy="191.2"/>
<circle class="SAS" cx="90.3" cy="182.4"/>
<circle class="AFR" cx="275.3" cy="115.6"/>
<circle class="AFR" cx="245.5" cy="131.6"/>
<circle class="AFR" cx="270.1" cy="140.6"/>
<circle class="AFR" cx="263.9" cy="132.4"/>
<circle class="AFR" cx="281.4" cy="133.4"/>
<circle class="AFR" cx="207.8" cy="140.1"/>
<circle class="AFR" cx="272.5" cy="116.7"/>
<circle class="AFR" cx="179.8" cy="125.1"/>
<circle class="AFR" cx="258.5" cy="126.2"/>
<circle class="AFR" cx="223.0" cy="140.6"/>
<circle class="AFR" cx="281.5" cy="136.6"/>
<circle class="AFR" cx="256.7" cy="133.5"/>
<circle class="AFR" cx="274.7" cy="140.4"/>
<circle class="AFR" cx="285.1" cy="132.0"/>
<circle class="AFR" cx="286.4" cy="134.1"/>
<circle class="AFR" cx="260.6" cy="125.5"/>
<circle class="AFR" cx="272.7" cy="112.8"/>
<circle class="AFR" cx="220.5" cy="145.7"/>
<circle class="AFR" cx="187.0" cy="136.4"/>
<circle class="AFR" cx="248.2" cy="137.3"/>
<circle class="AFR" cx="271.0" cy="135.0"/>
<circle class="AFR" cx="183.4" cy="166.8"/>
<circle class="AFR" cx="255.9" cy="128.0"/>
<circle class="AFR" cx="216.6" cy="164.0"/>
<circle class="AFR" cx="282.5" cy="117.6"/>
<circle class="AFR" cx="288.4" cy="134.7"/>
<circle class="AFR" cx="268.6" cy="116.7"/>
<circle class="AFR" cx="264.4" cy="129.1"/>
<circle class="AFR" cx="272.9" cy="144.0"/>
<circle class="AFR" cx="258.5" cy="128.6"/>
<circle class="AFR" cx="247.9" cy="138.4"/>
<circle class="AFR" cx="281.1" cy="124.4"/>
<circle class="AFR" cx="254.8" cy="134.2"/>
<circle class="AFR" cx="260.6" cy="131.7"/>
<circle class="AFR" cx="270.9" cy="118.4"/>
<circle class="AFR" cx="265.2" cy="134.0"/>
<circle class="AFR" cx="258.6" cy="117.1"/>
<circle class="AFR" cx="257.4" cy="118.5"/>
<circle class="AFR" cx="288.8" cy="122.9"/>
<circle class="AFR" cx="289.3" cy="127.9"/>
<circle class="AFR" cx="259.3" cy="127.6"/>
<circle class="AFR" cx="279.2" cy="125.6"/>
<circle class="AFR" cx="255.6" cy="134.5"/>
<circle class="AFR" cx="283.1" cy="133.5"/>
<circle class="AFR" cx="268.1" cy="122.0"/>
<circle class="AFR" cx="174.3" cy="173.3"/>
<circle class="AFR" cx="275.3" cy="113.1"/>
<circle class="AFR" cx="278.1" cy="121.6"/>
<circle class="AFR" cx="257.4" cy="130.2"/>
<circle class="AFR" cx="286.6" cy="119.4"/>
<circle class="AFR" cx="282.3" cy="124.2"/>
<circle class="AFR" cx="284.3" cy="124.5"/>
<circle class="AFR" cx="204.0" cy="148.2"/>
<circle class="AFR" cx="269.8" cy="120.6"/>
<circle class="AFR" cx="274.1" cy="123.7"/>
<circle class="AFR" cx="266.8" cy="123.5"/>
<circle class="AFR" cx="266.1" cy="139.3"/>
<circle class="AFR" cx="269.4" cy="133.3"/>
<circle class="AFR" cx="256.3" cy="143.7"/>
<circle class="AFR" cx="272.5" cy="126.5"/>
<circle class="AFR" cx="249.0" cy="140.0"/>
<circle class="AFR" cx="270.6" cy="121.8"/>
<circle class="AFR" cx="252.8" cy="133.7"/>
<circle class="AFR" cx="275.0" cy="116.4"/>
<circle class="AFR" cx="282.2" cy="118.2"/>
<circle class="AFR" cx="264.1" cy="136.5"/>
<circle class="AFR" cx="271.9" cy="109.7"/>
<circle class="AFR" cx="257.9" cy="130.0"/>
<circle class="AFR" cx="281.5" cy="125.8"/>
<circle class="AFR" cx="281.4" cy="131.3"/>
<circle class="AFR" cx="258.0" cy="140.2"/>
<circle class="AFR" cx="275.5" cy="140.6"/>
<circle class="AFR" cx="281.9" cy="121.9"/>
<circle class="AFR" cx="263.2" cy="139.9"/>
<circle class="AFR" cx="226.8" cy="134.3"/>
<circle class="AFR" cx="222.0" cy="133.0"/>
<circle class="AFR" cx="279.4" cy="128.3"/>
<circle class="AFR" cx="252.9" cy="143.4"/>
<circle class="AFR" cx="254.7" cy="128.2"/>
<circle class="AFR" cx="270.3" cy="127.9"/>
<circle class="AFR" cx="197.6" cy="160.4"/>
<circle class="AFR" cx="280.8" cy="132.6"/>
<circle class="AFR" cx="280.9" cy="133.9"/>
<circle class="AFR" cx="287.1" cy="136.0"/>
<circle class="AFR" cx="200.2" cy="166.5"/>
<circle class="AFR" cx="258.2" cy="144.2"/>
<circle class="AFR" cx="285.3" cy="121.7"/>
<circle class="AFR" cx="265.7" cy="138.1"/>
<circle class="AFR" cx="271.8" cy="118.4"/>
<circle class="AFR" cx="281.1" cy="118.7"/>
<circle class="GIAB" cx="97.6" cy="211.0"/>
<circle class="GIAB" cx="95.6" cy="214.4"/>
</g>
<rect x="56.5" y="4.2" width="247.0" height="241.7" fill="none" stroke="#333" stroke-width="1.1"/>
<line x1="61.0" y1="245.9" x2="61.0" y2="249.6" stroke="#333" stroke-width="1.3"/>
<text transform="translate(61.0,260.2) scale(1.055,1)" text-anchor="middle" class="tk">−0.02</text>
<line x1="138.4" y1="245.9" x2="138.4" y2="249.6" stroke="#333" stroke-width="1.3"/>
<text transform="translate(138.4,260.2) scale(1.055,1)" text-anchor="middle" class="tk">0.00</text>
<line x1="215.8" y1="245.9" x2="215.8" y2="249.6" stroke="#333" stroke-width="1.3"/>
<text transform="translate(215.8,260.2) scale(1.055,1)" text-anchor="middle" class="tk">0.02</text>
<line x1="293.2" y1="245.9" x2="293.2" y2="249.6" stroke="#333" stroke-width="1.3"/>
<text transform="translate(293.2,260.2) scale(1.055,1)" text-anchor="middle" class="tk">0.04</text>
<line x1="52.8" y1="4.3" x2="56.5" y2="4.3" stroke="#333" stroke-width="1.3"/>
<text transform="translate(50.2,8.2) scale(1.055,1)" text-anchor="end" class="tk">0.050</text>
<line x1="52.8" y1="71.0" x2="56.5" y2="71.0" stroke="#333" stroke-width="1.3"/>
<text transform="translate(50.2,74.9) scale(1.055,1)" text-anchor="end" class="tk">0.025</text>
<line x1="52.8" y1="137.9" x2="56.5" y2="137.9" stroke="#333" stroke-width="1.3"/>
<text transform="translate(50.2,141.8) scale(1.055,1)" text-anchor="end" class="tk">0.000</text>
<line x1="52.8" y1="204.35" x2="56.5" y2="204.35" stroke="#333" stroke-width="1.3"/>
<text transform="translate(50.2,208.25) scale(1.055,1)" text-anchor="end" class="tk">−0.025</text>
<text x="180.0" y="275.4" text-anchor="middle" class="ti">PC1</text>
<text transform="translate(9.8,125.05) rotate(-90)" text-anchor="middle" class="ti">PC2</text>
<text transform="translate(91.1,206) scale(1.055,1)" text-anchor="start" class="an">normal</text>
<text transform="translate(72.4,227) scale(1.055,1)" text-anchor="start" class="an">tumor</text>
<g>
<circle class="AFR" cx="554.6" cy="145.4"/>
<circle class="AFR" cx="524.3" cy="149.7"/>
<circle class="AFR" cx="567.7" cy="137.1"/>
<circle class="AFR" cx="574.6" cy="153.5"/>
<circle class="AFR" cx="576.6" cy="163.8"/>
<circle class="AFR" cx="491.5" cy="175.2"/>
<circle class="AFR" cx="583.2" cy="149.9"/>
<circle class="AFR" cx="579.3" cy="145.6"/>
<circle class="AFR" cx="551.3" cy="158.4"/>
<circle class="AFR" cx="570.4" cy="163.7"/>
<circle class="AFR" cx="578.5" cy="163.8"/>
<circle class="AFR" cx="592.0" cy="156.3"/>
<circle class="AFR" cx="559.4" cy="148.9"/>
<circle class="AFR" cx="564.6" cy="142.5"/>
<circle class="AFR" cx="576.4" cy="150.4"/>
<circle class="AFR" cx="583.9" cy="160.3"/>
<circle class="AFR" cx="583.5" cy="141.3"/>
<circle class="AFR" cx="531.1" cy="142.4"/>
<circle class="AFR" cx="582.4" cy="141.8"/>
<circle class="AFR" cx="547.1" cy="154.6"/>
<circle class="AFR" cx="566.1" cy="152.8"/>
<circle class="AFR" cx="571.1" cy="145.1"/>
<circle class="AFR" cx="576.9" cy="154.5"/>
<circle class="AFR" cx="571.8" cy="136.9"/>
<circle class="AFR" cx="579.8" cy="159.3"/>
<circle class="AFR" cx="583.1" cy="161.8"/>
<circle class="AFR" cx="575.6" cy="139.9"/>
<circle class="AFR" cx="550.2" cy="147.8"/>
<circle class="AFR" cx="566.2" cy="138.6"/>
<circle class="AFR" cx="585.8" cy="163.4"/>
<circle class="AFR" cx="562.6" cy="154.7"/>
<circle class="AFR" cx="559.3" cy="147.2"/>
<circle class="AFR" cx="546.8" cy="148.0"/>
<circle class="AFR" cx="560.7" cy="156.2"/>
<circle class="AFR" cx="580.3" cy="157.0"/>
<circle class="AFR" cx="587.2" cy="152.5"/>
<circle class="AFR" cx="588.1" cy="146.5"/>
<circle class="AFR" cx="574.3" cy="155.4"/>
<circle class="AFR" cx="590.9" cy="152.1"/>
<circle class="AFR" cx="565.5" cy="144.6"/>
<circle class="AFR" cx="549.0" cy="142.7"/>
<circle class="AFR" cx="575.8" cy="159.4"/>
<circle class="AFR" cx="512.0" cy="139.8"/>
<circle class="AFR" cx="570.0" cy="137.1"/>
<circle class="AFR" cx="571.5" cy="139.3"/>
<circle class="AFR" cx="587.1" cy="143.0"/>
<circle class="AFR" cx="553.3" cy="149.0"/>
<circle class="AFR" cx="582.2" cy="142.8"/>
<circle class="AFR" cx="575.2" cy="155.3"/>
<circle class="AFR" cx="573.9" cy="153.3"/>
<circle class="AFR" cx="582.0" cy="148.9"/>
<circle class="AFR" cx="576.1" cy="137.1"/>
<circle class="AFR" cx="554.3" cy="153.1"/>
<circle class="AFR" cx="573.2" cy="146.0"/>
<circle class="AFR" cx="587.7" cy="157.8"/>
<circle class="AFR" cx="572.9" cy="159.5"/>
<circle class="AFR" cx="571.4" cy="158.8"/>
<circle class="AFR" cx="558.7" cy="143.1"/>
<circle class="AFR" cx="577.4" cy="161.0"/>
<circle class="AFR" cx="568.1" cy="154.8"/>
<circle class="AFR" cx="573.2" cy="143.8"/>
<circle class="AFR" cx="570.9" cy="147.2"/>
<circle class="AFR" cx="481.4" cy="104.2"/>
<circle class="AFR" cx="574.5" cy="165.2"/>
<circle class="AFR" cx="569.1" cy="152.1"/>
<circle class="AFR" cx="569.1" cy="146.6"/>
<circle class="AFR" cx="584.1" cy="143.2"/>
<circle class="AFR" cx="560.2" cy="143.6"/>
<circle class="AFR" cx="572.6" cy="142.7"/>
<circle class="AFR" cx="580.1" cy="145.0"/>
<circle class="AFR" cx="575.2" cy="152.4"/>
<circle class="AFR" cx="559.7" cy="158.9"/>
<circle class="AFR" cx="583.2" cy="155.1"/>
<circle class="AFR" cx="558.9" cy="147.2"/>
<circle class="AFR" cx="575.4" cy="146.5"/>
<circle class="AFR" cx="584.2" cy="164.4"/>
<circle class="AFR" cx="560.8" cy="156.9"/>
<circle class="AFR" cx="503.5" cy="125.2"/>
<circle class="AFR" cx="568.7" cy="146.4"/>
<circle class="AFR" cx="579.7" cy="156.2"/>
<circle class="AFR" cx="575.6" cy="142.9"/>
<circle class="AFR" cx="531.9" cy="153.2"/>
<circle class="AFR" cx="578.0" cy="147.2"/>
<circle class="AFR" cx="589.3" cy="158.6"/>
<circle class="AFR" cx="561.5" cy="152.6"/>
<circle class="AFR" cx="575.9" cy="165.3"/>
<circle class="AFR" cx="549.8" cy="138.6"/>
<circle class="AFR" cx="571.2" cy="160.5"/>
<circle class="AFR" cx="581.8" cy="142.3"/>
<circle class="AFR" cx="584.7" cy="154.4"/>
<circle class="AFR" cx="564.5" cy="137.4"/>
<circle class="AFR" cx="583.2" cy="138.3"/>
<circle class="AFR" cx="585.4" cy="140.8"/>
<circle class="AFR" cx="550.5" cy="153.8"/>
<circle class="AFR" cx="566.1" cy="160.1"/>
<circle class="AFR" cx="500.1" cy="143.2"/>
<circle class="AFR" cx="582.1" cy="163.1"/>
<circle class="AFR" cx="587.1" cy="150.4"/>
<circle class="AFR" cx="495.5" cy="136.0"/>
<circle class="AFR" cx="547.9" cy="151.9"/>
<circle class="AFR" cx="583.2" cy="149.7"/>
<circle class="AFR" cx="581.8" cy="146.5"/>
<circle class="AFR" cx="575.7" cy="141.1"/>
<circle class="AFR" cx="571.3" cy="163.1"/>
<circle class="AFR" cx="549.6" cy="141.8"/>
<circle class="AFR" cx="523.9" cy="151.8"/>
<circle class="AFR" cx="545.7" cy="148.5"/>
<circle class="AFR" cx="585.2" cy="140.8"/>
<circle class="AFR" cx="569.6" cy="147.1"/>
<circle class="AFR" cx="491.5" cy="164.3"/>
<circle class="AFR" cx="525.8" cy="158.3"/>
<circle class="AFR" cx="562.8" cy="140.9"/>
<circle class="AFR" cx="586.7" cy="147.3"/>
<circle class="AFR" cx="502.0" cy="139.8"/>
<circle class="AFR" cx="586.6" cy="161.7"/>
<circle class="AFR" cx="525.9" cy="135.8"/>
<circle class="AFR" cx="581.9" cy="160.3"/>
<circle class="AFR" cx="581.0" cy="135.6"/>
<circle class="AFR" cx="565.5" cy="139.5"/>
<circle class="AFR" cx="520.7" cy="158.5"/>
<circle class="AFR" cx="577.7" cy="140.2"/>
<circle class="AFR" cx="578.0" cy="141.3"/>
<circle class="AFR" cx="538.8" cy="157.5"/>
<circle class="AFR" cx="581.7" cy="143.3"/>
<circle class="AFR" cx="585.3" cy="144.0"/>
<circle class="AFR" cx="559.9" cy="146.4"/>
<circle class="AFR" cx="577.3" cy="163.9"/>
<circle class="AFR" cx="562.6" cy="145.8"/>
<circle class="AFR" cx="562.0" cy="144.8"/>
<circle class="AFR" cx="589.4" cy="151.8"/>
<circle class="AFR" cx="549.0" cy="152.9"/>
<circle class="AFR" cx="570.1" cy="153.6"/>
<circle class="AFR" cx="486.1" cy="105.3"/>
<circle class="AFR" cx="558.7" cy="150.7"/>
<circle class="AFR" cx="578.1" cy="136.2"/>
<circle class="AFR" cx="588.9" cy="159.9"/>
<circle class="AFR" cx="570.6" cy="142.0"/>
<circle class="AFR" cx="527.9" cy="143.8"/>
<circle class="AFR" cx="587.5" cy="150.2"/>
<circle class="AFR" cx="557.9" cy="159.2"/>
<circle class="AFR" cx="480.7" cy="140.6"/>
<circle class="AFR" cx="590.7" cy="148.8"/>
<circle class="AFR" cx="577.4" cy="150.3"/>
<circle class="AFR" cx="551.9" cy="152.1"/>
<circle class="AFR" cx="579.0" cy="156.1"/>
<circle class="AFR" cx="586.7" cy="147.5"/>
<circle class="AFR" cx="551.8" cy="159.7"/>
<circle class="AFR" cx="589.5" cy="155.3"/>
<circle class="AFR" cx="547.7" cy="144.2"/>
<circle class="AFR" cx="572.8" cy="150.2"/>
<circle class="AFR" cx="537.3" cy="149.3"/>
<circle class="SAS" cx="398.7" cy="201.6"/>
<circle class="SAS" cx="413.1" cy="172.1"/>
<circle class="SAS" cx="406.1" cy="224.1"/>
<circle class="SAS" cx="408.9" cy="176.5"/>
<circle class="SAS" cx="407.5" cy="210.2"/>
<circle class="SAS" cx="414.0" cy="210.8"/>
<circle class="SAS" cx="415.2" cy="201.1"/>
<circle class="SAS" cx="405.9" cy="186.1"/>
<circle class="SAS" cx="398.4" cy="200.6"/>
<circle class="SAS" cx="399.9" cy="205.2"/>
<circle class="SAS" cx="412.9" cy="207.0"/>
<circle class="SAS" cx="410.5" cy="207.4"/>
<circle class="SAS" cx="406.1" cy="178.3"/>
<circle class="SAS" cx="407.0" cy="176.3"/>
<circle class="SAS" cx="402.1" cy="192.8"/>
<circle class="SAS" cx="403.9" cy="184.2"/>
<circle class="SAS" cx="410.8" cy="199.4"/>
<circle class="SAS" cx="409.4" cy="188.0"/>
<circle class="SAS" cx="394.0" cy="202.1"/>
<circle class="SAS" cx="401.2" cy="190.1"/>
<circle class="SAS" cx="413.8" cy="210.5"/>
<circle class="SAS" cx="396.8" cy="207.8"/>
<circle class="SAS" cx="414.2" cy="213.3"/>
<circle class="SAS" cx="406.7" cy="203.0"/>
<circle class="SAS" cx="402.5" cy="176.2"/>
<circle class="SAS" cx="408.2" cy="186.4"/>
<circle class="SAS" cx="399.6" cy="218.8"/>
<circle class="SAS" cx="401.0" cy="217.2"/>
<circle class="SAS" cx="410.9" cy="177.8"/>
<circle class="SAS" cx="396.5" cy="208.9"/>
<circle class="SAS" cx="401.6" cy="177.3"/>
<circle class="SAS" cx="406.8" cy="178.5"/>
<circle class="SAS" cx="414.1" cy="213.5"/>
<circle class="SAS" cx="408.4" cy="183.4"/>
<circle class="SAS" cx="408.4" cy="207.7"/>
<circle class="SAS" cx="405.5" cy="186.3"/>
<circle class="SAS" cx="396.2" cy="180.9"/>
<circle class="SAS" cx="400.7" cy="178.5"/>
<circle class="SAS" cx="409.4" cy="174.6"/>
<circle class="SAS" cx="410.6" cy="211.1"/>
<circle class="SAS" cx="412.5" cy="217.2"/>
<circle class="SAS" cx="402.9" cy="185.9"/>
<circle class="SAS" cx="411.1" cy="185.9"/>
<circle class="SAS" cx="402.3" cy="189.2"/>
<circle class="SAS" cx="406.6" cy="185.5"/>
<circle class="SAS" cx="400.0" cy="184.9"/>
<circle class="SAS" cx="404.4" cy="188.8"/>
<circle class="SAS" cx="395.3" cy="197.2"/>
<circle class="SAS" cx="415.8" cy="189.0"/>
<circle class="SAS" cx="409.4" cy="182.2"/>
<circle class="SAS" cx="399.4" cy="182.6"/>
<circle class="SAS" cx="408.2" cy="179.9"/>
<circle class="SAS" cx="408.7" cy="191.7"/>
<circle class="SAS" cx="414.5" cy="203.5"/>
<circle class="SAS" cx="406.3" cy="183.0"/>
<circle class="SAS" cx="402.5" cy="207.6"/>
<circle class="SAS" cx="410.8" cy="190.0"/>
<circle class="SAS" cx="418.1" cy="201.6"/>
<circle class="SAS" cx="404.2" cy="211.2"/>
<circle class="SAS" cx="397.7" cy="211.0"/>
<circle class="SAS" cx="405.4" cy="191.0"/>
<circle class="SAS" cx="401.5" cy="191.5"/>
<circle class="SAS" cx="413.5" cy="212.5"/>
<circle class="SAS" cx="397.1" cy="186.8"/>
<circle class="SAS" cx="406.7" cy="216.8"/>
<circle class="SAS" cx="416.1" cy="206.2"/>
<circle class="SAS" cx="408.4" cy="221.4"/>
<circle class="SAS" cx="401.1" cy="202.4"/>
<circle class="SAS" cx="405.3" cy="201.4"/>
<circle class="SAS" cx="410.8" cy="217.4"/>
<circle class="SAS" cx="407.5" cy="192.3"/>
<circle class="SAS" cx="403.7" cy="196.8"/>
<circle class="SAS" cx="416.5" cy="181.3"/>
<circle class="SAS" cx="410.6" cy="207.2"/>
<circle class="SAS" cx="398.5" cy="190.6"/>
<circle class="SAS" cx="413.8" cy="207.9"/>
<circle class="SAS" cx="406.1" cy="193.2"/>
<circle class="SAS" cx="397.7" cy="168.1"/>
<circle class="EAS" cx="382.7" cy="163.0"/>
<circle class="EAS" cx="396.5" cy="164.4"/>
<circle class="EAS" cx="380.3" cy="131.2"/>
<circle class="EAS" cx="389.0" cy="146.3"/>
<circle class="EAS" cx="383.0" cy="167.2"/>
<circle class="EAS" cx="381.1" cy="130.4"/>
<circle class="EAS" cx="396.9" cy="147.6"/>
<circle class="EAS" cx="381.6" cy="145.3"/>
<circle class="EAS" cx="390.0" cy="149.6"/>
<circle class="EAS" cx="386.7" cy="135.4"/>
<circle class="EAS" cx="381.2" cy="139.2"/>
<circle class="EAS" cx="383.7" cy="148.3"/>
<circle class="EAS" cx="392.9" cy="147.7"/>
<circle class="EAS" cx="394.0" cy="142.4"/>
<circle class="EAS" cx="380.0" cy="152.7"/>
<circle class="EAS" cx="395.6" cy="164.2"/>
<circle class="EAS" cx="383.9" cy="123.1"/>
<circle class="EAS" cx="382.5" cy="166.6"/>
<circle class="EAS" cx="383.6" cy="152.3"/>
<circle class="EAS" cx="383.3" cy="161.8"/>
<circle class="EAS" cx="385.9" cy="167.9"/>
<circle class="EAS" cx="384.0" cy="145.0"/>
<circle class="EAS" cx="386.3" cy="138.2"/>
<circle class="EAS" cx="394.4" cy="138.2"/>
<circle class="EAS" cx="391.5" cy="121.8"/>
<circle class="EAS" cx="384.9" cy="125.8"/>
<circle class="EAS" cx="390.6" cy="148.8"/>
<circle class="EAS" cx="395.5" cy="156.6"/>
<circle class="EAS" cx="378.2" cy="137.6"/>
<circle class="EAS" cx="390.8" cy="170.5"/>
<circle class="EAS" cx="385.5" cy="148.4"/>
<circle class="EAS" cx="385.6" cy="147.1"/>
<circle class="EAS" cx="380.0" cy="136.5"/>
<circle class="EAS" cx="389.4" cy="169.6"/>
<circle class="EAS" cx="387.8" cy="157.1"/>
<circle class="EAS" cx="395.5" cy="144.4"/>
<circle class="EAS" cx="387.6" cy="134.4"/>
<circle class="EAS" cx="381.6" cy="152.8"/>
<circle class="EAS" cx="385.7" cy="168.0"/>
<circle class="EAS" cx="380.8" cy="142.1"/>
<circle class="EAS" cx="383.8" cy="132.9"/>
<circle class="EAS" cx="391.6" cy="157.5"/>
<circle class="EAS" cx="387.2" cy="133.3"/>
<circle class="EAS" cx="378.1" cy="137.6"/>
<circle class="EAS" cx="395.4" cy="160.1"/>
<circle class="EAS" cx="383.2" cy="128.7"/>
<circle class="EAS" cx="391.2" cy="148.8"/>
<circle class="EAS" cx="396.0" cy="134.5"/>
<circle class="EAS" cx="385.4" cy="168.1"/>
<circle class="EAS" cx="394.1" cy="158.1"/>
<circle class="EAS" cx="380.8" cy="124.6"/>
<circle class="EAS" cx="380.9" cy="166.9"/>
<circle class="EAS" cx="393.5" cy="149.7"/>
<circle class="EAS" cx="389.6" cy="166.5"/>
<circle class="EAS" cx="390.3" cy="153.4"/>
<circle class="EAS" cx="382.3" cy="166.5"/>
<circle class="EAS" cx="380.2" cy="162.3"/>
<circle class="EAS" cx="387.2" cy="155.8"/>
<circle class="EAS" cx="389.4" cy="121.9"/>
<circle class="EAS" cx="388.8" cy="151.1"/>
<circle class="EAS" cx="381.9" cy="131.5"/>
<circle class="EUR" cx="410.0" cy="143.2"/>
<circle class="EUR" cx="404.5" cy="121.1"/>
<circle class="EUR" cx="413.3" cy="130.2"/>
<circle class="EUR" cx="404.5" cy="148.2"/>
<circle class="EUR" cx="400.7" cy="133.7"/>
<circle class="EUR" cx="406.0" cy="129.9"/>
<circle class="EUR" cx="399.1" cy="146.6"/>
<circle class="EUR" cx="407.2" cy="159.6"/>
<circle class="EUR" cx="401.6" cy="155.9"/>
<circle class="EUR" cx="402.5" cy="129.1"/>
<circle class="EUR" cx="407.8" cy="160.5"/>
<circle class="EUR" cx="401.8" cy="163.3"/>
<circle class="EUR" cx="405.8" cy="148.5"/>
<circle class="EUR" cx="396.7" cy="146.0"/>
<circle class="EUR" cx="414.2" cy="130.1"/>
<circle class="EUR" cx="397.3" cy="142.6"/>
<circle class="EUR" cx="404.2" cy="138.1"/>
<circle class="EUR" cx="404.4" cy="134.1"/>
<circle class="EUR" cx="417.0" cy="140.0"/>
<circle class="EUR" cx="409.0" cy="153.0"/>
<circle class="EUR" cx="411.0" cy="149.9"/>
<circle class="EUR" cx="413.9" cy="161.1"/>
<circle class="EUR" cx="412.9" cy="149.1"/>
<circle class="EUR" cx="419.4" cy="136.9"/>
<circle class="EUR" cx="401.3" cy="157.0"/>
<circle class="EUR" cx="405.3" cy="154.5"/>
<circle class="EUR" cx="417.6" cy="146.6"/>
<circle class="EUR" cx="410.3" cy="148.3"/>
<circle class="EUR" cx="411.8" cy="161.6"/>
<circle class="EUR" cx="409.8" cy="133.3"/>
<circle class="EUR" cx="415.1" cy="132.6"/>
<circle class="EUR" cx="404.1" cy="163.9"/>
<circle class="EUR" cx="406.9" cy="138.2"/>
<circle class="EUR" cx="413.0" cy="134.6"/>
<circle class="EUR" cx="400.0" cy="144.1"/>
<circle class="EUR" cx="410.9" cy="147.5"/>
<circle class="EUR" cx="404.3" cy="152.0"/>
<circle class="EUR" cx="411.7" cy="147.7"/>
<circle class="EUR" cx="417.8" cy="145.9"/>
<circle class="EUR" cx="420.7" cy="151.4"/>
<circle class="EUR" cx="415.6" cy="121.1"/>
<circle class="EUR" cx="418.6" cy="150.6"/>
<circle class="EUR" cx="418.4" cy="141.5"/>
<circle class="EUR" cx="404.5" cy="129.9"/>
<circle class="EUR" cx="398.9" cy="130.5"/>
<circle class="EUR" cx="414.4" cy="150.0"/>
<circle class="EUR" cx="406.1" cy="138.8"/>
<circle class="EUR" cx="411.3" cy="145.4"/>
<circle class="EUR" cx="403.0" cy="123.4"/>
<circle class="EUR" cx="408.6" cy="151.7"/>
<circle class="EUR" cx="400.6" cy="136.2"/>
<circle class="EUR" cx="417.0" cy="159.2"/>
<circle class="EUR" cx="405.6" cy="155.9"/>
<circle class="EUR" cx="409.3" cy="125.0"/>
<circle class="EUR" cx="409.6" cy="141.9"/>
<circle class="EUR" cx="414.1" cy="147.3"/>
<circle class="EUR" cx="408.3" cy="156.1"/>
<circle class="EUR" cx="418.5" cy="138.8"/>
<circle class="EUR" cx="400.0" cy="146.1"/>
<circle class="EUR" cx="402.9" cy="120.9"/>
<circle class="EUR" cx="409.3" cy="137.3"/>
<circle class="EUR" cx="401.2" cy="128.5"/>
<circle class="EUR" cx="408.6" cy="163.1"/>
<circle class="EUR" cx="403.6" cy="134.9"/>
<circle class="EUR" cx="420.3" cy="133.9"/>
<circle class="EUR" cx="413.6" cy="150.8"/>
<circle class="EUR" cx="410.7" cy="121.6"/>
<circle class="EUR" cx="416.7" cy="152.6"/>
<circle class="EUR" cx="396.8" cy="132.2"/>
<circle class="EUR" cx="408.5" cy="145.7"/>
<circle class="EUR" cx="398.4" cy="132.0"/>
<circle class="EUR" cx="399.4" cy="125.3"/>
<circle class="EUR" cx="399.9" cy="159.6"/>
<circle class="EUR" cx="414.2" cy="150.8"/>
<circle class="EUR" cx="409.6" cy="137.5"/>
<circle class="EUR" cx="400.2" cy="153.1"/>
<circle class="EUR" cx="402.0" cy="123.2"/>
<circle class="EUR" cx="413.6" cy="135.0"/>
<circle class="EUR" cx="403.4" cy="158.1"/>
<circle class="EUR" cx="419.3" cy="150.4"/>
<circle class="EUR" cx="400.8" cy="126.5"/>
<circle class="EUR" cx="409.5" cy="113.6"/>
<circle class="EUR" cx="408.4" cy="162.6"/>
<circle class="EUR" cx="399.5" cy="156.3"/>
<circle class="EUR" cx="400.2" cy="129.6"/>
<circle class="EUR" cx="400.1" cy="123.9"/>
<circle class="EUR" cx="406.2" cy="150.1"/>
<circle class="EUR" cx="395.3" cy="124.5"/>
<circle class="EUR" cx="407.8" cy="158.8"/>
<circle class="EUR" cx="405.8" cy="123.3"/>
<circle class="EUR" cx="401.6" cy="159.0"/>
<circle class="EAS" cx="397.9" cy="137.0"/>
<circle class="EAS" cx="382.3" cy="122.4"/>
<circle class="EAS" cx="384.6" cy="172.4"/>
<circle class="EAS" cx="387.1" cy="131.3"/>
<circle class="EAS" cx="386.7" cy="135.1"/>
<circle class="EAS" cx="390.5" cy="165.6"/>
<circle class="EAS" cx="391.5" cy="156.1"/>
<circle class="EAS" cx="386.2" cy="147.7"/>
<circle class="EAS" cx="386.9" cy="145.7"/>
<circle class="EAS" cx="394.1" cy="137.1"/>
<circle class="EAS" cx="389.0" cy="148.6"/>
<circle class="EAS" cx="396.0" cy="137.9"/>
<circle class="EAS" cx="392.4" cy="163.2"/>
<circle class="EAS" cx="385.1" cy="148.9"/>
<circle class="EAS" cx="379.5" cy="149.8"/>
<circle class="EAS" cx="395.4" cy="132.2"/>
<circle class="EAS" cx="381.1" cy="130.7"/>
<circle class="EAS" cx="381.3" cy="147.7"/>
<circle class="EAS" cx="383.3" cy="157.4"/>
<circle class="EAS" cx="386.1" cy="139.1"/>
<circle class="EAS" cx="386.5" cy="145.8"/>
<circle class="EAS" cx="393.0" cy="168.0"/>
<circle class="EAS" cx="380.1" cy="143.4"/>
<circle class="EAS" cx="386.9" cy="135.1"/>
<circle class="EAS" cx="381.1" cy="146.5"/>
<circle class="EAS" cx="387.3" cy="160.4"/>
<circle class="EAS" cx="392.8" cy="135.4"/>
<circle class="EAS" cx="394.5" cy="134.2"/>
<circle class="EAS" cx="394.0" cy="135.6"/>
<circle class="EAS" cx="395.0" cy="128.4"/>
<circle class="EAS" cx="393.4" cy="166.1"/>
<circle class="EAS" cx="379.1" cy="130.9"/>
<circle class="EAS" cx="391.2" cy="129.9"/>
<circle class="EAS" cx="387.3" cy="122.5"/>
<circle class="EAS" cx="378.3" cy="137.4"/>
<circle class="EAS" cx="383.9" cy="166.5"/>
<circle class="EAS" cx="387.3" cy="174.2"/>
<circle class="EAS" cx="380.7" cy="124.8"/>
<circle class="EAS" cx="391.7" cy="168.9"/>
<circle class="EAS" cx="381.7" cy="133.8"/>
<circle class="EAS" cx="386.9" cy="145.6"/>
<circle class="EAS" cx="390.6" cy="128.2"/>
<circle class="EAS" cx="392.5" cy="129.6"/>
<circle class="EAS" cx="378.8" cy="155.4"/>
<circle class="EAS" cx="380.4" cy="128.3"/>
<circle class="EAS" cx="380.6" cy="128.9"/>
<circle class="EAS" cx="392.4" cy="161.2"/>
<circle class="EAS" cx="394.4" cy="124.4"/>
<circle class="EAS" cx="383.8" cy="130.8"/>
<circle class="EAS" cx="382.7" cy="146.5"/>
<circle class="EAS" cx="393.7" cy="166.5"/>
<circle class="EAS" cx="385.7" cy="164.4"/>
<circle class="EAS" cx="395.0" cy="143.0"/>
<circle class="EAS" cx="385.9" cy="135.0"/>
<circle class="EAS" cx="392.7" cy="143.9"/>
<circle class="EAS" cx="386.0" cy="158.9"/>
<circle class="EAS" cx="396.1" cy="152.3"/>
<circle class="EAS" cx="382.7" cy="147.3"/>
<circle class="EAS" cx="393.6" cy="164.3"/>
<circle class="EAS" cx="385.6" cy="130.4"/>
<circle class="EAS" cx="389.6" cy="128.8"/>
<circle class="EAS" cx="389.5" cy="142.5"/>
<circle class="EAS" cx="380.3" cy="128.1"/>
<circle class="EAS" cx="389.4" cy="157.5"/>
<circle class="EAS" cx="382.7" cy="122.2"/>
<circle class="EAS" cx="393.3" cy="152.7"/>
<circle class="EAS" cx="389.9" cy="142.6"/>
<circle class="EAS" cx="382.0" cy="141.4"/>
<circle class="EAS" cx="389.6" cy="170.4"/>
<circle class="EAS" cx="391.1" cy="143.0"/>
<circle class="EAS" cx="398.4" cy="155.2"/>
<circle class="EAS" cx="387.5" cy="130.5"/>
<circle class="EAS" cx="395.5" cy="133.2"/>
<circle class="EAS" cx="389.1" cy="124.7"/>
<circle class="EAS" cx="393.0" cy="146.3"/>
<circle class="EAS" cx="393.4" cy="147.5"/>
<circle class="EAS" cx="390.8" cy="129.5"/>
<circle class="EAS" cx="396.1" cy="169.0"/>
<circle class="EAS" cx="386.3" cy="126.3"/>
<circle class="EAS" cx="395.1" cy="145.3"/>
<circle class="EAS" cx="390.3" cy="168.9"/>
<circle class="EAS" cx="389.4" cy="164.6"/>
<circle class="EAS" cx="396.4" cy="154.0"/>
<circle class="EAS" cx="386.1" cy="127.6"/>
<circle class="EAS" cx="390.0" cy="172.1"/>
<circle class="EAS" cx="380.5" cy="156.6"/>
<circle class="EAS" cx="387.4" cy="124.5"/>
<circle class="EAS" cx="380.6" cy="164.9"/>
<circle class="EAS" cx="381.5" cy="157.3"/>
<circle class="EAS" cx="392.9" cy="157.2"/>
<circle class="EAS" cx="394.4" cy="151.4"/>
<circle class="EAS" cx="392.5" cy="156.0"/>
<circle class="EAS" cx="387.7" cy="150.3"/>
<circle class="EAS" cx="389.9" cy="146.9"/>
<circle class="EAS" cx="389.1" cy="152.8"/>
<circle class="EAS" cx="382.1" cy="161.0"/>
<circle class="EAS" cx="397.1" cy="144.8"/>
<circle class="EAS" cx="395.1" cy="145.0"/>
<circle class="EAS" cx="392.1" cy="133.2"/>
<circle class="EAS" cx="392.1" cy="135.0"/>
<circle class="EAS" cx="383.3" cy="142.9"/>
<circle class="EAS" cx="384.4" cy="134.2"/>
<circle class="EAS" cx="389.1" cy="133.5"/>
<circle class="EAS" cx="387.0" cy="147.8"/>
<circle class="EAS" cx="379.8" cy="130.6"/>
<circle class="EAS" cx="389.4" cy="130.4"/>
<circle class="EAS" cx="388.5" cy="125.1"/>
<circle class="EAS" cx="393.0" cy="138.9"/>
<circle class="EAS" cx="391.4" cy="139.6"/>
<circle class="EAS" cx="389.7" cy="127.5"/>
<circle class="EAS" cx="393.2" cy="142.9"/>
<circle class="EAS" cx="393.2" cy="150.3"/>
<circle class="EAS" cx="381.3" cy="140.3"/>
<circle class="EAS" cx="386.0" cy="146.9"/>
<circle class="EAS" cx="381.7" cy="124.3"/>
<circle class="EAS" cx="390.3" cy="124.4"/>
<circle class="EAS" cx="390.4" cy="126.9"/>
<circle class="EAS" cx="396.1" cy="159.8"/>
<circle class="EAS" cx="394.1" cy="157.3"/>
<circle class="EAS" cx="384.9" cy="135.7"/>
<circle class="EAS" cx="386.4" cy="148.0"/>
<circle class="EAS" cx="388.8" cy="126.6"/>
<circle class="EAS" cx="395.7" cy="126.0"/>
<circle class="EAS" cx="387.9" cy="164.6"/>
<circle class="EAS" cx="388.3" cy="128.3"/>
<circle class="EAS" cx="388.9" cy="142.4"/>
<circle class="EAS" cx="393.9" cy="167.5"/>
<circle class="EAS" cx="385.3" cy="120.8"/>
<circle class="EAS" cx="391.9" cy="137.2"/>
<circle class="EAS" cx="387.2" cy="138.8"/>
<circle class="EAS" cx="388.9" cy="133.1"/>
<circle class="EAS" cx="390.5" cy="137.0"/>
<circle class="EAS" cx="384.7" cy="166.1"/>
<circle class="EAS" cx="397.5" cy="138.5"/>
<circle class="EAS" cx="389.7" cy="166.7"/>
<circle class="EAS" cx="379.9" cy="145.6"/>
<circle class="EAS" cx="395.8" cy="144.1"/>
<circle class="EAS" cx="387.6" cy="164.5"/>
<circle class="EAS" cx="383.3" cy="130.6"/>
<circle class="EAS" cx="395.1" cy="126.9"/>
<circle class="EAS" cx="388.7" cy="126.3"/>
<circle class="EAS" cx="394.2" cy="125.3"/>
<circle class="EAS" cx="390.0" cy="173.5"/>
<circle class="EAS" cx="388.5" cy="121.8"/>
<circle class="EAS" cx="389.6" cy="166.0"/>
<circle class="EAS" cx="394.0" cy="150.4"/>
<circle class="EAS" cx="398.9" cy="144.1"/>
<circle class="EAS" cx="380.8" cy="131.7"/>
<circle class="AMR" cx="415.2" cy="72.9"/>
<circle class="AMR" cx="406.9" cy="86.2"/>
<circle class="AMR" cx="385.0" cy="45.0"/>
<circle class="AMR" cx="406.8" cy="90.9"/>
<circle class="AMR" cx="417.3" cy="110.5"/>
<circle class="AMR" cx="412.4" cy="98.1"/>
<circle class="AMR" cx="389.8" cy="66.6"/>
<circle class="AMR" cx="415.8" cy="112.9"/>
<circle class="AMR" cx="429.9" cy="163.6"/>
<circle class="AMR" cx="394.1" cy="106.4"/>
<circle class="AMR" cx="408.4" cy="96.1"/>
<circle class="AMR" cx="438.3" cy="148.8"/>
<circle class="AMR" cx="430.3" cy="106.6"/>
<circle class="AMR" cx="410.2" cy="105.3"/>
<circle class="AMR" cx="404.1" cy="82.7"/>
<circle class="AMR" cx="387.4" cy="72.0"/>
<circle class="AMR" cx="409.7" cy="87.4"/>
<circle class="AMR" cx="416.8" cy="97.4"/>
<circle class="AMR" cx="399.0" cy="73.4"/>
<circle class="AMR" cx="389.3" cy="43.2"/>
<circle class="AMR" cx="412.4" cy="98.1"/>
<circle class="AMR" cx="412.5" cy="88.7"/>
<circle class="AMR" cx="387.5" cy="55.9"/>
<circle class="AMR" cx="416.5" cy="88.3"/>
<circle class="AMR" cx="421.3" cy="125.8"/>
<circle class="AMR" cx="404.4" cy="119.9"/>
<circle class="AMR" cx="464.3" cy="148.9"/>
<circle class="AMR" cx="408.5" cy="98.9"/>
<circle class="AMR" cx="442.2" cy="101.8"/>
<circle class="AMR" cx="386.9" cy="28.6"/>
<circle class="AMR" cx="422.1" cy="117.1"/>
<circle class="AMR" cx="416.3" cy="116.6"/>
<circle class="AMR" cx="414.7" cy="105.2"/>
<circle class="AMR" cx="421.8" cy="100.3"/>
<circle class="AMR" cx="393.9" cy="68.7"/>
<circle class="AMR" cx="404.3" cy="82.0"/>
<circle class="AMR" cx="460.0" cy="140.8"/>
<circle class="AMR" cx="444.3" cy="75.0"/>
<circle class="AMR" cx="402.6" cy="115.7"/>
<circle class="AMR" cx="405.8" cy="125.3"/>
<circle class="AMR" cx="410.8" cy="106.4"/>
<circle class="AMR" cx="446.2" cy="83.6"/>
<circle class="AMR" cx="427.3" cy="113.6"/>
<circle class="AMR" cx="402.6" cy="121.4"/>
<circle class="AMR" cx="407.6" cy="93.1"/>
<circle class="AMR" cx="401.9" cy="92.6"/>
<circle class="AMR" cx="410.5" cy="105.4"/>
<circle class="AMR" cx="406.7" cy="88.9"/>
<circle class="AMR" cx="402.5" cy="92.9"/>
<circle class="AMR" cx="451.7" cy="113.6"/>
<circle class="AMR" cx="418.9" cy="91.5"/>
<circle class="AMR" cx="397.1" cy="100.5"/>
<circle class="AMR" cx="389.0" cy="57.6"/>
<circle class="AMR" cx="432.5" cy="77.4"/>
<circle class="AMR" cx="378.9" cy="38.3"/>
<circle class="AMR" cx="438.1" cy="120.7"/>
<circle class="AMR" cx="413.3" cy="107.7"/>
<circle class="AMR" cx="397.4" cy="89.7"/>
<circle class="AMR" cx="386.4" cy="27.4"/>
<circle class="AMR" cx="427.6" cy="128.3"/>
<circle class="AMR" cx="389.4" cy="48.6"/>
<circle class="AMR" cx="390.2" cy="44.9"/>
<circle class="AMR" cx="399.6" cy="109.3"/>
<circle class="AMR" cx="395.6" cy="60.2"/>
<circle class="AMR" cx="412.1" cy="89.8"/>
<circle class="AMR" cx="399.4" cy="87.7"/>
<circle class="AMR" cx="391.4" cy="63.9"/>
<circle class="AMR" cx="425.5" cy="126.5"/>
<circle class="AMR" cx="383.5" cy="48.5"/>
<circle class="AMR" cx="387.9" cy="47.8"/>
<circle class="AMR" cx="426.5" cy="155.4"/>
<circle class="AMR" cx="408.5" cy="83.4"/>
<circle class="AMR" cx="400.0" cy="87.4"/>
<circle class="AMR" cx="399.4" cy="67.9"/>
<circle class="AMR" cx="433.0" cy="149.6"/>
<circle class="AMR" cx="407.8" cy="103.7"/>
<circle class="AMR" cx="438.3" cy="135.4"/>
<circle class="AMR" cx="421.9" cy="109.0"/>
<circle class="AMR" cx="426.0" cy="133.9"/>
<circle class="AMR" cx="535.9" cy="143.8"/>
<circle class="AMR" cx="413.3" cy="94.9"/>
<circle class="AMR" cx="395.0" cy="47.6"/>
<circle class="AMR" cx="425.9" cy="117.1"/>
<circle class="AMR" cx="428.1" cy="141.5"/>
<circle class="AMR" cx="408.7" cy="109.6"/>
<circle class="AMR" cx="395.3" cy="64.8"/>
<circle class="AMR" cx="388.3" cy="39.9"/>
<circle class="AMR" cx="409.0" cy="113.1"/>
<circle class="AMR" cx="407.8" cy="109.8"/>
<circle class="AMR" cx="468.0" cy="107.1"/>
<circle class="AMR" cx="420.2" cy="91.1"/>
<circle class="AMR" cx="418.2" cy="46.6"/>
<circle class="AMR" cx="403.1" cy="95.7"/>
<circle class="AMR" cx="398.4" cy="84.9"/>
<circle class="AMR" cx="431.5" cy="110.9"/>
<circle class="AMR" cx="417.7" cy="84.1"/>
<circle class="AMR" cx="391.0" cy="68.5"/>
<circle class="AMR" cx="409.3" cy="104.3"/>
<circle class="AMR" cx="401.1" cy="95.7"/>
<circle class="AFR" cx="578.5" cy="149.7"/>
<circle class="AFR" cx="577.3" cy="137.2"/>
<circle class="AFR" cx="588.5" cy="149.3"/>
<circle class="AFR" cx="529.9" cy="131.0"/>
<circle class="AFR" cx="506.0" cy="142.6"/>
<circle class="AFR" cx="579.5" cy="156.9"/>
<circle class="AFR" cx="508.5" cy="137.9"/>
<circle class="AFR" cx="574.5" cy="152.3"/>
<circle class="AFR" cx="586.6" cy="155.2"/>
<circle class="AFR" cx="561.5" cy="151.8"/>
<circle class="AFR" cx="558.3" cy="139.4"/>
<circle class="AFR" cx="559.3" cy="147.6"/>
<circle class="AFR" cx="510.0" cy="150.6"/>
<circle class="AFR" cx="588.6" cy="155.0"/>
<circle class="AFR" cx="508.2" cy="148.3"/>
<circle class="AFR" cx="585.6" cy="155.1"/>
<circle class="AFR" cx="567.8" cy="140.0"/>
<circle class="AFR" cx="570.0" cy="138.2"/>
<circle class="AFR" cx="562.3" cy="151.8"/>
<circle class="AFR" cx="583.8" cy="145.3"/>
<circle class="AFR" cx="576.9" cy="144.0"/>
<circle class="AFR" cx="583.1" cy="160.8"/>
<circle class="AFR" cx="574.9" cy="152.9"/>
<circle class="AFR" cx="550.0" cy="143.0"/>
<circle class="AFR" cx="566.3" cy="137.8"/>
<circle class="AFR" cx="559.5" cy="156.3"/>
<circle class="AFR" cx="586.6" cy="149.3"/>
<circle class="AFR" cx="560.9" cy="155.6"/>
<circle class="AFR" cx="590.1" cy="149.7"/>
<circle class="AFR" cx="583.4" cy="148.6"/>
<circle class="AFR" cx="570.2" cy="143.9"/>
<circle class="AFR" cx="547.8" cy="155.7"/>
<circle class="AFR" cx="569.4" cy="142.0"/>
<circle class="AFR" cx="535.3" cy="154.3"/>
<circle class="AFR" cx="568.7" cy="159.5"/>
<circle class="AFR" cx="576.0" cy="149.5"/>
<circle class="AFR" cx="546.2" cy="143.9"/>
<circle class="AFR" cx="575.6" cy="151.0"/>
<circle class="AFR" cx="559.7" cy="138.9"/>
<circle class="AFR" cx="582.4" cy="156.8"/>
<circle class="AFR" cx="586.1" cy="157.1"/>
<circle class="AFR" cx="507.2" cy="138.6"/>
<circle class="AFR" cx="573.7" cy="151.2"/>
<circle class="AFR" cx="581.7" cy="163.0"/>
<circle class="AFR" cx="561.0" cy="136.5"/>
<circle class="AFR" cx="566.3" cy="140.1"/>
<circle class="AFR" cx="572.7" cy="146.7"/>
<circle class="AFR" cx="592.8" cy="145.9"/>
<circle class="AFR" cx="575.4" cy="141.9"/>
<circle class="AFR" cx="566.7" cy="146.0"/>
<circle class="AFR" cx="517.0" cy="140.6"/>
<circle class="AFR" cx="582.1" cy="139.3"/>
<circle class="AFR" cx="581.5" cy="147.8"/>
<circle class="AFR" cx="559.7" cy="154.9"/>
<circle class="AFR" cx="562.3" cy="139.4"/>
<circle class="AFR" cx="558.4" cy="139.9"/>
<circle class="AFR" cx="585.9" cy="153.9"/>
<circle class="AFR" cx="584.8" cy="141.2"/>
<circle class="AFR" cx="568.5" cy="161.4"/>
<circle class="AFR" cx="566.6" cy="160.6"/>
<circle class="AFR" cx="587.8" cy="142.8"/>
<circle class="AFR" cx="575.1" cy="165.4"/>
<circle class="AFR" cx="494.4" cy="144.4"/>
<circle class="AFR" cx="568.8" cy="158.8"/>
<circle class="AFR" cx="588.4" cy="150.8"/>
<circle class="AFR" cx="577.9" cy="157.2"/>
<circle class="AFR" cx="553.1" cy="152.9"/>
<circle class="AFR" cx="562.7" cy="144.8"/>
<circle class="AFR" cx="567.9" cy="141.8"/>
<circle class="AFR" cx="563.0" cy="140.0"/>
<circle class="AFR" cx="591.8" cy="149.7"/>
<circle class="AFR" cx="582.0" cy="144.0"/>
<circle class="AFR" cx="534.5" cy="142.4"/>
<circle class="AFR" cx="477.0" cy="138.1"/>
<circle class="AFR" cx="585.9" cy="156.4"/>
<circle class="AFR" cx="562.2" cy="153.5"/>
<circle class="EUR" cx="397.3" cy="147.4"/>
<circle class="EUR" cx="409.5" cy="125.0"/>
<circle class="EUR" cx="408.6" cy="128.8"/>
<circle class="EUR" cx="401.2" cy="129.0"/>
<circle class="EUR" cx="409.7" cy="129.2"/>
<circle class="EUR" cx="413.2" cy="133.1"/>
<circle class="EUR" cx="402.6" cy="141.7"/>
<circle class="EUR" cx="404.8" cy="163.9"/>
<circle class="EUR" cx="410.1" cy="144.7"/>
<circle class="EUR" cx="403.6" cy="122.7"/>
<circle class="EUR" cx="401.9" cy="163.8"/>
<circle class="EUR" cx="409.9" cy="130.2"/>
<circle class="EUR" cx="417.1" cy="123.1"/>
<circle class="EUR" cx="418.4" cy="128.9"/>
<circle class="EUR" cx="409.6" cy="152.5"/>
<circle class="EUR" cx="397.0" cy="137.4"/>
<circle class="EUR" cx="409.6" cy="162.3"/>
<circle class="EUR" cx="399.3" cy="147.0"/>
<circle class="EUR" cx="418.0" cy="135.4"/>
<circle class="EUR" cx="396.6" cy="152.1"/>
<circle class="EUR" cx="401.6" cy="144.2"/>
<circle class="EUR" cx="406.6" cy="140.6"/>
<circle class="EUR" cx="399.9" cy="131.0"/>
<circle class="EUR" cx="405.0" cy="125.6"/>
<circle class="EUR" cx="398.3" cy="150.4"/>
<circle class="EUR" cx="406.6" cy="131.4"/>
<circle class="EUR" cx="409.6" cy="156.6"/>
<circle class="EUR" cx="412.6" cy="159.5"/>
<circle class="EUR" cx="411.9" cy="142.0"/>
<circle class="EUR" cx="417.6" cy="136.8"/>
<circle class="EUR" cx="405.6" cy="146.7"/>
<circle class="EUR" cx="418.7" cy="137.4"/>
<circle class="EUR" cx="403.1" cy="129.6"/>
<circle class="EUR" cx="397.4" cy="148.1"/>
<circle class="EUR" cx="403.9" cy="149.6"/>
<circle class="EUR" cx="408.2" cy="122.5"/>
<circle class="EUR" cx="395.9" cy="139.2"/>
<circle class="EUR" cx="409.8" cy="135.2"/>
<circle class="EUR" cx="406.7" cy="141.8"/>
<circle class="EUR" cx="411.9" cy="160.9"/>
<circle class="EUR" cx="402.1" cy="125.0"/>
<circle class="EUR" cx="405.6" cy="148.6"/>
<circle class="EUR" cx="408.4" cy="152.9"/>
<circle class="EUR" cx="416.0" cy="122.1"/>
<circle class="EUR" cx="397.8" cy="138.3"/>
<circle class="EUR" cx="397.3" cy="128.9"/>
<circle class="EUR" cx="414.0" cy="124.5"/>
<circle class="EUR" cx="416.7" cy="157.0"/>
<circle class="EUR" cx="416.2" cy="129.4"/>
<circle class="EUR" cx="421.8" cy="137.0"/>
<circle class="EUR" cx="414.7" cy="142.3"/>
<circle class="EUR" cx="398.1" cy="148.4"/>
<circle class="EUR" cx="410.4" cy="160.8"/>
<circle class="EUR" cx="414.9" cy="130.6"/>
<circle class="EUR" cx="409.5" cy="141.3"/>
<circle class="EUR" cx="411.0" cy="138.9"/>
<circle class="EUR" cx="409.2" cy="165.2"/>
<circle class="EUR" cx="408.0" cy="130.7"/>
<circle class="EUR" cx="407.6" cy="152.2"/>
<circle class="EUR" cx="409.9" cy="137.2"/>
<circle class="EUR" cx="416.2" cy="153.1"/>
<circle class="EUR" cx="405.6" cy="159.8"/>
<circle class="EUR" cx="414.0" cy="143.2"/>
<circle class="EUR" cx="415.7" cy="147.1"/>
<circle class="EUR" cx="407.2" cy="128.0"/>
<circle class="EUR" cx="401.1" cy="128.2"/>
<circle class="EUR" cx="418.6" cy="151.9"/>
<circle class="EUR" cx="418.9" cy="147.9"/>
<circle class="EUR" cx="399.2" cy="126.4"/>
<circle class="EUR" cx="406.1" cy="135.2"/>
<circle class="EUR" cx="414.1" cy="126.2"/>
<circle class="EUR" cx="415.0" cy="133.4"/>
<circle class="EUR" cx="397.1" cy="145.4"/>
<circle class="EUR" cx="400.3" cy="146.2"/>
<circle class="EUR" cx="403.1" cy="125.2"/>
<circle class="EUR" cx="407.5" cy="141.1"/>
<circle class="EUR" cx="400.3" cy="160.2"/>
<circle class="EUR" cx="410.3" cy="121.4"/>
<circle class="EUR" cx="396.5" cy="137.6"/>
<circle class="EUR" cx="413.9" cy="146.3"/>
<circle class="EUR" cx="409.9" cy="127.8"/>
<circle class="EUR" cx="407.1" cy="136.8"/>
<circle class="EUR" cx="409.4" cy="139.9"/>
<circle class="EUR" cx="398.4" cy="140.7"/>
<circle class="EUR" cx="408.3" cy="129.4"/>
<circle class="EUR" cx="400.0" cy="140.6"/>
<circle class="EUR" cx="417.3" cy="156.7"/>
<circle class="EUR" cx="417.3" cy="147.0"/>
<circle class="EUR" cx="407.2" cy="165.2"/>
<circle class="EUR" cx="419.9" cy="150.2"/>
<circle class="EUR" cx="411.3" cy="160.3"/>
<circle class="EUR" cx="414.1" cy="143.9"/>
<circle class="EUR" cx="414.4" cy="154.5"/>
<circle class="EUR" cx="406.3" cy="135.7"/>
<circle class="EUR" cx="399.9" cy="122.7"/>
<circle class="EUR" cx="405.2" cy="151.5"/>
<circle class="EUR" cx="410.3" cy="152.2"/>
<circle class="EUR" cx="400.1" cy="152.7"/>
<circle class="EUR" cx="399.0" cy="149.3"/>
<circle class="EUR" cx="407.8" cy="143.3"/>
<circle class="EUR" cx="409.0" cy="135.2"/>
<circle class="EUR" cx="437.0" cy="131.0"/>
<circle class="EUR" cx="406.4" cy="132.0"/>
<circle class="EUR" cx="412.3" cy="156.7"/>
<circle class="EUR" cx="409.2" cy="134.0"/>
<circle class="EUR" cx="411.6" cy="152.8"/>
<circle class="EUR" cx="416.9" cy="145.9"/>
<circle class="EUR" cx="415.0" cy="145.8"/>
<circle class="EUR" cx="399.6" cy="155.6"/>
<circle class="EUR" cx="415.1" cy="139.1"/>
<circle class="EUR" cx="408.0" cy="125.7"/>
<circle class="EUR" cx="413.8" cy="145.1"/>
<circle class="EUR" cx="399.8" cy="142.3"/>
<circle class="EUR" cx="406.7" cy="146.0"/>
<circle class="EUR" cx="415.7" cy="143.6"/>
<circle class="EUR" cx="403.1" cy="136.8"/>
<circle class="EUR" cx="415.0" cy="130.8"/>
<circle class="EUR" cx="407.0" cy="146.2"/>
<circle class="EUR" cx="406.4" cy="129.7"/>
<circle class="EUR" cx="412.9" cy="165.0"/>
<circle class="EUR" cx="404.7" cy="146.1"/>
<circle class="EUR" cx="399.0" cy="151.0"/>
<circle class="EUR" cx="412.7" cy="152.5"/>
<circle class="EUR" cx="399.5" cy="124.3"/>
<circle class="EUR" cx="416.9" cy="127.8"/>
<circle class="EUR" cx="399.2" cy="151.6"/>
<circle class="EUR" cx="397.6" cy="137.9"/>
<circle class="EUR" cx="413.6" cy="165.0"/>
<circle class="EUR" cx="412.1" cy="122.9"/>
<circle class="EUR" cx="415.2" cy="132.8"/>
<circle class="EUR" cx="398.3" cy="135.2"/>
<circle class="EUR" cx="408.2" cy="158.2"/>
<circle class="EUR" cx="410.6" cy="161.2"/>
<circle class="EUR" cx="409.3" cy="135.0"/>
<circle class="EUR" cx="401.5" cy="124.9"/>
<circle class="EUR" cx="409.9" cy="147.9"/>
<circle class="EUR" cx="410.6" cy="124.0"/>
<circle class="EUR" cx="410.2" cy="123.8"/>
<circle class="EUR" cx="402.8" cy="137.2"/>
<circle class="EUR" cx="406.5" cy="162.2"/>
<circle class="EUR" cx="401.5" cy="160.1"/>
<circle class="EUR" cx="405.1" cy="145.6"/>
<circle class="EUR" cx="408.8" cy="129.4"/>
<circle class="EUR" cx="415.0" cy="137.9"/>
<circle class="EUR" cx="414.0" cy="139.4"/>
<circle class="EUR" cx="403.6" cy="146.6"/>
<circle class="EUR" cx="399.7" cy="130.8"/>
<circle class="EUR" cx="414.0" cy="126.4"/>
<circle class="EUR" cx="402.6" cy="124.9"/>
<circle class="EUR" cx="416.9" cy="152.5"/>
<circle class="EUR" cx="415.0" cy="133.7"/>
<circle class="EUR" cx="416.2" cy="130.7"/>
<circle class="EUR" cx="395.5" cy="134.0"/>
<circle class="EUR" cx="400.0" cy="135.9"/>
<circle class="EUR" cx="403.6" cy="132.5"/>
<circle class="EUR" cx="409.8" cy="126.9"/>
<circle class="EUR" cx="414.1" cy="158.5"/>
<circle class="EUR" cx="395.6" cy="136.2"/>
<circle class="EUR" cx="419.3" cy="151.8"/>
<circle class="EUR" cx="411.3" cy="126.5"/>
<circle class="EUR" cx="416.3" cy="140.8"/>
<circle class="EUR" cx="407.3" cy="130.1"/>
<circle class="EUR" cx="412.3" cy="138.6"/>
<circle class="EUR" cx="411.4" cy="118.1"/>
<circle class="EUR" cx="410.8" cy="123.2"/>
<circle class="EUR" cx="418.0" cy="150.4"/>
<circle class="EUR" cx="401.2" cy="130.4"/>
<circle class="EUR" cx="411.2" cy="141.9"/>
<circle class="EUR" cx="415.5" cy="152.6"/>
<circle class="EUR" cx="397.4" cy="126.9"/>
<circle class="EUR" cx="424.3" cy="156.4"/>
<circle class="EUR" cx="403.3" cy="154.2"/>
<circle class="SAS" cx="400.3" cy="195.8"/>
<circle class="SAS" cx="401.1" cy="217.5"/>
<circle class="SAS" cx="408.3" cy="203.5"/>
<circle class="SAS" cx="407.3" cy="210.1"/>
<circle class="SAS" cx="409.9" cy="181.7"/>
<circle class="SAS" cx="415.0" cy="209.1"/>
<circle class="SAS" cx="409.4" cy="179.5"/>
<circle class="SAS" cx="411.0" cy="190.1"/>
<circle class="SAS" cx="410.2" cy="205.6"/>
<circle class="SAS" cx="397.3" cy="207.0"/>
<circle class="SAS" cx="408.0" cy="199.6"/>
<circle class="SAS" cx="408.7" cy="205.1"/>
<circle class="SAS" cx="416.4" cy="207.7"/>
<circle class="SAS" cx="413.2" cy="189.6"/>
<circle class="SAS" cx="414.9" cy="192.8"/>
<circle class="SAS" cx="400.0" cy="185.5"/>
<circle class="SAS" cx="405.4" cy="179.6"/>
<circle class="SAS" cx="400.3" cy="193.2"/>
<circle class="SAS" cx="411.6" cy="214.0"/>
<circle class="SAS" cx="416.1" cy="207.0"/>
<circle class="SAS" cx="411.2" cy="173.4"/>
<circle class="SAS" cx="414.5" cy="188.0"/>
<circle class="SAS" cx="407.5" cy="201.7"/>
<circle class="SAS" cx="410.2" cy="203.6"/>
<circle class="SAS" cx="405.7" cy="203.3"/>
<circle class="SAS" cx="406.0" cy="218.6"/>
<circle class="SAS" cx="402.1" cy="172.4"/>
<circle class="SAS" cx="406.7" cy="213.8"/>
<circle class="SAS" cx="406.7" cy="175.5"/>
<circle class="SAS" cx="404.4" cy="215.8"/>
<circle class="SAS" cx="409.8" cy="216.4"/>
<circle class="SAS" cx="415.7" cy="210.6"/>
<circle class="SAS" cx="408.0" cy="208.3"/>
<circle class="SAS" cx="403.6" cy="189.8"/>
<circle class="SAS" cx="407.3" cy="215.8"/>
<circle class="SAS" cx="395.9" cy="201.6"/>
<circle class="SAS" cx="408.5" cy="186.3"/>
<circle class="SAS" cx="395.9" cy="175.8"/>
<circle class="SAS" cx="395.7" cy="190.2"/>
<circle class="SAS" cx="400.3" cy="193.4"/>
<circle class="SAS" cx="396.8" cy="199.7"/>
<circle class="SAS" cx="398.1" cy="179.0"/>
<circle class="SAS" cx="412.3" cy="206.6"/>
<circle class="SAS" cx="398.0" cy="179.0"/>
<circle class="SAS" cx="400.6" cy="199.0"/>
<circle class="SAS" cx="413.8" cy="176.3"/>
<circle class="SAS" cx="414.9" cy="211.5"/>
<circle class="SAS" cx="408.9" cy="210.6"/>
<circle class="SAS" cx="414.5" cy="196.4"/>
<circle class="SAS" cx="410.0" cy="187.8"/>
<circle class="SAS" cx="400.2" cy="185.9"/>
<circle class="SAS" cx="410.3" cy="211.6"/>
<circle class="SAS" cx="401.2" cy="182.9"/>
<circle class="SAS" cx="413.4" cy="213.4"/>
<circle class="SAS" cx="397.5" cy="175.0"/>
<circle class="SAS" cx="410.7" cy="235.4"/>
<circle class="SAS" cx="402.6" cy="175.2"/>
<circle class="SAS" cx="414.6" cy="187.9"/>
<circle class="SAS" cx="415.2" cy="186.0"/>
<circle class="SAS" cx="406.4" cy="178.5"/>
<circle class="SAS" cx="410.5" cy="215.1"/>
<circle class="SAS" cx="411.8" cy="203.1"/>
<circle class="SAS" cx="409.2" cy="199.4"/>
<circle class="SAS" cx="415.3" cy="184.8"/>
<circle class="SAS" cx="400.0" cy="184.2"/>
<circle class="SAS" cx="398.7" cy="169.4"/>
<circle class="SAS" cx="408.0" cy="202.6"/>
<circle class="SAS" cx="406.8" cy="199.0"/>
<circle class="SAS" cx="410.0" cy="222.5"/>
<circle class="SAS" cx="402.1" cy="219.0"/>
<circle class="SAS" cx="399.1" cy="199.4"/>
<circle class="SAS" cx="417.6" cy="204.6"/>
<circle class="SAS" cx="415.6" cy="215.7"/>
<circle class="SAS" cx="402.5" cy="172.5"/>
<circle class="SAS" cx="408.9" cy="197.9"/>
<circle class="SAS" cx="405.6" cy="187.0"/>
<circle class="SAS" cx="408.5" cy="196.6"/>
<circle class="SAS" cx="414.8" cy="198.6"/>
<circle class="SAS" cx="405.6" cy="176.3"/>
<circle class="SAS" cx="406.5" cy="219.8"/>
<circle class="SAS" cx="400.4" cy="180.1"/>
<circle class="SAS" cx="417.1" cy="199.9"/>
<circle class="AFR" cx="589.4" cy="158.2"/>
<circle class="AFR" cx="576.4" cy="157.8"/>
<circle class="AFR" cx="579.0" cy="146.3"/>
<circle class="AFR" cx="495.2" cy="138.0"/>
<circle class="AFR" cx="589.3" cy="154.4"/>
<circle class="AFR" cx="589.3" cy="146.3"/>
<circle class="AFR" cx="578.0" cy="141.0"/>
<circle class="AFR" cx="580.6" cy="147.7"/>
<circle class="AFR" cx="564.6" cy="152.2"/>
<circle class="AFR" cx="581.4" cy="145.2"/>
<circle class="AFR" cx="554.2" cy="149.4"/>
<circle class="AFR" cx="560.5" cy="141.1"/>
<circle class="AFR" cx="558.9" cy="138.2"/>
<circle class="AFR" cx="576.3" cy="148.9"/>
<circle class="AFR" cx="528.1" cy="156.0"/>
<circle class="AFR" cx="561.7" cy="157.4"/>
<circle class="AFR" cx="502.1" cy="138.2"/>
<circle class="AFR" cx="559.1" cy="141.8"/>
<circle class="AFR" cx="585.3" cy="162.0"/>
<circle class="AFR" cx="582.7" cy="159.1"/>
<circle class="AFR" cx="587.3" cy="153.5"/>
<circle class="AFR" cx="577.2" cy="158.8"/>
<circle class="AFR" cx="561.8" cy="169.7"/>
<circle class="AFR" cx="578.4" cy="140.2"/>
<circle class="AFR" cx="590.6" cy="149.3"/>
<circle class="AFR" cx="561.1" cy="150.6"/>
<circle class="AFR" cx="571.9" cy="138.8"/>
<circle class="AFR" cx="578.7" cy="141.2"/>
<circle class="AFR" cx="575.5" cy="155.6"/>
<circle class="AFR" cx="554.3" cy="156.2"/>
<circle class="AFR" cx="566.9" cy="144.4"/>
<circle class="AFR" cx="580.3" cy="145.1"/>
<circle class="AFR" cx="568.8" cy="148.9"/>
<circle class="AFR" cx="578.8" cy="153.2"/>
<circle class="AFR" cx="586.1" cy="155.9"/>
<circle class="AFR" cx="581.1" cy="151.4"/>
<circle class="AFR" cx="580.8" cy="162.2"/>
<circle class="AFR" cx="555.8" cy="155.4"/>
<circle class="AFR" cx="561.8" cy="149.9"/>
<circle class="AFR" cx="566.9" cy="142.4"/>
<circle class="AFR" cx="582.6" cy="155.5"/>
<circle class="AFR" cx="566.7" cy="139.0"/>
<circle class="AFR" cx="559.3" cy="157.5"/>
<circle class="AFR" cx="583.9" cy="145.2"/>
<circle class="AFR" cx="581.7" cy="149.8"/>
<circle class="AFR" cx="561.2" cy="154.5"/>
<circle class="AFR" cx="487.9" cy="134.4"/>
<circle class="AFR" cx="507.8" cy="149.1"/>
<circle class="AFR" cx="577.9" cy="151.6"/>
<circle class="AFR" cx="567.7" cy="161.5"/>
<circle class="AFR" cx="561.8" cy="159.0"/>
<circle class="AFR" cx="558.8" cy="160.9"/>
<circle class="AFR" cx="579.7" cy="156.6"/>
<circle class="AFR" cx="591.0" cy="152.3"/>
<circle class="AFR" cx="565.8" cy="151.7"/>
<circle class="AFR" cx="504.9" cy="153.9"/>
<circle class="AFR" cx="584.1" cy="152.9"/>
<circle class="AFR" cx="584.8" cy="143.5"/>
<circle class="AFR" cx="550.3" cy="150.9"/>
<circle class="AFR" cx="560.1" cy="146.8"/>
<circle class="AFR" cx="574.1" cy="153.4"/>
<circle class="AFR" cx="574.7" cy="144.9"/>
<circle class="AFR" cx="557.9" cy="141.3"/>
<circle class="AFR" cx="552.8" cy="148.0"/>
<circle class="AFR" cx="581.7" cy="159.4"/>
<circle class="AFR" cx="562.5" cy="154.2"/>
<circle class="AFR" cx="515.1" cy="129.8"/>
<circle class="AFR" cx="481.4" cy="118.5"/>
<circle class="AFR" cx="498.8" cy="140.8"/>
<circle class="AFR" cx="586.8" cy="145.2"/>
<circle class="AFR" cx="588.3" cy="149.2"/>
<circle class="AFR" cx="586.0" cy="163.1"/>
<circle class="AFR" cx="589.9" cy="153.9"/>
<circle class="AFR" cx="571.0" cy="154.1"/>
<circle class="AFR" cx="571.0" cy="151.7"/>
<circle class="AFR" cx="577.4" cy="150.9"/>
<circle class="AFR" cx="555.9" cy="151.3"/>
<circle class="AFR" cx="515.1" cy="153.7"/>
<circle class="AFR" cx="564.8" cy="141.3"/>
<circle class="AFR" cx="568.1" cy="136.6"/>
<circle class="AFR" cx="491.5" cy="142.6"/>
<circle class="AFR" cx="494.3" cy="149.1"/>
<circle class="AFR" cx="580.9" cy="141.1"/>
<circle class="EUR" cx="400.2" cy="140.7"/>
<circle class="EUR" cx="420.1" cy="131.6"/>
<circle class="EUR" cx="400.0" cy="142.8"/>
<circle class="EUR" cx="409.0" cy="155.2"/>
<circle class="EUR" cx="415.9" cy="140.1"/>
<circle class="EUR" cx="417.2" cy="133.6"/>
<circle class="EUR" cx="405.0" cy="159.3"/>
<circle class="EUR" cx="413.5" cy="157.5"/>
<circle class="EUR" cx="399.2" cy="159.1"/>
<circle class="EUR" cx="412.2" cy="146.6"/>
<circle class="EUR" cx="410.8" cy="149.1"/>
<circle class="EUR" cx="418.1" cy="129.2"/>
<circle class="EUR" cx="401.6" cy="140.9"/>
<circle class="EUR" cx="414.7" cy="124.4"/>
<circle class="EUR" cx="396.5" cy="135.3"/>
<circle class="EUR" cx="405.6" cy="130.9"/>
<circle class="EUR" cx="405.6" cy="125.1"/>
<circle class="EUR" cx="395.9" cy="139.4"/>
<circle class="EUR" cx="417.2" cy="133.8"/>
<circle class="EUR" cx="403.3" cy="156.3"/>
<circle class="EUR" cx="403.9" cy="120.3"/>
<circle class="EUR" cx="394.0" cy="136.1"/>
<circle class="EUR" cx="402.4" cy="163.8"/>
<circle class="EUR" cx="408.2" cy="132.7"/>
<circle class="EUR" cx="416.1" cy="135.7"/>
<circle class="EUR" cx="398.4" cy="151.7"/>
<circle class="EUR" cx="417.7" cy="133.9"/>
<circle class="EUR" cx="409.5" cy="152.7"/>
<circle class="EUR" cx="399.7" cy="131.8"/>
<circle class="EUR" cx="396.7" cy="152.2"/>
<circle class="EUR" cx="401.1" cy="149.8"/>
<circle class="EUR" cx="407.7" cy="118.5"/>
<circle class="EUR" cx="406.8" cy="143.0"/>
<circle class="EUR" cx="404.6" cy="158.4"/>
<circle class="EUR" cx="407.9" cy="119.6"/>
<circle class="EUR" cx="403.6" cy="130.8"/>
<circle class="EUR" cx="418.1" cy="147.0"/>
<circle class="EUR" cx="414.7" cy="132.9"/>
<circle class="EUR" cx="415.1" cy="129.0"/>
<circle class="EUR" cx="412.4" cy="136.7"/>
<circle class="EUR" cx="413.3" cy="152.2"/>
<circle class="EUR" cx="404.6" cy="131.2"/>
<circle class="EUR" cx="411.7" cy="128.7"/>
<circle class="EUR" cx="405.0" cy="124.4"/>
<circle class="EUR" cx="412.4" cy="133.3"/>
<circle class="EUR" cx="411.4" cy="148.9"/>
<circle class="EUR" cx="418.4" cy="151.7"/>
<circle class="EUR" cx="412.6" cy="158.1"/>
<circle class="EUR" cx="409.5" cy="151.0"/>
<circle class="EUR" cx="396.7" cy="141.0"/>
<circle class="EUR" cx="414.0" cy="130.4"/>
<circle class="EUR" cx="404.1" cy="140.1"/>
<circle class="EUR" cx="398.5" cy="146.9"/>
<circle class="EUR" cx="415.7" cy="126.4"/>
<circle class="EUR" cx="398.7" cy="131.2"/>
<circle class="EUR" cx="411.4" cy="140.9"/>
<circle class="EUR" cx="414.6" cy="130.2"/>
<circle class="EUR" cx="419.2" cy="136.9"/>
<circle class="EUR" cx="415.3" cy="131.2"/>
<circle class="EUR" cx="407.1" cy="139.1"/>
<circle class="EUR" cx="398.4" cy="152.8"/>
<circle class="EUR" cx="395.3" cy="123.9"/>
<circle class="EUR" cx="419.4" cy="145.9"/>
<circle class="EUR" cx="418.0" cy="150.8"/>
<circle class="EUR" cx="414.8" cy="134.0"/>
<circle class="EUR" cx="402.9" cy="123.1"/>
<circle class="EUR" cx="402.8" cy="133.0"/>
<circle class="EUR" cx="422.0" cy="146.1"/>
<circle class="EUR" cx="418.7" cy="135.9"/>
<circle class="EUR" cx="417.4" cy="150.0"/>
<circle class="EUR" cx="404.3" cy="144.4"/>
<circle class="EUR" cx="407.2" cy="136.0"/>
<circle class="EUR" cx="413.0" cy="139.9"/>
<circle class="EUR" cx="415.5" cy="129.4"/>
<circle class="EUR" cx="403.6" cy="121.2"/>
<circle class="EUR" cx="399.4" cy="154.6"/>
<circle class="EUR" cx="409.5" cy="143.9"/>
<circle class="EUR" cx="411.1" cy="155.7"/>
<circle class="EUR" cx="398.3" cy="137.9"/>
<circle class="EUR" cx="405.7" cy="148.8"/>
<circle class="EUR" cx="401.5" cy="123.9"/>
<circle class="EUR" cx="409.6" cy="128.3"/>
<circle class="EUR" cx="404.6" cy="155.0"/>
<circle class="EUR" cx="402.9" cy="147.0"/>
<circle class="EUR" cx="405.1" cy="158.5"/>
<circle class="EUR" cx="412.6" cy="119.2"/>
<circle class="EUR" cx="397.7" cy="129.1"/>
<circle class="EUR" cx="408.5" cy="143.9"/>
<circle class="EUR" cx="405.9" cy="153.9"/>
<circle class="EUR" cx="399.2" cy="129.9"/>
<circle class="SAS" cx="404.8" cy="173.4"/>
<circle class="SAS" cx="405.6" cy="186.2"/>
<circle class="SAS" cx="403.4" cy="191.7"/>
<circle class="SAS" cx="398.9" cy="199.7"/>
<circle class="SAS" cx="403.9" cy="201.6"/>
<circle class="SAS" cx="410.2" cy="185.0"/>
<circle class="SAS" cx="404.8" cy="200.1"/>
<circle class="SAS" cx="396.9" cy="192.3"/>
<circle class="SAS" cx="403.0" cy="179.9"/>
<circle class="SAS" cx="404.3" cy="166.5"/>
<circle class="SAS" cx="412.1" cy="182.2"/>
<circle class="SAS" cx="404.8" cy="210.0"/>
<circle class="SAS" cx="396.3" cy="169.8"/>
<circle class="SAS" cx="396.7" cy="170.0"/>
<circle class="SAS" cx="400.1" cy="183.1"/>
<circle class="SAS" cx="398.5" cy="200.2"/>
<circle class="SAS" cx="405.7" cy="213.2"/>
<circle class="SAS" cx="405.2" cy="169.9"/>
<circle class="SAS" cx="397.7" cy="191.2"/>
<circle class="SAS" cx="397.4" cy="199.4"/>
<circle class="SAS" cx="397.1" cy="193.9"/>
<circle class="SAS" cx="406.4" cy="216.3"/>
<circle class="SAS" cx="408.5" cy="201.3"/>
<circle class="SAS" cx="409.8" cy="178.4"/>
<circle class="SAS" cx="414.0" cy="180.5"/>
<circle class="SAS" cx="401.7" cy="174.1"/>
<circle class="SAS" cx="413.8" cy="200.0"/>
<circle class="SAS" cx="410.8" cy="192.9"/>
<circle class="SAS" cx="408.6" cy="182.4"/>
<circle class="SAS" cx="397.6" cy="175.5"/>
<circle class="SAS" cx="413.7" cy="221.6"/>
<circle class="SAS" cx="416.7" cy="193.6"/>
<circle class="SAS" cx="400.3" cy="192.1"/>
<circle class="SAS" cx="407.2" cy="199.3"/>
<circle class="SAS" cx="404.5" cy="173.7"/>
<circle class="SAS" cx="398.7" cy="199.9"/>
<circle class="SAS" cx="396.1" cy="200.4"/>
<circle class="SAS" cx="410.0" cy="217.7"/>
<circle class="SAS" cx="397.4" cy="202.3"/>
<circle class="SAS" cx="403.8" cy="213.3"/>
<circle class="SAS" cx="406.8" cy="173.6"/>
<circle class="SAS" cx="400.4" cy="210.7"/>
<circle class="SAS" cx="397.7" cy="171.2"/>
<circle class="SAS" cx="398.5" cy="171.9"/>
<circle class="SAS" cx="409.9" cy="197.6"/>
<circle class="SAS" cx="395.9" cy="171.5"/>
<circle class="SAS" cx="417.4" cy="205.5"/>
<circle class="SAS" cx="409.0" cy="196.0"/>
<circle class="SAS" cx="403.7" cy="182.3"/>
<circle class="SAS" cx="409.6" cy="175.0"/>
<circle class="SAS" cx="407.5" cy="193.7"/>
<circle class="SAS" cx="412.3" cy="193.7"/>
<circle class="SAS" cx="409.9" cy="203.3"/>
<circle class="SAS" cx="413.1" cy="211.4"/>
<circle class="SAS" cx="410.9" cy="200.6"/>
<circle class="SAS" cx="403.8" cy="200.3"/>
<circle class="SAS" cx="415.0" cy="228.7"/>
<circle class="SAS" cx="415.3" cy="192.9"/>
<circle class="SAS" cx="408.3" cy="208.7"/>
<circle class="SAS" cx="400.1" cy="188.0"/>
<circle class="SAS" cx="408.6" cy="217.5"/>
<circle class="SAS" cx="423.2" cy="197.1"/>
<circle class="SAS" cx="415.2" cy="197.7"/>
<circle class="SAS" cx="408.1" cy="204.1"/>
<circle class="SAS" cx="397.0" cy="195.3"/>
<circle class="SAS" cx="396.3" cy="194.6"/>
<circle class="SAS" cx="399.9" cy="174.7"/>
<circle class="SAS" cx="404.8" cy="189.7"/>
<circle class="SAS" cx="416.9" cy="197.4"/>
<circle class="SAS" cx="401.1" cy="221.0"/>
<circle class="SAS" cx="412.3" cy="201.8"/>
<circle class="SAS" cx="402.8" cy="166.9"/>
<circle class="SAS" cx="399.5" cy="202.8"/>
<circle class="SAS" cx="412.1" cy="179.2"/>
<circle class="SAS" cx="398.5" cy="203.0"/>
<circle class="SAS" cx="409.2" cy="185.4"/>
<circle class="SAS" cx="412.7" cy="206.4"/>
<circle class="SAS" cx="408.1" cy="207.0"/>
<circle class="SAS" cx="405.6" cy="184.8"/>
<circle class="SAS" cx="412.7" cy="183.9"/>
<circle class="SAS" cx="404.4" cy="198.7"/>
<circle class="SAS" cx="395.7" cy="190.0"/>
<circle class="SAS" cx="412.8" cy="183.4"/>
<circle class="SAS" cx="411.0" cy="219.1"/>
<circle class="SAS" cx="411.8" cy="214.6"/>
<circle class="SAS" cx="412.9" cy="195.9"/>
<circle class="SAS" cx="411.1" cy="222.2"/>
<circle class="SAS" cx="404.7" cy="176.9"/>
<circle class="SAS" cx="398.3" cy="186.1"/>
<circle class="SAS" cx="401.1" cy="195.4"/>
<circle class="SAS" cx="417.8" cy="193.8"/>
<circle class="SAS" cx="408.9" cy="177.2"/>
<circle class="SAS" cx="407.5" cy="208.2"/>
<circle class="EAS" cx="382.2" cy="124.6"/>
<circle class="EAS" cx="394.5" cy="146.2"/>
<circle class="EAS" cx="384.2" cy="137.0"/>
<circle class="EAS" cx="386.1" cy="140.1"/>
<circle class="EAS" cx="388.5" cy="129.9"/>
<circle class="EAS" cx="390.4" cy="145.6"/>
<circle class="EAS" cx="383.5" cy="134.8"/>
<circle class="EAS" cx="388.4" cy="125.3"/>
<circle class="EAS" cx="395.5" cy="156.9"/>
<circle class="EAS" cx="388.2" cy="139.7"/>
<circle class="EAS" cx="391.3" cy="131.9"/>
<circle class="EAS" cx="390.3" cy="160.6"/>
<circle class="EAS" cx="394.4" cy="164.7"/>
<circle class="EAS" cx="390.8" cy="123.6"/>
<circle class="EAS" cx="380.2" cy="140.1"/>
<circle class="EAS" cx="380.2" cy="141.4"/>
<circle class="EAS" cx="386.9" cy="139.2"/>
<circle class="EAS" cx="398.2" cy="143.0"/>
<circle class="EAS" cx="389.4" cy="146.7"/>
<circle class="EAS" cx="383.6" cy="139.3"/>
<circle class="EAS" cx="383.7" cy="130.8"/>
<circle class="EAS" cx="396.8" cy="154.2"/>
<circle class="EAS" cx="386.8" cy="168.3"/>
<circle class="EAS" cx="394.1" cy="132.8"/>
<circle class="EAS" cx="379.9" cy="127.5"/>
<circle class="EAS" cx="383.9" cy="148.4"/>
<circle class="EAS" cx="393.6" cy="144.5"/>
<circle class="EAS" cx="396.0" cy="143.4"/>
<circle class="EAS" cx="392.2" cy="153.9"/>
<circle class="EAS" cx="379.5" cy="152.1"/>
<circle class="EAS" cx="381.6" cy="138.3"/>
<circle class="EAS" cx="393.6" cy="135.2"/>
<circle class="EAS" cx="394.8" cy="158.4"/>
<circle class="EAS" cx="391.7" cy="148.6"/>
<circle class="EAS" cx="396.0" cy="140.7"/>
<circle class="EAS" cx="386.9" cy="150.0"/>
<circle class="EAS" cx="395.6" cy="159.3"/>
<circle class="EAS" cx="380.2" cy="128.6"/>
<circle class="EAS" cx="384.0" cy="142.5"/>
<circle class="EAS" cx="393.2" cy="164.6"/>
<circle class="EAS" cx="396.5" cy="132.4"/>
<circle class="EAS" cx="389.2" cy="152.5"/>
<circle class="EAS" cx="391.4" cy="147.4"/>
<circle class="EAS" cx="392.2" cy="138.8"/>
<circle class="EAS" cx="391.3" cy="137.6"/>
<circle class="EAS" cx="381.0" cy="131.4"/>
<circle class="EAS" cx="395.7" cy="165.8"/>
<circle class="EAS" cx="394.2" cy="150.0"/>
<circle class="EAS" cx="383.5" cy="132.4"/>
<circle class="EAS" cx="397.5" cy="142.8"/>
<circle class="EAS" cx="395.2" cy="147.5"/>
<circle class="EAS" cx="389.8" cy="148.4"/>
<circle class="EAS" cx="392.6" cy="125.7"/>
<circle class="EAS" cx="386.7" cy="153.7"/>
<circle class="EAS" cx="382.8" cy="160.7"/>
<circle class="EAS" cx="394.6" cy="151.6"/>
<circle class="EAS" cx="392.9" cy="146.1"/>
<circle class="EAS" cx="382.3" cy="161.1"/>
<circle class="EAS" cx="387.6" cy="154.7"/>
<circle class="EAS" cx="385.5" cy="155.2"/>
<circle class="EAS" cx="387.3" cy="140.8"/>
<circle class="EAS" cx="383.9" cy="149.1"/>
<circle class="EAS" cx="395.8" cy="150.8"/>
<circle class="EAS" cx="394.1" cy="130.1"/>
<circle class="EAS" cx="379.6" cy="132.0"/>
<circle class="EAS" cx="378.1" cy="133.2"/>
<circle class="EAS" cx="394.3" cy="130.4"/>
<circle class="EAS" cx="393.7" cy="164.0"/>
<circle class="EAS" cx="386.4" cy="135.8"/>
<circle class="EAS" cx="396.8" cy="147.7"/>
<circle class="EAS" cx="395.7" cy="167.5"/>
<circle class="EAS" cx="392.9" cy="158.0"/>
<circle class="EAS" cx="391.7" cy="126.5"/>
<circle class="EAS" cx="396.4" cy="124.5"/>
<circle class="EAS" cx="387.8" cy="150.3"/>
<circle class="EAS" cx="389.8" cy="147.7"/>
<circle class="EAS" cx="383.4" cy="124.9"/>
<circle class="EAS" cx="394.3" cy="151.6"/>
<circle class="EAS" cx="392.7" cy="173.7"/>
<circle class="EAS" cx="397.9" cy="153.6"/>
<circle class="EAS" cx="381.2" cy="146.7"/>
<circle class="EAS" cx="381.0" cy="152.8"/>
<circle class="EAS" cx="387.4" cy="138.0"/>
<circle class="EAS" cx="387.3" cy="140.2"/>
<circle class="EAS" cx="394.6" cy="167.7"/>
<circle class="EAS" cx="386.5" cy="136.1"/>
<circle class="EAS" cx="395.9" cy="142.8"/>
<circle class="EAS" cx="396.6" cy="163.7"/>
<circle class="EAS" cx="388.3" cy="161.7"/>
<circle class="EAS" cx="383.8" cy="136.6"/>
<circle class="EAS" cx="391.7" cy="172.0"/>
<circle class="EAS" cx="384.8" cy="149.8"/>
<circle class="EAS" cx="388.7" cy="156.1"/>
<circle class="EAS" cx="392.0" cy="171.2"/>
<circle class="EAS" cx="395.0" cy="152.9"/>
<circle class="EAS" cx="387.4" cy="138.3"/>
<circle class="EAS" cx="395.8" cy="162.5"/>
<circle class="EAS" cx="382.5" cy="151.9"/>
<circle class="EAS" cx="386.6" cy="157.5"/>
<circle class="EAS" cx="390.7" cy="134.2"/>
<circle class="EAS" cx="390.9" cy="122.5"/>
<circle class="EAS" cx="378.3" cy="155.6"/>
<circle class="EAS" cx="389.0" cy="179.6"/>
<circle class="EAS" cx="385.8" cy="125.1"/>
<circle class="EAS" cx="390.4" cy="149.0"/>
<circle class="EAS" cx="392.9" cy="163.3"/>
<circle class="EAS" cx="380.5" cy="162.4"/>
<circle class="EAS" cx="383.2" cy="130.0"/>
<circle class="EAS" cx="394.1" cy="153.7"/>
<circle class="EAS" cx="381.8" cy="130.2"/>
<circle class="EAS" cx="387.1" cy="144.1"/>
<circle class="EAS" cx="392.9" cy="135.1"/>
<circle class="EAS" cx="385.5" cy="172.2"/>
<circle class="EAS" cx="390.7" cy="130.2"/>
<circle class="EAS" cx="384.7" cy="144.9"/>
<circle class="EAS" cx="383.0" cy="147.7"/>
<circle class="EAS" cx="393.4" cy="125.6"/>
<circle class="EAS" cx="393.1" cy="138.4"/>
<circle class="EAS" cx="386.2" cy="142.6"/>
<circle class="EAS" cx="388.3" cy="138.2"/>
<circle class="EAS" cx="386.6" cy="169.6"/>
<circle class="EAS" cx="387.1" cy="167.7"/>
<circle class="AFR" cx="570.6" cy="158.8"/>
<circle class="AFR" cx="444.8" cy="155.2"/>
<circle class="AFR" cx="467.2" cy="102.4"/>
<circle class="AFR" cx="579.4" cy="138.4"/>
<circle class="AFR" cx="570.1" cy="164.6"/>
<circle class="AFR" cx="564.7" cy="156.0"/>
<circle class="AFR" cx="570.1" cy="159.9"/>
<circle class="AFR" cx="561.6" cy="160.1"/>
<circle class="AFR" cx="565.2" cy="161.0"/>
<circle class="AFR" cx="495.1" cy="155.3"/>
<circle class="AFR" cx="571.3" cy="161.7"/>
<circle class="AFR" cx="567.2" cy="138.3"/>
<circle class="AFR" cx="559.5" cy="152.5"/>
<circle class="AFR" cx="562.2" cy="154.9"/>
<circle class="AFR" cx="581.2" cy="147.8"/>
<circle class="AFR" cx="574.7" cy="162.5"/>
<circle class="AFR" cx="570.8" cy="141.4"/>
<circle class="AFR" cx="586.6" cy="153.7"/>
<circle class="AFR" cx="576.8" cy="145.5"/>
<circle class="AFR" cx="556.8" cy="156.2"/>
<circle class="AFR" cx="580.2" cy="157.3"/>
<circle class="AFR" cx="541.8" cy="145.6"/>
<circle class="AFR" cx="588.8" cy="149.0"/>
<circle class="AFR" cx="503.3" cy="147.9"/>
<circle class="AFR" cx="443.3" cy="150.2"/>
<circle class="AFR" cx="571.8" cy="135.6"/>
<circle class="AFR" cx="500.4" cy="142.0"/>
<circle class="AFR" cx="537.8" cy="161.7"/>
<circle class="AFR" cx="570.2" cy="139.3"/>
<circle class="AFR" cx="504.4" cy="154.1"/>
<circle class="AFR" cx="590.6" cy="153.0"/>
<circle class="AFR" cx="572.3" cy="145.8"/>
<circle class="AFR" cx="562.9" cy="150.5"/>
<circle class="AFR" cx="525.9" cy="159.7"/>
<circle class="AFR" cx="568.6" cy="136.5"/>
<circle class="AFR" cx="522.4" cy="155.1"/>
<circle class="AFR" cx="568.7" cy="142.0"/>
<circle class="AFR" cx="581.2" cy="161.2"/>
<circle class="AFR" cx="542.7" cy="145.3"/>
<circle class="AFR" cx="439.0" cy="146.2"/>
<circle class="AFR" cx="562.5" cy="137.1"/>
<circle class="AFR" cx="519.9" cy="129.8"/>
<circle class="AFR" cx="587.1" cy="162.0"/>
<circle class="AFR" cx="564.2" cy="137.7"/>
<circle class="AFR" cx="571.9" cy="137.2"/>
<circle class="AFR" cx="581.6" cy="162.0"/>
<circle class="AFR" cx="564.2" cy="146.3"/>
<circle class="AFR" cx="590.3" cy="147.2"/>
<circle class="AFR" cx="506.0" cy="151.8"/>
<circle class="AFR" cx="547.0" cy="150.9"/>
<circle class="AFR" cx="576.2" cy="141.7"/>
<circle class="AFR" cx="584.4" cy="152.7"/>
<circle class="AFR" cx="561.9" cy="155.2"/>
<circle class="AFR" cx="574.4" cy="154.5"/>
<circle class="AFR" cx="493.8" cy="144.4"/>
<circle class="AFR" cx="562.6" cy="160.0"/>
<circle class="AFR" cx="548.1" cy="154.1"/>
<circle class="AFR" cx="567.2" cy="138.0"/>
<circle class="AFR" cx="536.5" cy="145.3"/>
<circle class="AFR" cx="551.5" cy="150.6"/>
<circle class="AFR" cx="570.1" cy="153.2"/>
<circle class="AFR" cx="573.9" cy="142.0"/>
<circle class="AFR" cx="590.6" cy="159.0"/>
<circle class="AFR" cx="544.9" cy="153.0"/>
<circle class="AFR" cx="568.4" cy="145.1"/>
<circle class="AFR" cx="578.6" cy="155.4"/>
<circle class="AFR" cx="577.4" cy="148.9"/>
<circle class="AFR" cx="574.6" cy="154.0"/>
<circle class="AFR" cx="570.6" cy="158.0"/>
<circle class="AFR" cx="586.1" cy="143.8"/>
<circle class="AFR" cx="539.8" cy="151.8"/>
<circle class="AFR" cx="574.5" cy="160.1"/>
<circle class="AFR" cx="590.3" cy="157.2"/>
<circle class="AFR" cx="574.0" cy="142.6"/>
<circle class="AFR" cx="531.9" cy="143.8"/>
<circle class="AFR" cx="568.6" cy="137.6"/>
<circle class="AFR" cx="561.6" cy="147.8"/>
<circle class="AFR" cx="540.3" cy="151.7"/>
<circle class="AFR" cx="593.1" cy="150.9"/>
<circle class="AFR" cx="525.3" cy="145.2"/>
<circle class="AFR" cx="574.8" cy="158.8"/>
<circle class="AFR" cx="584.6" cy="162.2"/>
<circle class="AFR" cx="556.8" cy="154.2"/>
<circle class="AFR" cx="572.8" cy="162.0"/>
<circle class="AFR" cx="581.6" cy="152.7"/>
<circle class="AFR" cx="569.7" cy="138.4"/>
<circle class="AFR" cx="571.2" cy="149.8"/>
<circle class="AFR" cx="574.7" cy="137.1"/>
<circle class="AFR" cx="589.9" cy="155.3"/>
<circle class="AFR" cx="584.2" cy="140.8"/>
<circle class="AFR" cx="477.7" cy="138.0"/>
<circle class="AFR" cx="572.6" cy="150.4"/>
<circle class="AFR" cx="572.5" cy="162.4"/>
<circle class="AFR" cx="560.4" cy="146.5"/>
<circle class="AFR" cx="559.0" cy="145.6"/>
<circle class="AFR" cx="548.7" cy="151.1"/>
<circle class="AFR" cx="560.8" cy="140.9"/>
<circle class="AFR" cx="588.2" cy="155.5"/>
<circle class="AFR" cx="587.3" cy="149.6"/>
<circle class="AFR" cx="585.8" cy="145.6"/>
<circle class="AFR" cx="570.4" cy="149.7"/>
<circle class="AFR" cx="570.7" cy="161.5"/>
<circle class="AFR" cx="589.8" cy="151.6"/>
<circle class="AFR" cx="557.9" cy="138.5"/>
<circle class="AFR" cx="520.7" cy="147.8"/>
<circle class="AFR" cx="572.8" cy="146.5"/>
<circle class="AFR" cx="582.7" cy="159.9"/>
<circle class="AFR" cx="585.8" cy="151.3"/>
<circle class="AFR" cx="543.8" cy="141.0"/>
<circle class="AFR" cx="573.7" cy="150.5"/>
<circle class="AFR" cx="587.3" cy="141.7"/>
<circle class="AFR" cx="582.5" cy="163.4"/>
<circle class="AFR" cx="586.6" cy="144.5"/>
<circle class="AFR" cx="577.9" cy="139.8"/>
<circle class="AFR" cx="395.9" cy="97.7"/>
<circle class="AFR" cx="569.0" cy="146.5"/>
<circle class="AFR" cx="550.9" cy="140.9"/>
<circle class="AFR" cx="571.2" cy="163.0"/>
<circle class="AFR" cx="552.5" cy="147.7"/>
<circle class="AFR" cx="577.9" cy="135.5"/>
<circle class="AFR" cx="486.1" cy="148.0"/>
<circle class="AFR" cx="553.7" cy="140.2"/>
<circle class="AFR" cx="589.8" cy="147.1"/>
<circle class="AFR" cx="570.3" cy="150.3"/>
<circle class="AFR" cx="551.1" cy="146.3"/>
<circle class="AFR" cx="568.8" cy="141.2"/>
<circle class="AFR" cx="574.7" cy="142.6"/>
<circle class="AFR" cx="563.3" cy="158.1"/>
<circle class="AFR" cx="587.9" cy="157.7"/>
<circle class="AFR" cx="580.8" cy="146.3"/>
<circle class="AFR" cx="572.4" cy="155.6"/>
<circle class="AFR" cx="575.2" cy="162.9"/>
<circle class="AFR" cx="560.4" cy="150.1"/>
<circle class="AFR" cx="563.9" cy="151.3"/>
<circle class="AFR" cx="559.8" cy="142.7"/>
<circle class="AFR" cx="565.9" cy="146.6"/>
<circle class="AFR" cx="455.3" cy="142.6"/>
<circle class="AFR" cx="569.7" cy="155.9"/>
<circle class="AFR" cx="558.9" cy="145.4"/>
<circle class="AFR" cx="576.6" cy="150.5"/>
<circle class="AFR" cx="557.9" cy="153.6"/>
<circle class="AFR" cx="590.7" cy="147.4"/>
<circle class="AFR" cx="576.8" cy="144.1"/>
<circle class="AFR" cx="573.3" cy="158.7"/>
<circle class="AFR" cx="575.0" cy="143.6"/>
<circle class="AFR" cx="573.0" cy="137.6"/>
<circle class="AFR" cx="569.4" cy="164.7"/>
<circle class="AFR" cx="565.3" cy="148.4"/>
<circle class="AFR" cx="539.8" cy="139.8"/>
<circle class="AFR" cx="542.6" cy="141.6"/>
<circle class="AFR" cx="562.1" cy="161.3"/>
<circle class="AFR" cx="591.7" cy="149.7"/>
<circle class="AFR" cx="562.2" cy="141.5"/>
<circle class="AFR" cx="564.5" cy="160.8"/>
<circle class="AFR" cx="563.6" cy="160.5"/>
<circle class="AFR" cx="559.5" cy="152.9"/>
<circle class="AFR" cx="584.6" cy="145.4"/>
<circle class="AFR" cx="556.5" cy="155.3"/>
<circle class="AFR" cx="561.7" cy="157.1"/>
<circle class="AFR" cx="586.9" cy="167.7"/>
<circle class="AFR" cx="517.9" cy="149.8"/>
<circle class="AFR" cx="567.8" cy="155.7"/>
<circle class="AFR" cx="581.9" cy="158.3"/>
<circle class="AFR" cx="578.2" cy="155.8"/>
<circle class="AFR" cx="567.2" cy="159.9"/>
<circle class="AFR" cx="584.6" cy="142.3"/>
<circle class="AFR" cx="501.5" cy="143.9"/>
<circle class="AFR" cx="563.6" cy="155.9"/>
<circle class="AFR" cx="547.5" cy="155.1"/>
<circle class="AFR" cx="566.8" cy="142.6"/>
<circle class="AFR" cx="555.4" cy="151.4"/>
<circle class="AFR" cx="568.0" cy="162.0"/>
<circle class="AFR" cx="569.3" cy="156.0"/>
<circle class="AFR" cx="563.4" cy="157.8"/>
<circle class="AFR" cx="572.2" cy="155.1"/>
<circle class="AFR" cx="533.9" cy="156.9"/>
<circle class="AFR" cx="566.6" cy="155.6"/>
<circle class="AFR" cx="583.3" cy="154.0"/>
<circle class="AFR" cx="479.5" cy="142.5"/>
<circle class="AFR" cx="585.2" cy="145.3"/>
<circle class="AMR" cx="391.0" cy="41.5"/>
<circle class="AMR" cx="392.5" cy="76.8"/>
<circle class="AMR" cx="414.4" cy="109.9"/>
<circle class="AMR" cx="406.2" cy="80.4"/>
<circle class="AMR" cx="420.5" cy="78.5"/>
<circle class="AMR" cx="383.9" cy="71.5"/>
<circle class="AMR" cx="402.2" cy="63.4"/>
<circle class="AMR" cx="428.7" cy="107.2"/>
<circle class="AMR" cx="432.6" cy="92.0"/>
<circle class="AMR" cx="411.9" cy="114.3"/>
<circle class="AMR" cx="384.5" cy="20.3"/>
<circle class="AMR" cx="464.3" cy="141.0"/>
<circle class="AMR" cx="404.6" cy="90.6"/>
<circle class="AMR" cx="388.0" cy="72.1"/>
<circle class="AMR" cx="442.6" cy="102.8"/>
<circle class="AMR" cx="405.5" cy="90.1"/>
<circle class="AMR" cx="390.8" cy="67.0"/>
<circle class="AMR" cx="411.7" cy="105.2"/>
<circle class="AMR" cx="391.5" cy="71.6"/>
<circle class="AMR" cx="393.1" cy="63.2"/>
<circle class="AMR" cx="401.8" cy="112.1"/>
<circle class="AMR" cx="427.6" cy="98.4"/>
<circle class="AMR" cx="408.8" cy="99.2"/>
<circle class="AMR" cx="425.9" cy="83.8"/>
<circle class="AMR" cx="420.5" cy="88.4"/>
<circle class="AMR" cx="426.1" cy="81.1"/>
<circle class="AMR" cx="435.2" cy="115.0"/>
<circle class="AMR" cx="396.4" cy="106.8"/>
<circle class="AMR" cx="426.8" cy="114.5"/>
<circle class="AMR" cx="381.5" cy="48.5"/>
<circle class="AMR" cx="391.0" cy="76.1"/>
<circle class="AMR" cx="412.5" cy="119.8"/>
<circle class="AMR" cx="432.6" cy="90.5"/>
<circle class="AMR" cx="385.8" cy="23.4"/>
<circle class="AMR" cx="417.1" cy="89.1"/>
<circle class="AMR" cx="474.5" cy="121.2"/>
<circle class="AMR" cx="416.4" cy="111.7"/>
<circle class="AMR" cx="426.3" cy="94.4"/>
<circle class="AMR" cx="419.3" cy="126.4"/>
<circle class="AMR" cx="430.6" cy="85.9"/>
<circle class="AMR" cx="428.6" cy="116.0"/>
<circle class="AMR" cx="424.5" cy="153.5"/>
<circle class="AMR" cx="399.7" cy="113.7"/>
<circle class="AMR" cx="428.1" cy="149.1"/>
<circle class="AMR" cx="411.5" cy="96.6"/>
<circle class="AMR" cx="393.6" cy="37.5"/>
<circle class="AMR" cx="396.0" cy="88.2"/>
<circle class="AMR" cx="413.9" cy="110.6"/>
<circle class="AMR" cx="394.9" cy="90.0"/>
<circle class="AMR" cx="386.7" cy="27.1"/>
<circle class="AMR" cx="427.7" cy="119.3"/>
<circle class="AMR" cx="405.9" cy="104.9"/>
<circle class="AMR" cx="407.9" cy="82.8"/>
<circle class="AMR" cx="419.1" cy="98.7"/>
<circle class="AMR" cx="421.5" cy="105.8"/>
<circle class="AMR" cx="389.1" cy="27.5"/>
<circle class="AMR" cx="478.8" cy="129.3"/>
<circle class="AMR" cx="408.7" cy="102.7"/>
<circle class="AMR" cx="435.7" cy="101.4"/>
<circle class="AMR" cx="380.5" cy="34.4"/>
<circle class="AMR" cx="392.5" cy="41.1"/>
<circle class="AMR" cx="418.7" cy="101.6"/>
<circle class="AMR" cx="424.4" cy="149.9"/>
<circle class="AMR" cx="430.0" cy="95.4"/>
<circle class="AMR" cx="404.9" cy="112.1"/>
<circle class="AMR" cx="421.0" cy="89.2"/>
<circle class="AMR" cx="413.0" cy="117.5"/>
<circle class="AMR" cx="379.0" cy="29.6"/>
<circle class="AMR" cx="416.1" cy="110.5"/>
<circle class="AMR" cx="455.3" cy="73.8"/>
<circle class="AMR" cx="394.2" cy="80.4"/>
<circle class="AMR" cx="415.7" cy="106.6"/>
<circle class="AMR" cx="391.4" cy="42.8"/>
<circle class="AMR" cx="389.6" cy="65.8"/>
<circle class="AMR" cx="402.2" cy="101.2"/>
<circle class="AMR" cx="433.6" cy="94.4"/>
<circle class="AMR" cx="404.7" cy="82.2"/>
<circle class="AMR" cx="380.8" cy="75.6"/>
<circle class="AMR" cx="433.2" cy="77.9"/>
<circle class="AMR" cx="408.2" cy="105.2"/>
<circle class="AMR" cx="379.0" cy="21.4"/>
<circle class="AMR" cx="420.9" cy="147.0"/>
<circle class="AMR" cx="458.9" cy="139.0"/>
<circle class="AMR" cx="429.9" cy="106.4"/>
<circle class="AMR" cx="418.4" cy="75.2"/>
<circle class="AMR" cx="397.6" cy="57.4"/>
<circle class="AMR" cx="421.2" cy="113.4"/>
<circle class="AMR" cx="397.1" cy="116.4"/>
<circle class="AMR" cx="423.2" cy="101.6"/>
<circle class="AMR" cx="416.6" cy="107.4"/>
<circle class="AMR" cx="385.1" cy="23.5"/>
<circle class="AMR" cx="431.7" cy="119.5"/>
<circle class="AMR" cx="403.4" cy="92.3"/>
<circle class="AMR" cx="386.0" cy="61.2"/>
<circle class="AMR" cx="391.7" cy="76.9"/>
<circle class="AMR" cx="383.6" cy="28.9"/>
<circle class="AMR" cx="436.7" cy="124.8"/>
<circle class="AMR" cx="391.1" cy="61.7"/>
<circle class="AMR" cx="403.2" cy="97.3"/>
<circle class="AMR" cx="401.1" cy="94.6"/>
<circle class="AMR" cx="403.0" cy="92.2"/>
<circle class="AMR" cx="410.9" cy="75.0"/>
<circle class="AMR" cx="418.9" cy="102.5"/>
<circle class="AMR" cx="390.0" cy="59.8"/>
<circle class="AMR" cx="423.8" cy="77.4"/>
<circle class="AMR" cx="422.0" cy="110.1"/>
<circle class="AMR" cx="389.5" cy="44.6"/>
<circle class="AMR" cx="416.6" cy="120.8"/>
<circle class="AMR" cx="405.3" cy="102.2"/>
<circle class="AMR" cx="426.5" cy="159.4"/>
<circle class="AMR" cx="407.4" cy="78.7"/>
<circle class="AMR" cx="423.5" cy="113.2"/>
<circle class="AMR" cx="399.4" cy="84.2"/>
<circle class="AMR" cx="464.3" cy="94.4"/>
<circle class="AMR" cx="389.2" cy="15.0"/>
<circle class="AMR" cx="396.4" cy="71.4"/>
<circle class="AMR" cx="410.7" cy="87.4"/>
<circle class="AMR" cx="414.6" cy="88.1"/>
<circle class="AMR" cx="382.5" cy="103.7"/>
<circle class="AMR" cx="452.8" cy="120.9"/>
<circle class="AMR" cx="414.7" cy="123.8"/>
<circle class="AMR" cx="437.2" cy="89.0"/>
<circle class="AMR" cx="418.3" cy="116.6"/>
<circle class="AMR" cx="415.8" cy="102.8"/>
<circle class="AMR" cx="417.7" cy="111.7"/>
<circle class="AMR" cx="411.7" cy="102.3"/>
<circle class="AMR" cx="425.6" cy="152.8"/>
<circle class="AMR" cx="390.8" cy="62.3"/>
<circle class="AMR" cx="407.4" cy="80.5"/>
<circle class="AMR" cx="387.1" cy="53.2"/>
<circle class="AMR" cx="399.5" cy="122.3"/>
<circle class="AMR" cx="401.9" cy="96.4"/>
<circle class="AMR" cx="395.5" cy="93.3"/>
<circle class="AMR" cx="413.1" cy="96.7"/>
<circle class="AMR" cx="423.7" cy="118.0"/>
<circle class="AMR" cx="426.4" cy="134.1"/>
<circle class="AMR" cx="409.9" cy="92.8"/>
<circle class="AMR" cx="412.1" cy="116.6"/>
<circle class="AMR" cx="402.8" cy="77.7"/>
<circle class="AMR" cx="487.9" cy="123.6"/>
<circle class="AMR" cx="389.2" cy="36.9"/>
<circle class="AMR" cx="429.9" cy="144.4"/>
<circle class="AMR" cx="419.1" cy="111.4"/>
<circle class="AMR" cx="395.6" cy="78.6"/>
<circle class="AMR" cx="385.5" cy="73.1"/>
<circle class="AMR" cx="396.1" cy="99.6"/>
<circle class="AMR" cx="383.0" cy="49.7"/>
<circle class="AMR" cx="407.6" cy="88.7"/>
<circle class="AMR" cx="388.9" cy="67.4"/>
<circle class="AMR" cx="462.5" cy="134.4"/>
<circle class="AMR" cx="415.5" cy="108.9"/>
<circle class="AMR" cx="418.1" cy="117.8"/>
<circle class="AMR" cx="389.8" cy="63.2"/>
<circle class="AMR" cx="409.4" cy="78.2"/>
<circle class="AMR" cx="424.3" cy="83.2"/>
<circle class="AMR" cx="398.5" cy="78.8"/>
<circle class="AMR" cx="396.6" cy="70.2"/>
<circle class="AMR" cx="392.7" cy="83.2"/>
<circle class="AMR" cx="386.8" cy="45.0"/>
<circle class="AMR" cx="398.3" cy="75.2"/>
<circle class="AMR" cx="401.1" cy="106.3"/>
<circle class="AMR" cx="404.1" cy="91.1"/>
<circle class="AMR" cx="382.4" cy="41.1"/>
<circle class="AMR" cx="413.6" cy="124.0"/>
<circle class="AMR" cx="387.3" cy="82.3"/>
<circle class="AMR" cx="399.2" cy="82.1"/>
<circle class="AMR" cx="392.5" cy="39.7"/>
<circle class="AMR" cx="449.9" cy="120.9"/>
<circle class="AMR" cx="410.8" cy="69.9"/>
<circle class="AMR" cx="380.8" cy="87.3"/>
<circle class="AMR" cx="412.8" cy="84.6"/>
<circle class="AMR" cx="388.4" cy="50.3"/>
<circle class="AMR" cx="407.1" cy="69.7"/>
<circle class="AMR" cx="394.0" cy="68.5"/>
<circle class="AMR" cx="401.2" cy="84.0"/>
<circle class="AMR" cx="402.2" cy="75.8"/>
<circle class="AMR" cx="429.0" cy="98.7"/>
<circle class="AMR" cx="398.4" cy="97.4"/>
<circle class="AMR" cx="398.5" cy="59.5"/>
<circle class="AMR" cx="420.9" cy="155.3"/>
<circle class="AMR" cx="420.2" cy="77.6"/>
<circle class="AMR" cx="383.6" cy="30.2"/>
<circle class="AMR" cx="446.2" cy="134.4"/>
<circle class="AMR" cx="403.7" cy="47.5"/>
<circle class="AMR" cx="398.3" cy="91.4"/>
<circle class="AMR" cx="440.8" cy="126.3"/>
<circle class="AMR" cx="406.0" cy="68.3"/>
<circle class="AMR" cx="406.3" cy="93.0"/>
<circle class="AMR" cx="431.5" cy="102.5"/>
<circle class="AMR" cx="387.9" cy="38.9"/>
<circle class="AMR" cx="408.7" cy="96.3"/>
<circle class="AMR" cx="417.0" cy="112.7"/>
<circle class="AMR" cx="421.6" cy="85.4"/>
<circle class="AMR" cx="392.6" cy="70.5"/>
<circle class="AMR" cx="418.5" cy="102.3"/>
<circle class="AMR" cx="389.8" cy="98.8"/>
<circle class="AMR" cx="387.5" cy="25.1"/>
<circle class="AMR" cx="417.3" cy="93.2"/>
<circle class="AMR" cx="417.7" cy="122.4"/>
<circle class="AMR" cx="391.9" cy="69.0"/>
<circle class="AMR" cx="391.5" cy="96.4"/>
<circle class="AMR" cx="416.6" cy="115.5"/>
<circle class="EUR" cx="398.2" cy="135.7"/>
<circle class="EUR" cx="409.4" cy="135.4"/>
<circle class="EUR" cx="417.6" cy="137.7"/>
<circle class="EUR" cx="408.0" cy="158.4"/>
<circle class="EUR" cx="420.9" cy="133.8"/>
<circle class="EUR" cx="415.2" cy="138.8"/>
<circle class="EUR" cx="422.5" cy="150.0"/>
<circle class="EUR" cx="401.0" cy="121.7"/>
<circle class="EUR" cx="400.6" cy="147.3"/>
<circle class="EUR" cx="421.0" cy="152.2"/>
<circle class="EUR" cx="418.1" cy="125.8"/>
<circle class="EUR" cx="407.2" cy="147.0"/>
<circle class="EUR" cx="403.9" cy="146.0"/>
<circle class="EUR" cx="415.0" cy="128.5"/>
<circle class="EUR" cx="413.5" cy="155.3"/>
<circle class="EUR" cx="414.5" cy="127.3"/>
<circle class="EUR" cx="419.5" cy="144.3"/>
<circle class="EUR" cx="414.2" cy="132.4"/>
<circle class="EUR" cx="400.9" cy="140.9"/>
<circle class="EUR" cx="408.6" cy="141.3"/>
<circle class="EUR" cx="400.4" cy="125.6"/>
<circle class="EUR" cx="397.7" cy="148.7"/>
<circle class="EUR" cx="417.6" cy="148.0"/>
<circle class="EUR" cx="410.4" cy="161.3"/>
<circle class="EUR" cx="402.6" cy="142.3"/>
<circle class="EUR" cx="406.1" cy="146.2"/>
<circle class="EUR" cx="398.9" cy="153.0"/>
<circle class="EUR" cx="410.6" cy="155.7"/>
<circle class="EUR" cx="411.6" cy="146.7"/>
<circle class="EUR" cx="406.7" cy="143.3"/>
<circle class="EUR" cx="397.5" cy="146.6"/>
<circle class="EUR" cx="418.9" cy="147.6"/>
<circle class="EUR" cx="407.5" cy="162.5"/>
<circle class="EUR" cx="419.5" cy="128.7"/>
<circle class="EUR" cx="400.1" cy="140.6"/>
<circle class="EUR" cx="411.0" cy="103.5"/>
<circle class="EUR" cx="405.4" cy="135.1"/>
<circle class="EUR" cx="411.4" cy="156.4"/>
<circle class="EUR" cx="401.6" cy="150.1"/>
<circle class="EUR" cx="417.8" cy="135.0"/>
<circle class="EUR" cx="404.1" cy="122.4"/>
<circle class="EUR" cx="405.8" cy="134.4"/>
<circle class="EUR" cx="414.0" cy="122.2"/>
<circle class="EUR" cx="416.6" cy="122.1"/>
<circle class="EUR" cx="397.4" cy="137.7"/>
<circle class="EUR" cx="399.8" cy="150.7"/>
<circle class="EUR" cx="407.8" cy="146.0"/>
<circle class="EUR" cx="409.9" cy="147.7"/>
<circle class="EUR" cx="403.0" cy="140.7"/>
<circle class="EUR" cx="404.4" cy="132.3"/>
<circle class="EUR" cx="407.3" cy="156.2"/>
<circle class="EUR" cx="413.7" cy="151.6"/>
<circle class="EUR" cx="421.6" cy="142.6"/>
<circle class="EUR" cx="409.8" cy="164.0"/>
<circle class="EUR" cx="411.5" cy="158.9"/>
<circle class="EUR" cx="406.2" cy="163.3"/>
<circle class="EUR" cx="414.7" cy="131.6"/>
<circle class="EUR" cx="410.0" cy="157.1"/>
<circle class="SAS" cx="410.5" cy="170.9"/>
<circle class="SAS" cx="411.7" cy="177.6"/>
<circle class="SAS" cx="400.0" cy="178.5"/>
<circle class="SAS" cx="397.4" cy="191.6"/>
<circle class="EUR" cx="406.0" cy="132.8"/>
<circle class="SAS" cx="412.2" cy="214.8"/>
<circle class="EUR" cx="412.5" cy="146.8"/>
<circle class="EUR" cx="403.5" cy="154.3"/>
<circle class="EUR" cx="395.2" cy="140.5"/>
<circle class="SAS" cx="410.7" cy="191.1"/>
<circle class="EUR" cx="409.7" cy="122.4"/>
<circle class="SAS" cx="413.1" cy="214.9"/>
<circle class="EUR" cx="412.9" cy="161.7"/>
<circle class="SAS" cx="413.4" cy="188.2"/>
<circle class="EUR" cx="414.4" cy="151.0"/>
<circle class="SAS" cx="401.8" cy="202.0"/>
<circle class="SAS" cx="397.2" cy="191.7"/>
<circle class="EUR" cx="402.5" cy="160.3"/>
<circle class="SAS" cx="404.7" cy="194.3"/>
<circle class="EUR" cx="406.7" cy="165.3"/>
<circle class="EUR" cx="418.3" cy="140.9"/>
<circle class="EUR" cx="420.0" cy="146.5"/>
<circle class="EUR" cx="409.8" cy="145.8"/>
<circle class="SAS" cx="395.7" cy="201.2"/>
<circle class="SAS" cx="394.8" cy="190.2"/>
<circle class="EUR" cx="402.3" cy="151.7"/>
<circle class="EUR" cx="404.4" cy="145.1"/>
<circle class="SAS" cx="408.0" cy="177.1"/>
<circle class="SAS" cx="411.0" cy="209.3"/>
<circle class="EUR" cx="412.0" cy="121.9"/>
<circle class="SAS" cx="405.4" cy="186.5"/>
<circle class="SAS" cx="414.9" cy="204.8"/>
<circle class="SAS" cx="408.0" cy="198.2"/>
<circle class="SAS" cx="395.3" cy="180.0"/>
<circle class="SAS" cx="412.9" cy="189.3"/>
<circle class="SAS" cx="412.6" cy="202.0"/>
<circle class="SAS" cx="404.0" cy="177.3"/>
<circle class="SAS" cx="409.1" cy="199.0"/>
<circle class="SAS" cx="399.6" cy="198.8"/>
<circle class="SAS" cx="404.5" cy="176.7"/>
<circle class="SAS" cx="399.8" cy="201.3"/>
<circle class="SAS" cx="405.2" cy="204.5"/>
<circle class="SAS" cx="399.3" cy="186.4"/>
<circle class="SAS" cx="403.4" cy="183.5"/>
<circle class="SAS" cx="400.1" cy="182.3"/>
<circle class="SAS" cx="402.8" cy="172.5"/>
<circle class="SAS" cx="404.4" cy="174.0"/>
<circle class="SAS" cx="409.5" cy="208.0"/>
<circle class="SAS" cx="409.9" cy="183.9"/>
<circle class="SAS" cx="415.6" cy="190.6"/>
<circle class="SAS" cx="404.0" cy="189.3"/>
<circle class="SAS" cx="400.7" cy="199.8"/>
<circle class="SAS" cx="397.7" cy="186.1"/>
<circle class="SAS" cx="400.3" cy="217.6"/>
<circle class="SAS" cx="409.4" cy="194.8"/>
<circle class="SAS" cx="399.0" cy="173.3"/>
<circle class="SAS" cx="399.6" cy="186.5"/>
<circle class="SAS" cx="407.9" cy="214.2"/>
<circle class="SAS" cx="407.7" cy="197.9"/>
<circle class="SAS" cx="407.3" cy="215.1"/>
<circle class="SAS" cx="403.9" cy="185.9"/>
<circle class="SAS" cx="410.0" cy="185.4"/>
<circle class="SAS" cx="398.5" cy="211.8"/>
<circle class="SAS" cx="416.1" cy="191.0"/>
<circle class="SAS" cx="401.4" cy="169.8"/>
<circle class="SAS" cx="413.4" cy="189.7"/>
<circle class="SAS" cx="408.8" cy="194.2"/>
<circle class="SAS" cx="412.0" cy="194.4"/>
<circle class="SAS" cx="412.5" cy="183.8"/>
<circle class="SAS" cx="403.2" cy="217.0"/>
<circle class="SAS" cx="406.1" cy="196.3"/>
<circle class="SAS" cx="414.8" cy="196.7"/>
<circle class="SAS" cx="408.8" cy="182.4"/>
<circle class="SAS" cx="414.1" cy="202.5"/>
<circle class="SAS" cx="410.7" cy="175.6"/>
<circle class="SAS" cx="414.7" cy="183.4"/>
<circle class="SAS" cx="411.6" cy="194.6"/>
<circle class="SAS" cx="397.9" cy="175.8"/>
<circle class="SAS" cx="409.7" cy="197.7"/>
<circle class="SAS" cx="412.2" cy="200.8"/>
<circle class="SAS" cx="408.6" cy="214.0"/>
<circle class="SAS" cx="408.5" cy="215.1"/>
<circle class="SAS" cx="412.8" cy="204.7"/>
<circle class="SAS" cx="397.4" cy="213.8"/>
<circle class="SAS" cx="398.6" cy="180.8"/>
<circle class="SAS" cx="403.8" cy="164.9"/>
<circle class="SAS" cx="403.5" cy="193.6"/>
<circle class="SAS" cx="403.2" cy="198.6"/>
<circle class="SAS" cx="402.6" cy="170.5"/>
<circle class="SAS" cx="406.4" cy="206.0"/>
<circle class="SAS" cx="394.6" cy="203.2"/>
<circle class="SAS" cx="405.7" cy="166.6"/>
<circle class="SAS" cx="395.3" cy="187.9"/>
<circle class="SAS" cx="419.4" cy="219.4"/>
<circle class="SAS" cx="402.8" cy="219.3"/>
<circle class="SAS" cx="404.9" cy="218.8"/>
<circle class="SAS" cx="410.5" cy="213.5"/>
<circle class="SAS" cx="410.9" cy="214.3"/>
<circle class="SAS" cx="396.6" cy="212.6"/>
<circle class="SAS" cx="412.6" cy="181.0"/>
<circle class="SAS" cx="404.3" cy="220.1"/>
<circle class="AMR" cx="431.1" cy="105.2"/>
<circle class="AMR" cx="386.5" cy="32.6"/>
<circle class="AMR" cx="420.0" cy="120.5"/>
<circle class="AMR" cx="398.6" cy="82.1"/>
<circle class="AMR" cx="428.7" cy="119.8"/>
<circle class="AMR" cx="383.7" cy="50.9"/>
<circle class="AMR" cx="411.2" cy="102.0"/>
<circle class="AMR" cx="433.0" cy="86.8"/>
<circle class="AMR" cx="389.8" cy="64.2"/>
<circle class="AMR" cx="433.6" cy="101.7"/>
<circle class="AMR" cx="401.3" cy="71.5"/>
<circle class="AMR" cx="397.7" cy="84.3"/>
<circle class="AMR" cx="383.9" cy="38.3"/>
<circle class="AMR" cx="426.7" cy="127.6"/>
<circle class="AMR" cx="431.6" cy="85.1"/>
<circle class="AMR" cx="410.9" cy="87.8"/>
<circle class="AMR" cx="390.8" cy="73.2"/>
<circle class="AMR" cx="397.0" cy="77.8"/>
<circle class="AMR" cx="393.3" cy="74.3"/>
<circle class="AMR" cx="411.9" cy="102.4"/>
<circle class="AMR" cx="388.2" cy="85.9"/>
<circle class="AMR" cx="402.9" cy="92.9"/>
<circle class="AMR" cx="421.0" cy="92.1"/>
<circle class="AMR" cx="401.2" cy="111.6"/>
<circle class="AMR" cx="416.8" cy="103.8"/>
<circle class="AMR" cx="512.7" cy="147.0"/>
<circle class="AMR" cx="419.8" cy="107.3"/>
<circle class="AMR" cx="396.0" cy="86.5"/>
<circle class="AMR" cx="424.3" cy="130.2"/>
<circle class="AMR" cx="402.5" cy="90.9"/>
<circle class="AMR" cx="405.9" cy="94.7"/>
<circle class="AMR" cx="390.6" cy="38.8"/>
<circle class="AMR" cx="395.6" cy="79.6"/>
<circle class="AMR" cx="386.6" cy="19.8"/>
<circle class="AMR" cx="386.7" cy="72.8"/>
<circle class="AMR" cx="408.4" cy="86.9"/>
<circle class="AMR" cx="389.2" cy="92.0"/>
<circle class="AMR" cx="428.3" cy="106.0"/>
<circle class="AMR" cx="415.4" cy="107.0"/>
<circle class="AMR" cx="381.3" cy="32.4"/>
<circle class="AMR" cx="426.3" cy="156.0"/>
<circle class="AMR" cx="386.6" cy="84.3"/>
<circle class="AMR" cx="396.8" cy="72.8"/>
<circle class="AMR" cx="389.1" cy="25.8"/>
<circle class="AMR" cx="425.4" cy="113.3"/>
<circle class="AMR" cx="414.5" cy="114.0"/>
<circle class="AMR" cx="404.9" cy="96.0"/>
<circle class="AMR" cx="416.4" cy="88.3"/>
<circle class="AMR" cx="392.5" cy="55.7"/>
<circle class="AMR" cx="399.6" cy="84.6"/>
<circle class="AMR" cx="408.5" cy="84.7"/>
<circle class="AMR" cx="411.5" cy="94.4"/>
<circle class="AMR" cx="450.6" cy="114.3"/>
<circle class="AMR" cx="434.9" cy="88.7"/>
<circle class="AMR" cx="391.2" cy="70.5"/>
<circle class="AMR" cx="395.4" cy="66.5"/>
<circle class="AMR" cx="420.5" cy="93.5"/>
<circle class="AMR" cx="397.9" cy="77.2"/>
<circle class="AMR" cx="406.9" cy="108.5"/>
<circle class="AMR" cx="406.0" cy="105.5"/>
<circle class="AMR" cx="425.0" cy="99.0"/>
<circle class="AMR" cx="387.8" cy="36.5"/>
<circle class="AMR" cx="397.6" cy="80.0"/>
<circle class="AMR" cx="379.5" cy="45.7"/>
<circle class="AMR" cx="424.4" cy="119.0"/>
<circle class="AMR" cx="412.9" cy="81.3"/>
<circle class="AMR" cx="413.2" cy="102.2"/>
<circle class="AMR" cx="402.0" cy="90.2"/>
<circle class="AMR" cx="430.1" cy="106.9"/>
<circle class="AMR" cx="389.8" cy="49.1"/>
<circle class="AMR" cx="407.9" cy="76.6"/>
<circle class="AMR" cx="384.8" cy="35.0"/>
<circle class="AMR" cx="487.2" cy="131.2"/>
<circle class="AMR" cx="430.7" cy="127.8"/>
<circle class="AMR" cx="413.0" cy="87.4"/>
<circle class="AMR" cx="436.8" cy="126.7"/>
<circle class="AMR" cx="444.4" cy="89.0"/>
<circle class="AMR" cx="402.6" cy="62.4"/>
<circle class="AMR" cx="386.2" cy="20.9"/>
<circle class="AMR" cx="425.1" cy="111.5"/>
<circle class="AMR" cx="387.2" cy="45.5"/>
<circle class="AMR" cx="385.7" cy="67.1"/>
<circle class="AMR" cx="385.4" cy="21.3"/>
<circle class="AMR" cx="439.0" cy="130.7"/>
<circle class="AMR" cx="392.8" cy="73.9"/>
<circle class="AMR" cx="396.9" cy="111.8"/>
<circle class="AMR" cx="437.8" cy="126.5"/>
<circle class="AMR" cx="419.6" cy="112.2"/>
<circle class="AMR" cx="382.6" cy="81.3"/>
<circle class="AMR" cx="391.4" cy="46.6"/>
<circle class="AMR" cx="396.4" cy="62.4"/>
<circle class="AMR" cx="475.2" cy="127.0"/>
<circle class="AMR" cx="413.8" cy="106.1"/>
<circle class="SAS" cx="410.1" cy="197.4"/>
<circle class="SAS" cx="397.6" cy="178.7"/>
<circle class="SAS" cx="411.1" cy="189.0"/>
<circle class="SAS" cx="410.0" cy="199.9"/>
<circle class="SAS" cx="416.1" cy="202.9"/>
<circle class="SAS" cx="414.1" cy="213.5"/>
<circle class="SAS" cx="397.5" cy="193.4"/>
<circle class="SAS" cx="404.2" cy="200.0"/>
<circle class="SAS" cx="411.7" cy="196.9"/>
<circle class="SAS" cx="406.9" cy="190.7"/>
<circle class="SAS" cx="399.5" cy="190.0"/>
<circle class="SAS" cx="402.9" cy="185.4"/>
<circle class="SAS" cx="405.2" cy="177.1"/>
<circle class="SAS" cx="403.8" cy="185.9"/>
<circle class="SAS" cx="402.9" cy="202.5"/>
<circle class="SAS" cx="408.1" cy="208.3"/>
<circle class="SAS" cx="411.7" cy="220.6"/>
<circle class="SAS" cx="407.5" cy="194.0"/>
<circle class="SAS" cx="416.8" cy="205.7"/>
<circle class="SAS" cx="401.9" cy="168.7"/>
<circle class="SAS" cx="407.2" cy="191.1"/>
<circle class="SAS" cx="405.5" cy="192.4"/>
<circle class="SAS" cx="398.6" cy="208.4"/>
<circle class="SAS" cx="416.1" cy="213.8"/>
<circle class="SAS" cx="408.5" cy="178.3"/>
<circle class="SAS" cx="396.0" cy="184.5"/>
<circle class="SAS" cx="411.6" cy="196.8"/>
<circle class="SAS" cx="404.4" cy="171.1"/>
<circle class="SAS" cx="412.5" cy="188.6"/>
<circle class="SAS" cx="409.5" cy="173.1"/>
<circle class="SAS" cx="410.0" cy="218.2"/>
<circle class="SAS" cx="396.2" cy="207.7"/>
<circle class="SAS" cx="413.5" cy="191.3"/>
<circle class="SAS" cx="395.0" cy="190.0"/>
<circle class="SAS" cx="398.7" cy="195.6"/>
<circle class="SAS" cx="413.1" cy="209.5"/>
<circle class="SAS" cx="410.6" cy="180.2"/>
<circle class="SAS" cx="398.1" cy="189.2"/>
<circle class="SAS" cx="411.1" cy="210.9"/>
<circle class="SAS" cx="410.6" cy="186.5"/>
<circle class="SAS" cx="401.9" cy="214.8"/>
<circle class="SAS" cx="407.1" cy="181.2"/>
<circle class="SAS" cx="396.4" cy="199.8"/>
<circle class="SAS" cx="400.2" cy="187.3"/>
<circle class="SAS" cx="407.9" cy="199.3"/>
<circle class="SAS" cx="404.3" cy="182.3"/>
<circle class="SAS" cx="404.0" cy="197.2"/>
<circle class="SAS" cx="410.3" cy="193.0"/>
<circle class="SAS" cx="403.7" cy="180.4"/>
<circle class="SAS" cx="416.4" cy="194.7"/>
<circle class="SAS" cx="415.5" cy="181.6"/>
<circle class="SAS" cx="398.5" cy="180.7"/>
<circle class="SAS" cx="407.2" cy="220.8"/>
<circle class="SAS" cx="412.9" cy="178.3"/>
<circle class="SAS" cx="409.8" cy="217.5"/>
<circle class="SAS" cx="405.0" cy="171.3"/>
<circle class="SAS" cx="411.1" cy="171.1"/>
<circle class="SAS" cx="400.7" cy="210.7"/>
<circle class="SAS" cx="408.7" cy="191.6"/>
<circle class="SAS" cx="402.0" cy="190.3"/>
<circle class="SAS" cx="397.3" cy="181.7"/>
<circle class="SAS" cx="408.9" cy="188.7"/>
<circle class="SAS" cx="395.8" cy="196.2"/>
<circle class="SAS" cx="411.2" cy="216.3"/>
<circle class="SAS" cx="401.9" cy="218.7"/>
<circle class="SAS" cx="410.1" cy="190.4"/>
<circle class="SAS" cx="409.6" cy="204.8"/>
<circle class="SAS" cx="395.3" cy="184.9"/>
<circle class="SAS" cx="407.2" cy="177.5"/>
<circle class="SAS" cx="406.3" cy="205.5"/>
<circle class="SAS" cx="412.4" cy="190.0"/>
<circle class="SAS" cx="407.1" cy="193.2"/>
<circle class="SAS" cx="413.4" cy="198.5"/>
<circle class="SAS" cx="403.5" cy="201.1"/>
<circle class="SAS" cx="413.7" cy="207.1"/>
<circle class="SAS" cx="411.2" cy="203.1"/>
<circle class="SAS" cx="397.2" cy="188.3"/>
<circle class="SAS" cx="398.4" cy="208.2"/>
<circle class="SAS" cx="411.9" cy="206.6"/>
<circle class="SAS" cx="402.2" cy="199.3"/>
<circle class="SAS" cx="409.9" cy="199.5"/>
<circle class="SAS" cx="412.4" cy="174.7"/>
<circle class="SAS" cx="406.1" cy="200.9"/>
<circle class="SAS" cx="409.5" cy="189.9"/>
<circle class="SAS" cx="403.5" cy="214.5"/>
<circle class="AFR" cx="579.0" cy="143.5"/>
<circle class="AFR" cx="588.2" cy="157.9"/>
<circle class="AFR" cx="574.0" cy="136.9"/>
<circle class="AFR" cx="577.2" cy="138.0"/>
<circle class="AFR" cx="586.3" cy="154.5"/>
<circle class="AFR" cx="568.5" cy="138.5"/>
<circle class="AFR" cx="572.1" cy="165.0"/>
<circle class="AFR" cx="589.2" cy="150.4"/>
<circle class="AFR" cx="553.2" cy="147.0"/>
<circle class="AFR" cx="547.6" cy="156.2"/>
<circle class="AFR" cx="578.4" cy="160.4"/>
<circle class="AFR" cx="591.8" cy="154.3"/>
<circle class="AFR" cx="578.5" cy="158.6"/>
<circle class="AFR" cx="563.2" cy="136.2"/>
<circle class="AFR" cx="582.7" cy="143.7"/>
<circle class="AFR" cx="451.7" cy="143.3"/>
<circle class="AFR" cx="558.0" cy="147.8"/>
<circle class="AFR" cx="571.2" cy="157.1"/>
<circle class="AFR" cx="566.9" cy="138.9"/>
<circle class="AFR" cx="515.6" cy="150.1"/>
<circle class="AFR" cx="572.3" cy="154.8"/>
<circle class="AFR" cx="478.8" cy="147.0"/>
<circle class="AFR" cx="563.4" cy="152.6"/>
<circle class="AFR" cx="575.2" cy="156.9"/>
<circle class="AFR" cx="573.9" cy="153.2"/>
<circle class="AFR" cx="586.5" cy="145.9"/>
<circle class="AFR" cx="573.2" cy="161.4"/>
<circle class="AFR" cx="580.3" cy="143.4"/>
<circle class="AFR" cx="552.9" cy="147.8"/>
<circle class="AFR" cx="581.8" cy="142.0"/>
<circle class="AFR" cx="553.4" cy="153.3"/>
<circle class="AFR" cx="502.4" cy="146.2"/>
<circle class="AFR" cx="581.2" cy="154.6"/>
<circle class="AFR" cx="570.6" cy="136.9"/>
<circle class="AFR" cx="551.2" cy="155.4"/>
<circle class="AFR" cx="502.0" cy="149.8"/>
<circle class="AFR" cx="564.5" cy="153.5"/>
<circle class="AFR" cx="588.7" cy="145.7"/>
<circle class="AFR" cx="562.2" cy="147.1"/>
<circle class="AFR" cx="504.0" cy="125.0"/>
<circle class="AFR" cx="581.7" cy="163.1"/>
<circle class="AFR" cx="581.9" cy="151.0"/>
<circle class="AFR" cx="582.6" cy="150.6"/>
<circle class="AFR" cx="568.9" cy="155.9"/>
<circle class="AFR" cx="485.3" cy="136.7"/>
<circle class="AFR" cx="570.0" cy="161.1"/>
<circle class="AFR" cx="578.1" cy="153.3"/>
<circle class="AFR" cx="544.8" cy="138.4"/>
<circle class="AFR" cx="577.4" cy="163.2"/>
<circle class="AFR" cx="536.9" cy="145.6"/>
<circle class="AFR" cx="578.2" cy="147.0"/>
<circle class="AFR" cx="543.8" cy="153.7"/>
<circle class="AFR" cx="560.9" cy="154.0"/>
<circle class="AFR" cx="544.0" cy="140.8"/>
<circle class="AFR" cx="571.7" cy="141.2"/>
<circle class="AFR" cx="571.1" cy="147.8"/>
<circle class="AFR" cx="565.3" cy="139.3"/>
<circle class="AFR" cx="568.5" cy="147.2"/>
<circle class="AFR" cx="589.9" cy="143.2"/>
<circle class="AFR" cx="559.1" cy="154.5"/>
<circle class="AFR" cx="561.4" cy="140.5"/>
<circle class="AFR" cx="531.9" cy="153.7"/>
<circle class="AFR" cx="571.4" cy="162.8"/>
<circle class="AFR" cx="523.9" cy="149.1"/>
<circle class="AFR" cx="572.0" cy="145.2"/>
<circle class="AFR" cx="532.5" cy="150.8"/>
<circle class="AFR" cx="583.8" cy="154.4"/>
<circle class="AFR" cx="540.6" cy="148.3"/>
<circle class="AFR" cx="570.1" cy="137.2"/>
<circle class="AFR" cx="567.7" cy="157.3"/>
<circle class="AFR" cx="574.0" cy="144.4"/>
<circle class="AFR" cx="573.0" cy="142.3"/>
<circle class="AFR" cx="568.4" cy="154.9"/>
<circle class="AFR" cx="572.0" cy="138.1"/>
<circle class="AFR" cx="506.8" cy="147.3"/>
<circle class="AFR" cx="478.9" cy="141.9"/>
<circle class="AFR" cx="573.7" cy="154.6"/>
<circle class="GIAB" cx="406.4" cy="133.6"/>
<circle class="GIAB" cx="404.2" cy="136.0"/>
</g>
<rect x="366.6" y="4.2" width="238.1" height="241.7" fill="none" stroke="#333" stroke-width="1.1"/>
<line x1="371.2" y1="245.9" x2="371.2" y2="249.6" stroke="#333" stroke-width="1.3"/>
<text transform="translate(371.2,260.2) scale(1.055,1)" text-anchor="middle" class="tk">−0.02</text>
<line x1="445.5" y1="245.9" x2="445.5" y2="249.6" stroke="#333" stroke-width="1.3"/>
<text transform="translate(445.5,260.2) scale(1.055,1)" text-anchor="middle" class="tk">0.00</text>
<line x1="519.9" y1="245.9" x2="519.9" y2="249.6" stroke="#333" stroke-width="1.3"/>
<text transform="translate(519.9,260.2) scale(1.055,1)" text-anchor="middle" class="tk">0.02</text>
<line x1="594.4" y1="245.9" x2="594.4" y2="249.6" stroke="#333" stroke-width="1.3"/>
<text transform="translate(594.4,260.2) scale(1.055,1)" text-anchor="middle" class="tk">0.04</text>
<line x1="362.90000000000003" y1="71.0" x2="366.6" y2="71.0" stroke="#333" stroke-width="1.3"/>
<text transform="translate(360.3,74.9) scale(1.055,1)" text-anchor="end" class="tk">0.05</text>
<line x1="362.90000000000003" y1="150.7" x2="366.6" y2="150.7" stroke="#333" stroke-width="1.3"/>
<text transform="translate(360.3,154.6) scale(1.055,1)" text-anchor="end" class="tk">0.00</text>
<line x1="362.90000000000003" y1="230.4" x2="366.6" y2="230.4" stroke="#333" stroke-width="1.3"/>
<text transform="translate(360.3,234.3) scale(1.055,1)" text-anchor="end" class="tk">−0.05</text>
<text x="485.65000000000003" y="275.4" text-anchor="middle" class="ti">PC1</text>
<text transform="translate(326.2,125.05) rotate(-90)" text-anchor="middle" class="ti">PC3</text>
<text transform="translate(399.8,127.4) scale(1.055,1)" text-anchor="start" class="an">normal</text>
<text transform="translate(382.4,148.8) scale(1.055,1)" text-anchor="start" class="an">tumor</text>
<circle class="AFR" cx="635.1" cy="82.2"/>
<text transform="translate(652.3,86.0) scale(1.055,1)" text-anchor="start" class="lg">AFR</text>
<circle class="AMR" cx="635.1" cy="103.2"/>
<text transform="translate(652.3,107.0) scale(1.055,1)" text-anchor="start" class="lg">AMR</text>
<circle class="EAS" cx="635.1" cy="124.2"/>
<text transform="translate(652.3,128.0) scale(1.055,1)" text-anchor="start" class="lg">EAS</text>
<circle class="EUR" cx="635.1" cy="145.2"/>
<text transform="translate(652.3,149.0) scale(1.055,1)" text-anchor="start" class="lg">EUR</text>
<circle class="SAS" cx="635.1" cy="166.0"/>
<text transform="translate(652.3,169.8) scale(1.055,1)" text-anchor="start" class="lg">SAS</text>
<circle class="GIAB" cx="635.1" cy="186.6"/>
<text transform="translate(652.3,190.4) scale(1.055,1)" text-anchor="start" class="lg">GIAB</text>
</svg>
</body></html>
